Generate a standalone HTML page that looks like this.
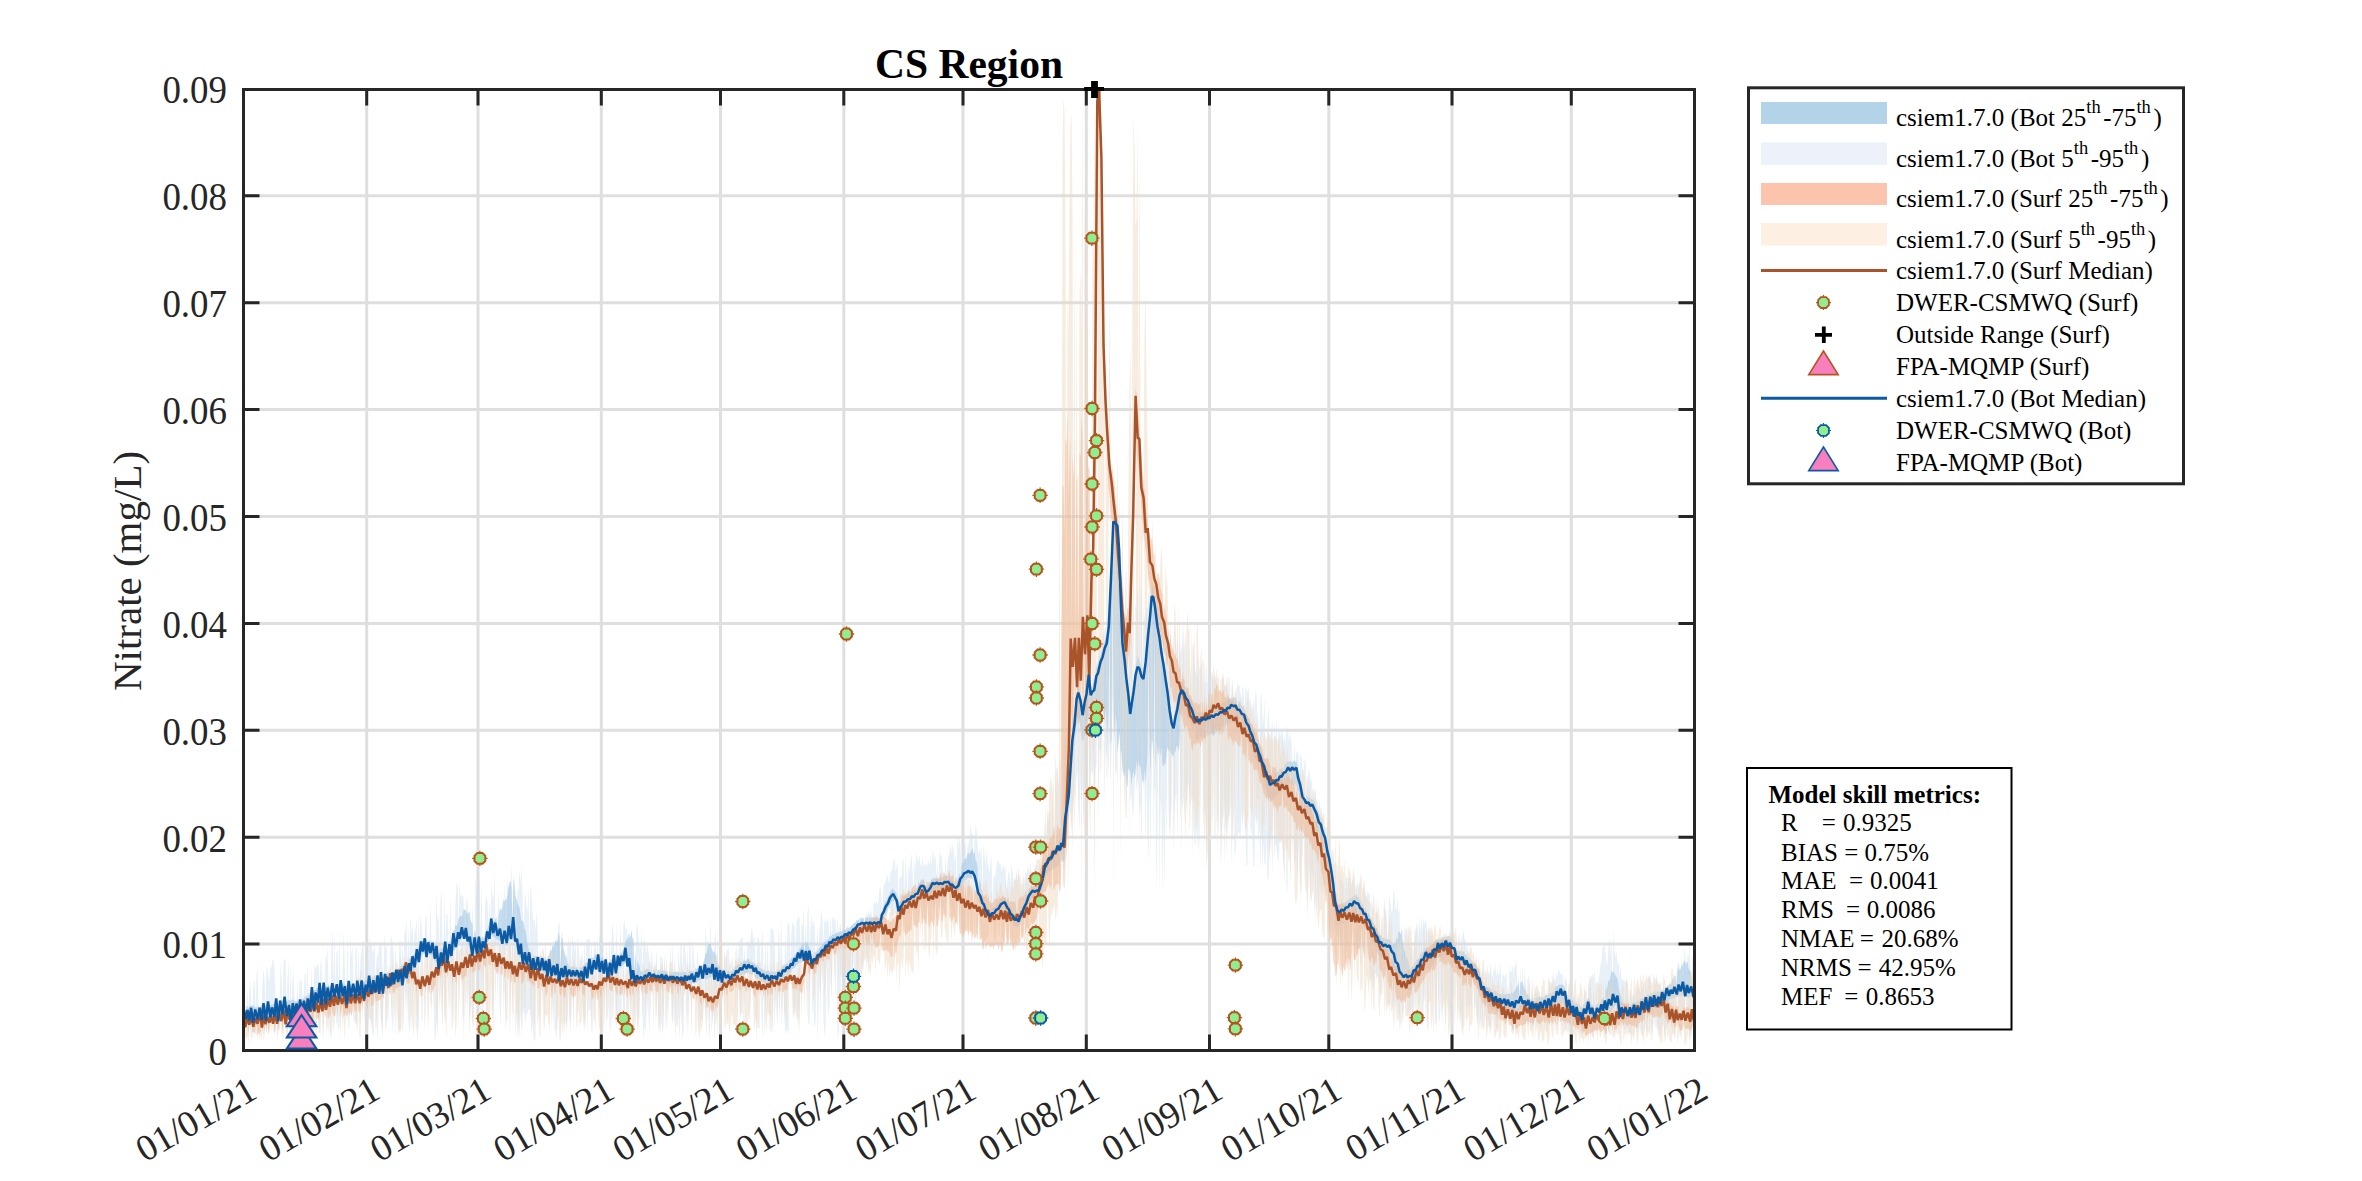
<!DOCTYPE html><html><head><meta charset="utf-8"><style>html,body{margin:0;padding:0;background:#fff;overflow:hidden}svg{display:block}</style></head><body><svg width="2362" height="1181" viewBox="0 0 2362 1181">
<rect width="100%" height="100%" fill="#fff"/>
<path d="M366.7 91V1049 M478.0 91V1049 M601.3 91V1049 M720.5 91V1049 M843.8 91V1049 M963.0 91V1049 M1086.3 91V1049 M1209.5 91V1049 M1328.8 91V1049 M1452.0 91V1049 M1571.3 91V1049 M245 944.1H1693 M245 837.2H1693 M245 730.3H1693 M245 623.4H1693 M245 516.5H1693 M245 409.6H1693 M245 302.7H1693 M245 195.8H1693" stroke="#262626" stroke-opacity="0.15" stroke-width="3" fill="none"/>
<defs><clipPath id="pc"><rect x="245" y="91" width="1448" height="958"/></clipPath></defs><g clip-path="url(#pc)">
<path d="M243.5 992.7 L244.5 985.7 L245.5 1009.7 L246.5 1009.5 L247.5 989.3 L248.5 1009.4 L249.5 988.3 L250.5 980.9 L251.5 1010.6 L252.5 1012.5 L253.5 981.1 L254.5 981.8 L255.5 1010.5 L256.5 977.1 L257.5 966.3 L258.5 1007.0 L259.5 1008.3 L260.5 1006.5 L261.5 1012.1 L262.5 981.6 L263.5 969.0 L264.5 980.2 L265.5 1006.5 L266.5 964.4 L267.5 970.8 L268.5 979.3 L269.5 981.1 L270.5 966.6 L271.5 968.3 L272.5 959.8 L273.5 959.5 L274.5 968.7 L275.5 1004.1 L276.5 1008.5 L277.5 1009.3 L278.5 1003.5 L279.5 1006.6 L280.5 960.0 L281.5 981.2 L282.5 1009.8 L283.5 963.1 L284.5 958.8 L285.5 961.1 L286.5 1007.4 L287.5 978.7 L288.5 960.2 L289.5 1008.1 L290.5 965.6 L291.5 1007.5 L292.5 978.0 L293.5 971.9 L294.5 1004.6 L295.5 1006.3 L296.5 1007.2 L297.5 980.6 L298.5 1007.0 L299.5 980.0 L300.5 980.9 L301.5 980.3 L302.5 999.5 L303.5 1003.5 L304.5 975.1 L305.5 972.4 L306.5 999.5 L307.5 959.8 L308.5 1000.9 L309.5 1000.6 L310.5 1000.0 L311.5 966.5 L312.5 998.0 L313.5 992.3 L314.5 963.9 L315.5 967.9 L316.5 966.9 L317.5 964.0 L318.5 965.3 L319.5 991.4 L320.5 961.1 L321.5 964.1 L322.5 989.1 L323.5 994.2 L324.5 988.5 L325.5 955.1 L326.5 959.2 L327.5 946.9 L328.5 989.5 L329.5 988.5 L330.5 990.9 L331.5 949.0 L332.5 929.8 L333.5 983.0 L334.5 932.6 L335.5 990.9 L336.5 951.6 L337.5 949.6 L338.5 987.3 L339.5 929.8 L340.5 990.6 L341.5 988.6 L342.5 983.6 L343.5 931.2 L344.5 954.6 L345.5 992.1 L346.5 988.2 L347.5 930.5 L348.5 990.8 L349.5 991.9 L350.5 935.4 L351.5 956.1 L352.5 944.3 L353.5 986.2 L354.5 989.3 L355.5 949.8 L356.5 945.4 L357.5 992.2 L358.5 944.2 L359.5 985.5 L360.5 959.4 L361.5 951.7 L362.5 940.5 L363.5 942.9 L364.5 985.7 L365.5 942.1 L366.5 981.7 L367.5 981.6 L368.5 949.0 L369.5 939.1 L370.5 943.5 L371.5 942.6 L372.5 952.1 L373.5 952.2 L374.5 939.4 L375.5 982.0 L376.5 957.9 L377.5 956.1 L378.5 952.1 L379.5 940.6 L380.5 948.0 L381.5 941.7 L382.5 977.6 L383.5 978.9 L384.5 933.4 L385.5 949.4 L386.5 943.5 L387.5 975.9 L388.5 977.7 L389.5 979.3 L390.5 944.9 L391.5 935.3 L392.5 941.7 L393.5 950.2 L394.5 974.8 L395.5 945.1 L396.5 970.3 L397.5 969.4 L398.5 972.4 L399.5 941.2 L400.5 940.2 L401.5 969.9 L402.5 938.6 L403.5 970.1 L404.5 927.1 L405.5 933.9 L406.5 918.9 L407.5 968.2 L408.5 925.5 L409.5 965.1 L410.5 914.6 L411.5 935.2 L412.5 923.0 L413.5 959.7 L414.5 932.0 L415.5 929.8 L416.5 918.8 L417.5 955.1 L418.5 915.3 L419.5 952.0 L420.5 913.3 L421.5 923.8 L422.5 946.7 L423.5 946.2 L424.5 940.8 L425.5 915.9 L426.5 916.0 L427.5 940.7 L428.5 940.9 L429.5 943.6 L430.5 902.2 L431.5 945.4 L432.5 945.7 L433.5 949.0 L434.5 951.9 L435.5 950.2 L436.5 893.4 L437.5 920.3 L438.5 917.6 L439.5 954.6 L440.5 899.5 L441.5 891.7 L442.5 947.9 L443.5 952.3 L444.5 895.3 L445.5 943.8 L446.5 914.6 L447.5 913.2 L448.5 946.7 L449.5 945.5 L450.5 896.8 L451.5 945.5 L452.5 944.9 L453.5 944.3 L454.5 935.5 L455.5 903.2 L456.5 882.1 L457.5 885.1 L458.5 929.1 L459.5 881.4 L460.5 897.4 L461.5 895.3 L462.5 895.3 L463.5 898.9 L464.5 925.0 L465.5 931.3 L466.5 896.3 L467.5 901.1 L468.5 936.2 L469.5 939.0 L470.5 939.2 L471.5 943.4 L472.5 900.9 L473.5 946.1 L474.5 939.6 L475.5 875.5 L476.5 891.8 L477.5 882.1 L478.5 892.7 L479.5 877.4 L480.5 941.8 L481.5 880.0 L482.5 938.3 L483.5 939.6 L484.5 941.3 L485.5 894.6 L486.5 898.9 L487.5 899.8 L488.5 932.6 L489.5 898.6 L490.5 925.1 L491.5 881.6 L492.5 897.5 L493.5 897.5 L494.5 873.7 L495.5 927.5 L496.5 923.7 L497.5 925.0 L498.5 889.4 L499.5 930.7 L500.5 929.9 L501.5 929.2 L502.5 894.2 L503.5 932.0 L504.5 878.2 L505.5 926.9 L506.5 937.2 L507.5 876.4 L508.5 888.2 L509.5 879.9 L510.5 886.9 L511.5 861.7 L512.5 924.3 L513.5 876.1 L514.5 927.4 L515.5 930.8 L516.5 934.6 L517.5 890.2 L518.5 890.0 L519.5 869.9 L520.5 884.3 L521.5 865.5 L522.5 896.4 L523.5 952.9 L524.5 905.4 L525.5 892.3 L526.5 907.5 L527.5 911.6 L528.5 888.4 L529.5 957.5 L530.5 883.4 L531.5 895.0 L532.5 914.1 L533.5 921.6 L534.5 919.5 L535.5 930.3 L536.5 910.8 L537.5 929.7 L538.5 959.6 L539.5 962.3 L540.5 959.4 L541.5 960.6 L542.5 964.4 L543.5 947.9 L544.5 961.2 L545.5 938.7 L546.5 963.6 L547.5 964.0 L548.5 962.5 L549.5 962.8 L550.5 944.7 L551.5 965.8 L552.5 945.3 L553.5 941.0 L554.5 943.5 L555.5 941.0 L556.5 968.1 L557.5 938.3 L558.5 922.9 L559.5 923.9 L560.5 970.7 L561.5 933.7 L562.5 932.6 L563.5 970.7 L564.5 968.0 L565.5 969.3 L566.5 971.8 L567.5 945.7 L568.5 937.4 L569.5 947.0 L570.5 936.8 L571.5 968.0 L572.5 935.3 L573.5 942.8 L574.5 951.5 L575.5 938.9 L576.5 971.7 L577.5 937.5 L578.5 941.6 L579.5 971.1 L580.5 972.8 L581.5 953.9 L582.5 953.1 L583.5 968.4 L584.5 938.9 L585.5 969.2 L586.5 939.8 L587.5 939.1 L588.5 940.1 L589.5 936.2 L590.5 964.2 L591.5 941.1 L592.5 962.2 L593.5 961.7 L594.5 939.4 L595.5 944.0 L596.5 957.4 L597.5 938.4 L598.5 960.9 L599.5 933.3 L600.5 942.8 L601.5 943.0 L602.5 941.5 L603.5 943.5 L604.5 964.4 L605.5 961.6 L606.5 943.0 L607.5 967.8 L608.5 968.0 L609.5 935.9 L610.5 965.8 L611.5 939.8 L612.5 922.0 L613.5 935.5 L614.5 963.2 L615.5 960.8 L616.5 922.6 L617.5 961.0 L618.5 960.5 L619.5 959.1 L620.5 921.3 L621.5 956.7 L622.5 952.9 L623.5 924.0 L624.5 919.9 L625.5 929.7 L626.5 925.8 L627.5 952.0 L628.5 960.2 L629.5 925.3 L630.5 960.7 L631.5 929.8 L632.5 968.2 L633.5 973.8 L634.5 968.6 L635.5 972.9 L636.5 928.0 L637.5 922.9 L638.5 939.7 L639.5 947.8 L640.5 948.2 L641.5 930.6 L642.5 977.4 L643.5 941.2 L644.5 940.5 L645.5 946.2 L646.5 955.8 L647.5 942.7 L648.5 953.5 L649.5 958.5 L650.5 971.5 L651.5 949.2 L652.5 959.4 L653.5 973.5 L654.5 959.0 L655.5 973.2 L656.5 947.5 L657.5 975.9 L658.5 976.0 L659.5 974.4 L660.5 955.6 L661.5 956.7 L662.5 958.5 L663.5 973.2 L664.5 953.4 L665.5 975.1 L666.5 956.2 L667.5 976.8 L668.5 974.4 L669.5 973.0 L670.5 944.1 L671.5 973.7 L672.5 942.5 L673.5 977.5 L674.5 954.9 L675.5 972.7 L676.5 976.8 L677.5 975.7 L678.5 947.9 L679.5 974.2 L680.5 944.7 L681.5 942.5 L682.5 975.5 L683.5 945.7 L684.5 943.1 L685.5 954.1 L686.5 975.2 L687.5 947.5 L688.5 974.1 L689.5 937.5 L690.5 948.6 L691.5 975.8 L692.5 940.4 L693.5 949.2 L694.5 972.2 L695.5 971.3 L696.5 974.7 L697.5 949.3 L698.5 970.9 L699.5 969.9 L700.5 971.9 L701.5 967.1 L702.5 969.5 L703.5 971.5 L704.5 965.3 L705.5 926.5 L706.5 942.7 L707.5 942.0 L708.5 940.5 L709.5 969.5 L710.5 917.3 L711.5 962.4 L712.5 970.4 L713.5 967.9 L714.5 938.0 L715.5 929.8 L716.5 970.4 L717.5 936.6 L718.5 972.9 L719.5 971.7 L720.5 938.7 L721.5 973.0 L722.5 970.2 L723.5 974.6 L724.5 951.6 L725.5 974.7 L726.5 948.5 L727.5 950.4 L728.5 946.5 L729.5 959.4 L730.5 977.5 L731.5 960.1 L732.5 955.8 L733.5 973.6 L734.5 973.8 L735.5 951.4 L736.5 945.9 L737.5 969.2 L738.5 949.8 L739.5 942.1 L740.5 939.2 L741.5 939.0 L742.5 936.1 L743.5 967.0 L744.5 946.7 L745.5 966.7 L746.5 963.9 L747.5 938.3 L748.5 945.6 L749.5 945.5 L750.5 938.3 L751.5 927.6 L752.5 931.4 L753.5 942.7 L754.5 934.3 L755.5 964.4 L756.5 966.1 L757.5 937.9 L758.5 936.1 L759.5 941.9 L760.5 970.4 L761.5 943.0 L762.5 928.9 L763.5 973.8 L764.5 975.7 L765.5 938.5 L766.5 977.1 L767.5 939.1 L768.5 969.1 L769.5 972.5 L770.5 926.7 L771.5 928.2 L772.5 929.1 L773.5 930.2 L774.5 943.0 L775.5 970.1 L776.5 976.4 L777.5 976.1 L778.5 928.8 L779.5 938.0 L780.5 967.8 L781.5 916.3 L782.5 966.4 L783.5 963.2 L784.5 967.8 L785.5 930.5 L786.5 963.4 L787.5 924.4 L788.5 922.9 L789.5 923.9 L790.5 962.7 L791.5 932.9 L792.5 920.9 L793.5 925.4 L794.5 924.5 L795.5 959.3 L796.5 922.1 L797.5 919.0 L798.5 915.7 L799.5 918.1 L800.5 950.6 L801.5 924.9 L802.5 926.3 L803.5 907.3 L804.5 949.8 L805.5 923.0 L806.5 952.0 L807.5 912.9 L808.5 904.9 L809.5 949.6 L810.5 926.6 L811.5 914.2 L812.5 927.4 L813.5 921.3 L814.5 922.2 L815.5 957.0 L816.5 951.4 L817.5 926.3 L818.5 953.7 L819.5 927.4 L820.5 923.7 L821.5 908.2 L822.5 921.0 L823.5 943.7 L824.5 916.7 L825.5 922.3 L826.5 921.5 L827.5 918.6 L828.5 923.7 L829.5 939.4 L830.5 914.6 L831.5 938.2 L832.5 914.7 L833.5 920.2 L834.5 918.4 L835.5 921.3 L836.5 936.7 L837.5 917.6 L838.5 936.2 L839.5 927.3 L840.5 922.3 L841.5 936.4 L842.5 936.1 L843.5 931.7 L844.5 935.2 L845.5 930.2 L846.5 934.4 L847.5 930.7 L848.5 929.3 L849.5 932.5 L850.5 932.1 L851.5 927.0 L852.5 925.6 L853.5 929.8 L854.5 925.0 L855.5 924.4 L856.5 926.5 L857.5 921.2 L858.5 920.1 L859.5 918.8 L860.5 918.0 L861.5 919.8 L862.5 919.5 L863.5 918.6 L864.5 922.4 L865.5 917.5 L866.5 915.0 L867.5 914.4 L868.5 911.9 L869.5 914.7 L870.5 909.4 L871.5 912.4 L872.5 920.9 L873.5 905.0 L874.5 900.6 L875.5 905.5 L876.5 900.6 L877.5 904.2 L878.5 901.4 L879.5 887.6 L880.5 886.9 L881.5 898.2 L882.5 910.7 L883.5 888.0 L884.5 883.5 L885.5 881.9 L886.5 878.1 L887.5 874.6 L888.5 882.7 L889.5 880.6 L890.5 871.9 L891.5 870.9 L892.5 869.0 L893.5 858.4 L894.5 859.3 L895.5 871.6 L896.5 866.7 L897.5 861.9 L898.5 902.9 L899.5 878.0 L900.5 877.5 L901.5 876.4 L902.5 861.6 L903.5 857.4 L904.5 896.9 L905.5 854.5 L906.5 873.5 L907.5 895.2 L908.5 863.6 L909.5 871.5 L910.5 860.7 L911.5 852.8 L912.5 870.6 L913.5 895.3 L914.5 860.1 L915.5 868.9 L916.5 852.1 L917.5 860.0 L918.5 861.0 L919.5 855.1 L920.5 866.4 L921.5 865.9 L922.5 856.8 L923.5 866.9 L924.5 863.9 L925.5 864.7 L926.5 866.4 L927.5 864.1 L928.5 860.3 L929.5 866.4 L930.5 857.4 L931.5 865.6 L932.5 854.9 L933.5 850.0 L934.5 861.1 L935.5 853.5 L936.5 879.5 L937.5 862.3 L938.5 882.4 L939.5 849.4 L940.5 855.9 L941.5 854.3 L942.5 863.9 L943.5 880.1 L944.5 880.1 L945.5 854.0 L946.5 876.9 L947.5 861.1 L948.5 855.8 L949.5 852.8 L950.5 843.9 L951.5 852.5 L952.5 843.4 L953.5 849.9 L954.5 859.1 L955.5 854.4 L956.5 883.9 L957.5 836.3 L958.5 847.2 L959.5 833.7 L960.5 846.9 L961.5 876.8 L962.5 838.0 L963.5 844.2 L964.5 844.0 L965.5 842.8 L966.5 865.4 L967.5 844.9 L968.5 845.1 L969.5 837.6 L970.5 824.5 L971.5 833.9 L972.5 832.4 L973.5 868.7 L974.5 843.3 L975.5 825.9 L976.5 829.0 L977.5 843.8 L978.5 853.5 L979.5 848.7 L980.5 855.9 L981.5 844.6 L982.5 896.2 L983.5 844.2 L984.5 854.6 L985.5 864.2 L986.5 850.2 L987.5 863.4 L988.5 866.4 L989.5 875.0 L990.5 864.7 L991.5 854.8 L992.5 903.8 L993.5 876.5 L994.5 876.8 L995.5 874.5 L996.5 866.1 L997.5 860.3 L998.5 860.2 L999.5 865.2 L1000.5 862.8 L1001.5 871.6 L1002.5 869.1 L1003.5 863.5 L1004.5 870.8 L1005.5 864.3 L1006.5 900.8 L1007.5 881.3 L1008.5 870.3 L1009.5 874.8 L1010.5 882.9 L1011.5 863.7 L1012.5 871.4 L1013.5 881.9 L1014.5 879.5 L1015.5 880.6 L1016.5 869.1 L1017.5 881.9 L1018.5 872.2 L1019.5 885.6 L1020.5 883.7 L1021.5 907.3 L1022.5 880.3 L1023.5 873.4 L1024.5 880.5 L1025.5 873.4 L1026.5 872.5 L1027.5 869.1 L1028.5 866.6 L1029.5 872.3 L1030.5 873.2 L1031.5 870.9 L1032.5 871.7 L1033.5 873.7 L1034.5 867.9 L1035.5 863.4 L1036.5 867.4 L1037.5 873.9 L1038.5 873.1 L1039.5 860.2 L1040.5 867.9 L1041.5 862.6 L1042.5 852.7 L1043.5 845.6 L1044.5 866.2 L1045.5 861.3 L1046.5 827.0 L1047.5 813.0 L1048.5 823.8 L1049.5 811.6 L1050.5 808.7 L1051.5 853.9 L1052.5 782.5 L1053.5 852.5 L1054.5 847.8 L1055.5 763.6 L1056.5 793.7 L1057.5 765.6 L1058.5 786.5 L1059.5 760.4 L1060.5 759.3 L1061.5 844.6 L1062.5 830.1 L1063.5 773.6 L1064.5 731.5 L1065.5 739.5 L1066.5 721.6 L1067.5 722.3 L1068.5 732.7 L1069.5 744.0 L1070.5 761.9 L1071.5 728.2 L1072.5 719.0 L1073.5 717.3 L1074.5 721.6 L1075.5 708.0 L1076.5 696.6 L1077.5 688.3 L1078.5 687.3 L1079.5 692.0 L1080.5 696.2 L1081.5 699.1 L1082.5 704.4 L1083.5 702.0 L1084.5 697.6 L1085.5 694.9 L1086.5 688.7 L1087.5 682.3 L1088.5 673.9 L1089.5 678.6 L1090.5 687.5 L1091.5 686.4 L1092.5 691.7 L1093.5 679.1 L1094.5 684.9 L1095.5 670.3 L1096.5 663.9 L1097.5 661.9 L1098.5 652.6 L1099.5 642.9 L1100.5 660.9 L1101.5 644.2 L1102.5 636.2 L1103.5 634.9 L1104.5 628.5 L1105.5 626.8 L1106.5 639.7 L1107.5 618.5 L1108.5 612.9 L1109.5 595.6 L1110.5 581.3 L1111.5 563.7 L1112.5 536.9 L1113.5 513.3 L1114.5 516.7 L1115.5 519.3 L1116.5 520.1 L1117.5 523.1 L1118.5 525.0 L1119.5 544.1 L1120.5 586.7 L1121.5 567.7 L1122.5 587.3 L1123.5 587.8 L1124.5 644.5 L1125.5 572.0 L1126.5 570.3 L1127.5 668.1 L1128.5 679.7 L1129.5 616.3 L1130.5 593.7 L1131.5 567.9 L1132.5 616.1 L1133.5 688.8 L1134.5 682.4 L1135.5 602.8 L1136.5 609.3 L1137.5 586.0 L1138.5 598.3 L1139.5 668.7 L1140.5 577.4 L1141.5 597.0 L1142.5 669.4 L1143.5 605.2 L1144.5 620.5 L1145.5 616.8 L1146.5 608.3 L1147.5 608.6 L1148.5 591.8 L1149.5 598.3 L1150.5 590.0 L1151.5 591.9 L1152.5 585.2 L1153.5 590.7 L1154.5 595.5 L1155.5 609.2 L1156.5 601.2 L1157.5 599.9 L1158.5 604.4 L1159.5 638.0 L1160.5 618.8 L1161.5 613.8 L1162.5 627.5 L1163.5 630.0 L1164.5 664.5 L1165.5 616.7 L1166.5 615.4 L1167.5 645.8 L1168.5 643.1 L1169.5 649.8 L1170.5 620.1 L1171.5 662.5 L1172.5 663.3 L1173.5 629.9 L1174.5 716.4 L1175.5 629.3 L1176.5 656.3 L1177.5 633.9 L1178.5 701.1 L1179.5 639.3 L1180.5 652.7 L1181.5 648.4 L1182.5 627.3 L1183.5 654.2 L1184.5 645.5 L1185.5 632.3 L1186.5 653.0 L1187.5 698.9 L1188.5 634.2 L1189.5 703.9 L1190.5 658.8 L1191.5 704.9 L1192.5 647.5 L1193.5 641.2 L1194.5 665.0 L1195.5 671.1 L1196.5 674.7 L1197.5 677.4 L1198.5 654.3 L1199.5 669.6 L1200.5 668.3 L1201.5 662.2 L1202.5 659.6 L1203.5 711.1 L1204.5 681.9 L1205.5 682.3 L1206.5 662.4 L1207.5 683.1 L1208.5 683.9 L1209.5 675.7 L1210.5 666.3 L1211.5 674.0 L1212.5 675.8 L1213.5 682.9 L1214.5 670.0 L1215.5 679.9 L1216.5 678.5 L1217.5 707.7 L1218.5 674.7 L1219.5 712.2 L1220.5 706.4 L1221.5 707.7 L1222.5 674.7 L1223.5 672.2 L1224.5 686.6 L1225.5 685.3 L1226.5 684.7 L1227.5 689.4 L1228.5 678.2 L1229.5 677.6 L1230.5 703.1 L1231.5 687.6 L1232.5 679.0 L1233.5 702.3 L1234.5 704.7 L1235.5 690.6 L1236.5 704.9 L1237.5 680.3 L1238.5 685.8 L1239.5 685.6 L1240.5 694.1 L1241.5 710.1 L1242.5 686.4 L1243.5 687.9 L1244.5 712.9 L1245.5 686.9 L1246.5 689.2 L1247.5 693.3 L1248.5 686.0 L1249.5 701.9 L1250.5 697.9 L1251.5 728.2 L1252.5 703.8 L1253.5 700.5 L1254.5 711.2 L1255.5 691.2 L1256.5 694.1 L1257.5 740.3 L1258.5 712.9 L1259.5 751.5 L1260.5 697.7 L1261.5 693.0 L1262.5 723.5 L1263.5 720.1 L1264.5 696.4 L1265.5 767.4 L1266.5 770.7 L1267.5 723.4 L1268.5 705.9 L1269.5 733.6 L1270.5 738.6 L1271.5 726.0 L1272.5 722.3 L1273.5 775.4 L1274.5 721.3 L1275.5 741.1 L1276.5 717.7 L1277.5 773.9 L1278.5 725.9 L1279.5 732.8 L1280.5 736.4 L1281.5 727.3 L1282.5 733.3 L1283.5 743.6 L1284.5 733.9 L1285.5 743.5 L1286.5 729.7 L1287.5 725.9 L1288.5 742.2 L1289.5 730.8 L1290.5 737.6 L1291.5 743.4 L1292.5 769.0 L1293.5 766.9 L1294.5 743.2 L1295.5 767.1 L1296.5 749.9 L1297.5 753.3 L1298.5 753.1 L1299.5 778.9 L1300.5 752.7 L1301.5 756.8 L1302.5 769.1 L1303.5 770.9 L1304.5 760.2 L1305.5 759.7 L1306.5 797.0 L1307.5 780.4 L1308.5 771.9 L1309.5 770.0 L1310.5 780.3 L1311.5 779.6 L1312.5 789.6 L1313.5 792.2 L1314.5 787.9 L1315.5 797.1 L1316.5 800.2 L1317.5 799.6 L1318.5 816.6 L1319.5 798.8 L1320.5 808.0 L1321.5 809.1 L1322.5 817.6 L1323.5 817.7 L1324.5 832.6 L1325.5 825.3 L1326.5 827.7 L1327.5 826.0 L1328.5 838.1 L1329.5 833.1 L1330.5 863.2 L1331.5 851.1 L1332.5 849.2 L1333.5 854.7 L1334.5 864.9 L1335.5 861.0 L1336.5 907.2 L1337.5 871.8 L1338.5 911.1 L1339.5 870.6 L1340.5 880.3 L1341.5 878.6 L1342.5 883.5 L1343.5 883.7 L1344.5 902.5 L1345.5 872.2 L1346.5 877.9 L1347.5 877.6 L1348.5 882.4 L1349.5 873.7 L1350.5 880.9 L1351.5 886.2 L1352.5 881.2 L1353.5 877.9 L1354.5 874.5 L1355.5 899.8 L1356.5 887.3 L1357.5 881.6 L1358.5 888.4 L1359.5 881.6 L1360.5 883.0 L1361.5 905.2 L1362.5 893.8 L1363.5 886.6 L1364.5 889.5 L1365.5 894.4 L1366.5 899.7 L1367.5 890.7 L1368.5 894.7 L1369.5 891.0 L1370.5 904.7 L1371.5 901.1 L1372.5 908.0 L1373.5 909.5 L1374.5 929.4 L1375.5 929.5 L1376.5 900.7 L1377.5 913.4 L1378.5 937.9 L1379.5 914.2 L1380.5 943.1 L1381.5 917.0 L1382.5 941.8 L1383.5 911.9 L1384.5 898.4 L1385.5 912.1 L1386.5 915.7 L1387.5 944.1 L1388.5 914.7 L1389.5 895.0 L1390.5 905.7 L1391.5 912.1 L1392.5 910.7 L1393.5 889.7 L1394.5 894.9 L1395.5 907.7 L1396.5 910.6 L1397.5 897.0 L1398.5 914.1 L1399.5 909.1 L1400.5 972.5 L1401.5 926.9 L1402.5 929.4 L1403.5 973.4 L1404.5 926.5 L1405.5 931.8 L1406.5 940.3 L1407.5 929.3 L1408.5 925.4 L1409.5 942.8 L1410.5 948.8 L1411.5 942.5 L1412.5 945.8 L1413.5 970.3 L1414.5 927.7 L1415.5 938.8 L1416.5 921.7 L1417.5 926.0 L1418.5 937.0 L1419.5 918.1 L1420.5 933.5 L1421.5 916.5 L1422.5 930.4 L1423.5 918.7 L1424.5 925.5 L1425.5 918.1 L1426.5 923.8 L1427.5 933.1 L1428.5 928.4 L1429.5 925.8 L1430.5 935.2 L1431.5 935.7 L1432.5 934.5 L1433.5 939.8 L1434.5 941.3 L1435.5 940.5 L1436.5 943.1 L1437.5 942.8 L1438.5 945.1 L1439.5 939.7 L1440.5 940.7 L1441.5 940.9 L1442.5 939.2 L1443.5 941.0 L1444.5 940.6 L1445.5 940.4 L1446.5 940.0 L1447.5 937.9 L1448.5 939.4 L1449.5 939.1 L1450.5 937.8 L1451.5 945.2 L1452.5 936.1 L1453.5 933.9 L1454.5 939.3 L1455.5 951.7 L1456.5 936.6 L1457.5 953.2 L1458.5 936.9 L1459.5 933.1 L1460.5 956.8 L1461.5 938.3 L1462.5 936.6 L1463.5 929.9 L1464.5 939.5 L1465.5 940.2 L1466.5 948.6 L1467.5 944.3 L1468.5 951.1 L1469.5 955.8 L1470.5 955.7 L1471.5 967.1 L1472.5 967.0 L1473.5 961.3 L1474.5 970.3 L1475.5 967.6 L1476.5 971.6 L1477.5 968.7 L1478.5 969.7 L1479.5 967.7 L1480.5 968.4 L1481.5 973.9 L1482.5 967.9 L1483.5 974.3 L1484.5 990.7 L1485.5 974.2 L1486.5 974.9 L1487.5 965.7 L1488.5 974.6 L1489.5 973.7 L1490.5 962.0 L1491.5 974.4 L1492.5 977.3 L1493.5 971.7 L1494.5 969.5 L1495.5 964.0 L1496.5 977.7 L1497.5 969.3 L1498.5 976.0 L1499.5 973.1 L1500.5 961.3 L1501.5 997.7 L1502.5 973.6 L1503.5 974.6 L1504.5 977.3 L1505.5 974.6 L1506.5 972.9 L1507.5 998.4 L1508.5 997.0 L1509.5 963.7 L1510.5 971.8 L1511.5 971.9 L1512.5 964.6 L1513.5 975.6 L1514.5 964.9 L1515.5 967.1 L1516.5 957.3 L1517.5 999.3 L1518.5 975.0 L1519.5 993.2 L1520.5 967.5 L1521.5 999.2 L1522.5 961.2 L1523.5 999.8 L1524.5 970.1 L1525.5 979.8 L1526.5 998.8 L1527.5 979.2 L1528.5 974.2 L1529.5 985.0 L1530.5 1001.4 L1531.5 1004.2 L1532.5 989.9 L1533.5 1003.1 L1534.5 990.6 L1535.5 991.6 L1536.5 993.6 L1537.5 988.6 L1538.5 995.4 L1539.5 991.3 L1540.5 1003.6 L1541.5 993.4 L1542.5 994.6 L1543.5 1002.8 L1544.5 1001.7 L1545.5 1001.3 L1546.5 987.4 L1547.5 1000.5 L1548.5 987.3 L1549.5 979.6 L1550.5 987.3 L1551.5 984.8 L1552.5 976.6 L1553.5 973.5 L1554.5 980.3 L1555.5 981.1 L1556.5 971.7 L1557.5 977.8 L1558.5 968.9 L1559.5 971.1 L1560.5 973.7 L1561.5 974.0 L1562.5 974.3 L1563.5 990.9 L1564.5 978.7 L1565.5 976.7 L1566.5 980.9 L1567.5 1002.8 L1568.5 983.4 L1569.5 984.9 L1570.5 992.9 L1571.5 1007.2 L1572.5 1006.0 L1573.5 997.7 L1574.5 995.5 L1575.5 1000.3 L1576.5 1001.4 L1577.5 996.2 L1578.5 998.1 L1579.5 1000.0 L1580.5 1005.9 L1581.5 1003.8 L1582.5 1012.8 L1583.5 995.8 L1584.5 990.4 L1585.5 991.8 L1586.5 990.1 L1587.5 1006.2 L1588.5 981.6 L1589.5 988.1 L1590.5 977.3 L1591.5 976.0 L1592.5 973.1 L1593.5 978.2 L1594.5 969.7 L1595.5 985.0 L1596.5 981.0 L1597.5 1007.0 L1598.5 977.8 L1599.5 974.9 L1600.5 964.4 L1601.5 961.6 L1602.5 947.7 L1603.5 946.9 L1604.5 942.9 L1605.5 952.9 L1606.5 962.8 L1607.5 963.8 L1608.5 947.2 L1609.5 937.4 L1610.5 952.5 L1611.5 943.9 L1612.5 991.2 L1613.5 928.8 L1614.5 952.1 L1615.5 956.9 L1616.5 950.4 L1617.5 964.5 L1618.5 962.1 L1619.5 975.0 L1620.5 965.3 L1621.5 978.6 L1622.5 980.3 L1623.5 979.4 L1624.5 981.7 L1625.5 980.9 L1626.5 979.4 L1627.5 980.7 L1628.5 990.1 L1629.5 1009.8 L1630.5 991.2 L1631.5 996.2 L1632.5 996.3 L1633.5 994.1 L1634.5 996.6 L1635.5 996.0 L1636.5 989.9 L1637.5 986.5 L1638.5 987.9 L1639.5 989.1 L1640.5 993.3 L1641.5 986.4 L1642.5 986.9 L1643.5 984.5 L1644.5 982.0 L1645.5 979.0 L1646.5 988.4 L1647.5 987.7 L1648.5 975.5 L1649.5 977.5 L1650.5 973.6 L1651.5 999.2 L1652.5 1000.0 L1653.5 985.8 L1654.5 977.6 L1655.5 978.7 L1656.5 979.3 L1657.5 984.9 L1658.5 986.1 L1659.5 985.3 L1660.5 979.8 L1661.5 997.9 L1662.5 988.3 L1663.5 981.4 L1664.5 995.2 L1665.5 994.6 L1666.5 988.6 L1667.5 987.6 L1668.5 986.5 L1669.5 984.9 L1670.5 987.2 L1671.5 984.3 L1672.5 980.3 L1673.5 979.6 L1674.5 989.5 L1675.5 988.6 L1676.5 973.8 L1677.5 964.5 L1678.5 961.6 L1679.5 965.7 L1680.5 987.7 L1681.5 951.2 L1682.5 985.2 L1683.5 987.7 L1684.5 945.2 L1685.5 959.0 L1686.5 987.6 L1687.5 955.0 L1688.5 958.0 L1689.5 940.7 L1690.5 986.0 L1691.5 983.7 L1692.5 955.8 L1693.5 957.9 L1694.5 987.5 L1694.5 1019.1 L1693.5 1037.0 L1692.5 1018.9 L1691.5 1034.7 L1690.5 1038.4 L1689.5 1039.5 L1688.5 1031.9 L1687.5 992.9 L1686.5 1021.0 L1685.5 992.1 L1684.5 1022.7 L1683.5 1029.8 L1682.5 1019.5 L1681.5 1029.6 L1680.5 1031.4 L1679.5 1030.2 L1678.5 1021.3 L1677.5 995.0 L1676.5 990.8 L1675.5 1039.5 L1674.5 1035.7 L1673.5 1021.5 L1672.5 1035.2 L1671.5 1020.5 L1670.5 995.1 L1669.5 1020.7 L1668.5 1022.7 L1667.5 1027.2 L1666.5 1028.6 L1665.5 1037.1 L1664.5 1035.1 L1663.5 1025.7 L1662.5 1024.4 L1661.5 1023.5 L1660.5 1039.4 L1659.5 1029.9 L1658.5 1038.6 L1657.5 1022.6 L1656.5 1028.6 L1655.5 1028.0 L1654.5 1003.2 L1653.5 1022.6 L1652.5 1033.3 L1651.5 1023.4 L1650.5 1036.6 L1649.5 1031.6 L1648.5 1006.8 L1647.5 1033.1 L1646.5 1031.2 L1645.5 1026.6 L1644.5 1033.0 L1643.5 1009.9 L1642.5 1038.3 L1641.5 1034.5 L1640.5 1030.7 L1639.5 1026.3 L1638.5 1034.4 L1637.5 1027.3 L1636.5 1034.4 L1635.5 1014.3 L1634.5 1031.7 L1633.5 1036.0 L1632.5 1011.7 L1631.5 1035.8 L1630.5 1031.4 L1629.5 1036.2 L1628.5 1027.0 L1627.5 1026.7 L1626.5 1035.6 L1625.5 1026.7 L1624.5 1030.9 L1623.5 1026.2 L1622.5 1026.3 L1621.5 1029.3 L1620.5 1026.3 L1619.5 1010.7 L1618.5 1035.6 L1617.5 1033.7 L1616.5 1029.2 L1615.5 1024.1 L1614.5 1038.1 L1613.5 1004.0 L1612.5 1029.7 L1611.5 1037.3 L1610.5 1022.9 L1609.5 1033.0 L1608.5 1031.4 L1607.5 1025.5 L1606.5 1032.5 L1605.5 1034.7 L1604.5 1031.3 L1603.5 1028.7 L1602.5 1025.6 L1601.5 1025.2 L1600.5 1027.9 L1599.5 1030.4 L1598.5 1028.5 L1597.5 1028.9 L1596.5 1029.1 L1595.5 1030.2 L1594.5 1027.1 L1593.5 1035.9 L1592.5 1037.7 L1591.5 1035.5 L1590.5 1027.4 L1589.5 1027.8 L1588.5 1007.8 L1587.5 1027.8 L1586.5 1033.4 L1585.5 1014.1 L1584.5 1026.6 L1583.5 1030.4 L1582.5 1027.6 L1581.5 1034.0 L1580.5 1032.7 L1579.5 1032.0 L1578.5 1036.0 L1577.5 1031.8 L1576.5 1015.5 L1575.5 1028.1 L1574.5 1027.6 L1573.5 1026.0 L1572.5 1025.3 L1571.5 1025.0 L1570.5 1008.9 L1569.5 1028.1 L1568.5 1032.5 L1567.5 1033.1 L1566.5 1024.5 L1565.5 1031.9 L1564.5 1021.9 L1563.5 996.1 L1562.5 1030.5 L1561.5 998.5 L1560.5 1036.5 L1559.5 993.1 L1558.5 1021.3 L1557.5 1025.1 L1556.5 1024.5 L1555.5 1024.6 L1554.5 997.4 L1553.5 998.8 L1552.5 1021.5 L1551.5 1029.6 L1550.5 1022.3 L1549.5 1004.3 L1548.5 1024.5 L1547.5 1032.1 L1546.5 1032.0 L1545.5 1031.1 L1544.5 1024.7 L1543.5 1007.8 L1542.5 1005.4 L1541.5 1023.7 L1540.5 1032.4 L1539.5 1022.8 L1538.5 1023.8 L1537.5 1026.7 L1536.5 1032.8 L1535.5 1007.9 L1534.5 1024.6 L1533.5 1028.1 L1532.5 1025.2 L1531.5 1027.0 L1530.5 1031.2 L1529.5 1005.5 L1528.5 1025.8 L1527.5 1025.2 L1526.5 1021.0 L1525.5 1024.5 L1524.5 1020.7 L1523.5 1024.9 L1522.5 1023.7 L1521.5 1002.4 L1520.5 1023.7 L1519.5 1023.7 L1518.5 1000.3 L1517.5 1029.3 L1516.5 1028.1 L1515.5 1025.2 L1514.5 1007.6 L1513.5 1026.2 L1512.5 1033.3 L1511.5 1021.2 L1510.5 1021.3 L1509.5 1020.8 L1508.5 1021.7 L1507.5 1004.0 L1506.5 1021.4 L1505.5 1019.7 L1504.5 1027.1 L1503.5 1020.0 L1502.5 1019.8 L1501.5 1004.6 L1500.5 1004.5 L1499.5 1020.9 L1498.5 1019.5 L1497.5 1033.1 L1496.5 1027.8 L1495.5 1025.6 L1494.5 1003.3 L1493.5 1000.4 L1492.5 1021.2 L1491.5 1025.9 L1490.5 1032.5 L1489.5 1028.1 L1488.5 1019.0 L1487.5 1019.2 L1486.5 1029.4 L1485.5 1017.8 L1484.5 1015.7 L1483.5 994.1 L1482.5 1022.7 L1481.5 1028.4 L1480.5 1017.3 L1479.5 1030.1 L1478.5 1010.4 L1477.5 1026.1 L1476.5 1010.9 L1475.5 1005.9 L1474.5 1007.9 L1473.5 972.2 L1472.5 974.6 L1471.5 1010.0 L1470.5 1003.4 L1469.5 1006.3 L1468.5 1007.3 L1467.5 1001.6 L1466.5 1025.3 L1465.5 1017.3 L1464.5 961.3 L1463.5 1018.0 L1462.5 1030.6 L1461.5 1011.2 L1460.5 1024.1 L1459.5 1006.1 L1458.5 964.1 L1457.5 1027.7 L1456.5 965.9 L1455.5 962.5 L1454.5 951.0 L1453.5 996.7 L1452.5 999.8 L1451.5 994.9 L1450.5 1023.6 L1449.5 1010.6 L1448.5 1011.1 L1447.5 992.3 L1446.5 996.6 L1445.5 1023.4 L1444.5 1006.4 L1443.5 951.9 L1442.5 1026.1 L1441.5 992.9 L1440.5 1006.1 L1439.5 1022.4 L1438.5 1018.2 L1437.5 946.5 L1436.5 1025.1 L1435.5 1024.4 L1434.5 1003.7 L1433.5 955.7 L1432.5 1006.3 L1431.5 964.3 L1430.5 1021.7 L1429.5 963.5 L1428.5 1027.7 L1427.5 1030.2 L1426.5 1011.4 L1425.5 963.7 L1424.5 1001.1 L1423.5 998.4 L1422.5 1026.8 L1421.5 1024.7 L1420.5 972.4 L1419.5 1005.8 L1418.5 1006.1 L1417.5 1018.3 L1416.5 971.3 L1415.5 977.1 L1414.5 1006.4 L1413.5 1011.4 L1412.5 1030.5 L1411.5 1005.9 L1410.5 1013.9 L1409.5 1006.8 L1408.5 1017.2 L1407.5 1013.1 L1406.5 983.5 L1405.5 1013.0 L1404.5 982.3 L1403.5 1007.5 L1402.5 1011.9 L1401.5 1019.9 L1400.5 1027.9 L1399.5 1016.2 L1398.5 1012.8 L1397.5 1002.0 L1396.5 1000.4 L1395.5 1014.0 L1394.5 1002.0 L1393.5 1000.9 L1392.5 1010.8 L1391.5 987.8 L1390.5 988.1 L1389.5 1014.1 L1388.5 1000.3 L1387.5 1009.4 L1386.5 987.4 L1385.5 982.7 L1384.5 948.2 L1383.5 995.5 L1382.5 952.5 L1381.5 983.1 L1380.5 1001.9 L1379.5 985.1 L1378.5 978.4 L1377.5 976.4 L1376.5 977.3 L1375.5 974.1 L1374.5 972.9 L1373.5 990.4 L1372.5 980.5 L1371.5 976.2 L1370.5 981.5 L1369.5 968.9 L1368.5 929.0 L1367.5 924.7 L1366.5 962.9 L1365.5 953.5 L1364.5 953.1 L1363.5 916.1 L1362.5 915.1 L1361.5 962.5 L1360.5 964.4 L1359.5 950.5 L1358.5 947.6 L1357.5 949.3 L1356.5 948.5 L1355.5 944.2 L1354.5 912.3 L1353.5 908.2 L1352.5 942.1 L1351.5 941.0 L1350.5 939.8 L1349.5 906.4 L1348.5 940.4 L1347.5 959.8 L1346.5 937.5 L1345.5 956.2 L1344.5 936.4 L1343.5 915.5 L1342.5 955.1 L1341.5 943.8 L1340.5 942.8 L1339.5 941.0 L1338.5 944.2 L1337.5 932.4 L1336.5 937.5 L1335.5 928.8 L1334.5 928.6 L1333.5 935.8 L1332.5 922.7 L1331.5 912.4 L1330.5 934.6 L1329.5 925.7 L1328.5 907.7 L1327.5 907.1 L1326.5 856.9 L1325.5 892.0 L1324.5 839.3 L1323.5 887.5 L1322.5 892.7 L1321.5 893.4 L1320.5 889.0 L1319.5 879.8 L1318.5 917.6 L1317.5 884.1 L1316.5 920.0 L1315.5 895.5 L1314.5 914.5 L1313.5 886.8 L1312.5 874.0 L1311.5 870.8 L1310.5 902.4 L1309.5 864.4 L1308.5 881.8 L1307.5 909.3 L1306.5 861.7 L1305.5 885.3 L1304.5 809.2 L1303.5 812.5 L1302.5 860.2 L1301.5 853.6 L1300.5 897.7 L1299.5 873.4 L1298.5 845.6 L1297.5 882.7 L1296.5 850.0 L1295.5 861.2 L1294.5 864.3 L1293.5 844.7 L1292.5 775.0 L1291.5 841.0 L1290.5 875.6 L1289.5 847.5 L1288.5 781.7 L1287.5 892.3 L1286.5 885.6 L1285.5 774.2 L1284.5 848.6 L1283.5 867.1 L1282.5 846.0 L1281.5 840.8 L1280.5 839.7 L1279.5 843.3 L1278.5 862.6 L1277.5 858.8 L1276.5 844.0 L1275.5 844.3 L1274.5 857.8 L1273.5 786.8 L1272.5 877.1 L1271.5 839.5 L1270.5 838.9 L1269.5 854.2 L1268.5 878.7 L1267.5 880.5 L1266.5 834.6 L1265.5 865.8 L1264.5 863.7 L1263.5 841.9 L1262.5 869.8 L1261.5 829.8 L1260.5 871.6 L1259.5 823.9 L1258.5 845.2 L1257.5 818.9 L1256.5 822.2 L1255.5 763.1 L1254.5 867.1 L1253.5 866.6 L1252.5 843.0 L1251.5 830.8 L1250.5 828.9 L1249.5 745.8 L1248.5 732.7 L1247.5 864.4 L1246.5 866.7 L1245.5 836.9 L1244.5 816.9 L1243.5 721.5 L1242.5 825.5 L1241.5 812.6 L1240.5 837.4 L1239.5 833.8 L1238.5 831.6 L1237.5 835.1 L1236.5 834.8 L1235.5 855.6 L1234.5 851.7 L1233.5 714.2 L1232.5 814.6 L1231.5 867.7 L1230.5 802.6 L1229.5 815.2 L1228.5 817.8 L1227.5 836.8 L1226.5 822.2 L1225.5 830.6 L1224.5 799.1 L1223.5 816.7 L1222.5 819.8 L1221.5 851.1 L1220.5 865.0 L1219.5 727.7 L1218.5 832.4 L1217.5 814.8 L1216.5 826.9 L1215.5 731.9 L1214.5 730.2 L1213.5 812.1 L1212.5 822.1 L1211.5 735.8 L1210.5 722.8 L1209.5 730.1 L1208.5 809.7 L1207.5 807.6 L1206.5 859.8 L1205.5 819.8 L1204.5 805.0 L1203.5 827.9 L1202.5 739.4 L1201.5 721.1 L1200.5 826.8 L1199.5 730.4 L1198.5 850.1 L1197.5 842.0 L1196.5 825.9 L1195.5 846.1 L1194.5 842.4 L1193.5 827.1 L1192.5 796.7 L1191.5 798.5 L1190.5 806.8 L1189.5 798.4 L1188.5 785.2 L1187.5 784.3 L1186.5 812.2 L1185.5 785.2 L1184.5 825.2 L1183.5 795.4 L1182.5 812.0 L1181.5 791.0 L1180.5 815.7 L1179.5 702.1 L1178.5 782.5 L1177.5 841.2 L1176.5 792.0 L1175.5 797.7 L1174.5 814.6 L1173.5 855.0 L1172.5 732.3 L1171.5 810.2 L1170.5 813.6 L1169.5 837.9 L1168.5 807.0 L1167.5 702.0 L1166.5 839.7 L1165.5 797.8 L1164.5 891.9 L1163.5 821.7 L1162.5 896.9 L1161.5 810.4 L1160.5 798.9 L1159.5 897.1 L1158.5 668.4 L1157.5 822.4 L1156.5 894.8 L1155.5 791.4 L1154.5 787.3 L1153.5 841.5 L1152.5 603.1 L1151.5 625.3 L1150.5 867.5 L1149.5 788.2 L1148.5 859.7 L1147.5 836.4 L1146.5 774.1 L1145.5 843.4 L1144.5 780.5 L1143.5 790.5 L1142.5 691.2 L1141.5 846.6 L1140.5 802.7 L1139.5 817.5 L1138.5 785.8 L1137.5 778.3 L1136.5 791.1 L1135.5 766.8 L1134.5 791.3 L1133.5 810.2 L1132.5 817.4 L1131.5 795.5 L1130.5 801.2 L1129.5 768.0 L1128.5 769.0 L1127.5 771.9 L1126.5 815.8 L1125.5 774.4 L1124.5 813.3 L1123.5 744.1 L1122.5 642.7 L1121.5 780.7 L1120.5 767.0 L1119.5 718.0 L1118.5 692.9 L1117.5 787.1 L1116.5 769.2 L1115.5 774.6 L1114.5 737.2 L1113.5 683.8 L1112.5 706.8 L1111.5 751.7 L1110.5 789.1 L1109.5 734.0 L1108.5 775.6 L1107.5 742.0 L1106.5 757.0 L1105.5 749.5 L1104.5 808.5 L1103.5 663.5 L1102.5 670.3 L1101.5 750.7 L1100.5 749.5 L1099.5 750.1 L1098.5 813.0 L1097.5 689.3 L1096.5 764.0 L1095.5 768.8 L1094.5 810.4 L1093.5 768.6 L1092.5 775.1 L1091.5 770.1 L1090.5 771.3 L1089.5 823.1 L1088.5 688.7 L1087.5 823.1 L1086.5 694.7 L1085.5 820.3 L1084.5 780.7 L1083.5 829.1 L1082.5 787.6 L1081.5 800.8 L1080.5 779.6 L1079.5 831.9 L1078.5 801.7 L1077.5 771.6 L1076.5 777.2 L1075.5 801.8 L1074.5 787.0 L1073.5 799.9 L1072.5 810.5 L1071.5 831.1 L1070.5 817.3 L1069.5 792.5 L1068.5 831.7 L1067.5 840.3 L1066.5 832.5 L1065.5 831.5 L1064.5 838.9 L1063.5 847.5 L1062.5 848.4 L1061.5 849.7 L1060.5 852.3 L1059.5 854.3 L1058.5 855.2 L1057.5 850.2 L1056.5 857.7 L1055.5 853.1 L1054.5 862.0 L1053.5 863.8 L1052.5 856.4 L1051.5 868.8 L1050.5 860.4 L1049.5 876.4 L1048.5 871.3 L1047.5 874.6 L1046.5 875.6 L1045.5 878.8 L1044.5 882.6 L1043.5 888.6 L1042.5 889.7 L1041.5 892.1 L1040.5 894.8 L1039.5 895.5 L1038.5 897.5 L1037.5 891.7 L1036.5 891.1 L1035.5 891.1 L1034.5 899.0 L1033.5 899.1 L1032.5 899.1 L1031.5 897.2 L1030.5 893.2 L1029.5 899.6 L1028.5 901.7 L1027.5 899.9 L1026.5 907.5 L1025.5 905.6 L1024.5 912.8 L1023.5 909.8 L1022.5 916.5 L1021.5 918.5 L1020.5 922.0 L1019.5 923.2 L1018.5 925.7 L1017.5 925.3 L1016.5 924.6 L1015.5 923.7 L1014.5 925.7 L1013.5 923.4 L1012.5 921.3 L1011.5 918.9 L1010.5 918.7 L1009.5 915.6 L1008.5 913.8 L1007.5 913.4 L1006.5 913.7 L1005.5 908.7 L1004.5 906.9 L1003.5 907.8 L1002.5 907.1 L1001.5 908.9 L1000.5 910.6 L999.5 911.6 L998.5 914.4 L997.5 914.3 L996.5 915.1 L995.5 912.5 L994.5 918.1 L993.5 913.8 L992.5 919.5 L991.5 918.6 L990.5 919.4 L989.5 916.1 L988.5 915.2 L987.5 913.9 L986.5 911.0 L985.5 914.9 L984.5 912.0 L983.5 910.6 L982.5 907.2 L981.5 906.2 L980.5 898.9 L979.5 904.7 L978.5 901.7 L977.5 904.0 L976.5 885.3 L975.5 899.5 L974.5 901.6 L973.5 892.2 L972.5 898.9 L971.5 903.8 L970.5 875.8 L969.5 907.1 L968.5 906.7 L967.5 893.6 L966.5 904.9 L965.5 907.7 L964.5 896.1 L963.5 903.9 L962.5 898.6 L961.5 895.9 L960.5 898.9 L959.5 898.9 L958.5 900.0 L957.5 899.9 L956.5 909.3 L955.5 900.3 L954.5 901.6 L953.5 910.2 L952.5 906.7 L951.5 908.5 L950.5 900.6 L949.5 887.1 L948.5 886.6 L947.5 885.6 L946.5 884.1 L945.5 903.1 L944.5 899.2 L943.5 910.5 L942.5 907.5 L941.5 909.0 L940.5 887.3 L939.5 910.2 L938.5 906.8 L937.5 900.4 L936.5 902.4 L935.5 885.8 L934.5 911.1 L933.5 905.6 L932.5 903.9 L931.5 900.9 L930.5 907.1 L929.5 903.0 L928.5 893.8 L927.5 908.0 L926.5 895.3 L925.5 906.3 L924.5 902.8 L923.5 913.2 L922.5 901.4 L921.5 904.2 L920.5 912.9 L919.5 903.4 L918.5 904.5 L917.5 913.0 L916.5 910.7 L915.5 909.1 L914.5 908.4 L913.5 908.7 L912.5 909.0 L911.5 909.0 L910.5 908.0 L909.5 914.9 L908.5 913.0 L907.5 915.2 L906.5 901.0 L905.5 910.0 L904.5 904.1 L903.5 910.9 L902.5 915.7 L901.5 915.7 L900.5 914.2 L899.5 913.8 L898.5 916.5 L897.5 912.6 L896.5 912.0 L895.5 913.6 L894.5 915.3 L893.5 915.3 L892.5 913.1 L891.5 915.7 L890.5 909.8 L889.5 910.5 L888.5 902.3 L887.5 914.1 L886.5 915.7 L885.5 915.8 L884.5 915.1 L883.5 916.7 L882.5 920.9 L881.5 925.3 L880.5 927.3 L879.5 928.6 L878.5 930.0 L877.5 930.0 L876.5 929.3 L875.5 931.8 L874.5 940.8 L873.5 936.1 L872.5 947.2 L871.5 952.4 L870.5 945.1 L869.5 946.5 L868.5 962.0 L867.5 962.3 L866.5 967.4 L865.5 929.2 L864.5 956.3 L863.5 970.3 L862.5 962.4 L861.5 979.2 L860.5 927.6 L859.5 927.7 L858.5 1005.4 L857.5 979.2 L856.5 986.1 L855.5 1016.6 L854.5 1004.9 L853.5 930.7 L852.5 1014.5 L851.5 1025.8 L850.5 998.0 L849.5 1004.7 L848.5 1029.6 L847.5 1010.3 L846.5 950.5 L845.5 1006.1 L844.5 1041.7 L843.5 949.0 L842.5 1006.0 L841.5 947.4 L840.5 1002.6 L839.5 1011.8 L838.5 1039.6 L837.5 1030.3 L836.5 942.7 L835.5 1011.1 L834.5 952.7 L833.5 940.9 L832.5 952.4 L831.5 998.9 L830.5 946.7 L829.5 1005.8 L828.5 1017.1 L827.5 1002.5 L826.5 955.5 L825.5 1029.2 L824.5 1036.5 L823.5 1020.2 L822.5 953.1 L821.5 962.3 L820.5 1026.2 L819.5 959.6 L818.5 1008.4 L817.5 1041.9 L816.5 965.3 L815.5 1022.4 L814.5 1027.9 L813.5 1008.9 L812.5 972.7 L811.5 963.2 L810.5 970.4 L809.5 1024.8 L808.5 1024.0 L807.5 1013.4 L806.5 960.9 L805.5 962.0 L804.5 955.1 L803.5 963.1 L802.5 962.4 L801.5 956.6 L800.5 957.3 L799.5 1036.1 L798.5 1005.5 L797.5 1019.1 L796.5 1018.5 L795.5 1007.4 L794.5 1007.1 L793.5 1016.2 L792.5 968.1 L791.5 972.0 L790.5 973.8 L789.5 971.8 L788.5 1033.8 L787.5 1030.7 L786.5 1030.4 L785.5 1034.6 L784.5 1021.2 L783.5 980.9 L782.5 981.8 L781.5 1031.0 L780.5 979.6 L779.5 1020.1 L778.5 983.0 L777.5 1025.7 L776.5 1013.9 L775.5 980.1 L774.5 1030.1 L773.5 986.1 L772.5 1028.5 L771.5 986.6 L770.5 1031.6 L769.5 1030.1 L768.5 979.8 L767.5 1016.5 L766.5 987.2 L765.5 1015.3 L764.5 1038.9 L763.5 977.3 L762.5 1041.4 L761.5 1016.2 L760.5 976.0 L759.5 978.6 L758.5 973.2 L757.5 1011.7 L756.5 1041.7 L755.5 1018.1 L754.5 971.7 L753.5 971.6 L752.5 974.6 L751.5 971.8 L750.5 1009.6 L749.5 1012.4 L748.5 968.8 L747.5 976.5 L746.5 972.1 L745.5 973.5 L744.5 1026.5 L743.5 1025.6 L742.5 973.4 L741.5 1010.9 L740.5 1018.6 L739.5 973.2 L738.5 980.8 L737.5 1034.8 L736.5 977.9 L735.5 1017.3 L734.5 976.7 L733.5 976.3 L732.5 982.3 L731.5 981.4 L730.5 980.4 L729.5 980.1 L728.5 980.8 L727.5 1029.5 L726.5 985.6 L725.5 984.8 L724.5 1016.3 L723.5 976.8 L722.5 983.7 L721.5 1033.2 L720.5 1035.3 L719.5 980.1 L718.5 1013.9 L717.5 976.6 L716.5 1014.3 L715.5 1023.5 L714.5 1040.6 L713.5 1010.3 L712.5 1021.4 L711.5 1033.7 L710.5 976.6 L709.5 1039.2 L708.5 975.6 L707.5 1015.1 L706.5 1037.2 L705.5 1013.8 L704.5 978.1 L703.5 1011.6 L702.5 1022.5 L701.5 1016.6 L700.5 1024.6 L699.5 1011.7 L698.5 1037.5 L697.5 1016.3 L696.5 982.8 L695.5 982.0 L694.5 982.5 L693.5 983.5 L692.5 981.1 L691.5 1017.7 L690.5 978.0 L689.5 985.6 L688.5 1031.4 L687.5 984.3 L686.5 1032.5 L685.5 983.2 L684.5 987.2 L683.5 1032.9 L682.5 1039.2 L681.5 1021.0 L680.5 1013.7 L679.5 984.3 L678.5 1014.9 L677.5 1027.6 L676.5 1026.0 L675.5 1019.2 L674.5 987.6 L673.5 1019.0 L672.5 1024.2 L671.5 1015.0 L670.5 987.2 L669.5 985.4 L668.5 980.1 L667.5 1028.9 L666.5 982.7 L665.5 983.0 L664.5 982.3 L663.5 1027.8 L662.5 1034.0 L661.5 1021.4 L660.5 1033.0 L659.5 1014.6 L658.5 1033.2 L657.5 986.2 L656.5 1013.0 L655.5 984.1 L654.5 986.0 L653.5 1029.9 L652.5 980.8 L651.5 983.9 L650.5 977.4 L649.5 1036.2 L648.5 1016.8 L647.5 978.5 L646.5 1014.1 L645.5 1034.5 L644.5 1024.6 L643.5 1040.1 L642.5 1013.7 L641.5 985.3 L640.5 981.4 L639.5 1018.2 L638.5 1017.5 L637.5 1030.8 L636.5 986.9 L635.5 1025.1 L634.5 1018.5 L633.5 1012.6 L632.5 975.5 L631.5 1010.7 L630.5 1023.9 L629.5 967.9 L628.5 962.9 L627.5 1031.2 L626.5 1039.4 L625.5 960.8 L624.5 962.3 L623.5 1040.3 L622.5 959.3 L621.5 1010.0 L620.5 1015.8 L619.5 1027.6 L618.5 1012.7 L617.5 1018.3 L616.5 1027.8 L615.5 1022.3 L614.5 975.7 L613.5 969.7 L612.5 970.9 L611.5 1022.6 L610.5 1034.7 L609.5 973.6 L608.5 1011.4 L607.5 1018.3 L606.5 1022.0 L605.5 976.2 L604.5 1010.9 L603.5 969.3 L602.5 975.5 L601.5 965.2 L600.5 1008.0 L599.5 1008.4 L598.5 1007.9 L597.5 973.8 L596.5 966.6 L595.5 969.8 L594.5 1017.0 L593.5 973.6 L592.5 1030.0 L591.5 1034.1 L590.5 1008.7 L589.5 1010.1 L588.5 1011.6 L587.5 978.4 L586.5 977.3 L585.5 1011.5 L584.5 1033.5 L583.5 1016.0 L582.5 1017.8 L581.5 981.0 L580.5 979.2 L579.5 982.2 L578.5 1011.9 L577.5 1012.6 L576.5 984.0 L575.5 975.6 L574.5 979.9 L573.5 1012.5 L572.5 980.2 L571.5 1012.6 L570.5 1032.3 L569.5 1019.1 L568.5 976.7 L567.5 1011.9 L566.5 1027.7 L565.5 1020.0 L564.5 1034.2 L563.5 1016.0 L562.5 975.2 L561.5 1019.4 L560.5 1029.4 L559.5 975.4 L558.5 974.2 L557.5 1024.8 L556.5 1040.0 L555.5 1029.2 L554.5 1031.6 L553.5 973.8 L552.5 1025.8 L551.5 971.7 L550.5 968.3 L549.5 1040.8 L548.5 969.1 L547.5 968.6 L546.5 971.3 L545.5 976.7 L544.5 1027.5 L543.5 974.9 L542.5 1007.4 L541.5 970.9 L540.5 1021.5 L539.5 1013.7 L538.5 972.3 L537.5 971.9 L536.5 967.6 L535.5 1038.0 L534.5 1041.2 L533.5 1039.1 L532.5 1024.1 L531.5 1036.8 L530.5 1008.5 L529.5 1009.9 L528.5 1008.7 L527.5 1013.5 L526.5 1013.9 L525.5 1025.9 L524.5 1014.1 L523.5 1011.5 L522.5 1003.1 L521.5 1038.4 L520.5 1007.8 L519.5 1040.4 L518.5 1016.0 L517.5 1039.0 L516.5 1019.5 L515.5 950.5 L514.5 1001.6 L513.5 927.7 L512.5 1031.3 L511.5 929.8 L510.5 1014.8 L509.5 1036.3 L508.5 944.8 L507.5 951.6 L506.5 950.8 L505.5 1016.0 L504.5 995.2 L503.5 948.3 L502.5 949.9 L501.5 994.2 L500.5 1026.7 L499.5 1003.9 L498.5 936.8 L497.5 1010.4 L496.5 943.9 L495.5 945.0 L494.5 943.3 L493.5 1004.3 L492.5 1019.7 L491.5 1004.1 L490.5 932.6 L489.5 933.2 L488.5 942.2 L487.5 1014.9 L486.5 1011.1 L485.5 955.5 L484.5 949.1 L483.5 1000.0 L482.5 1031.5 L481.5 959.1 L480.5 1033.6 L479.5 958.7 L478.5 949.7 L477.5 1026.3 L476.5 1013.7 L475.5 958.2 L474.5 950.8 L473.5 1008.2 L472.5 1031.7 L471.5 1005.1 L470.5 1009.5 L469.5 1020.4 L468.5 999.5 L467.5 950.7 L466.5 1010.8 L465.5 946.2 L464.5 1016.1 L463.5 1040.8 L462.5 935.4 L461.5 992.7 L460.5 937.5 L459.5 949.5 L458.5 1034.4 L457.5 952.7 L456.5 1026.9 L455.5 947.1 L454.5 954.0 L453.5 1027.2 L452.5 1007.1 L451.5 948.7 L450.5 1002.7 L449.5 1011.8 L448.5 956.0 L447.5 954.7 L446.5 954.9 L445.5 1014.0 L444.5 1022.0 L443.5 960.4 L442.5 1035.9 L441.5 964.5 L440.5 1007.1 L439.5 967.0 L438.5 968.9 L437.5 1039.1 L436.5 1020.9 L435.5 1039.6 L434.5 1039.0 L433.5 958.7 L432.5 962.8 L431.5 1003.1 L430.5 1007.8 L429.5 949.1 L428.5 959.6 L427.5 1031.9 L426.5 960.6 L425.5 956.4 L424.5 954.5 L423.5 948.2 L422.5 1021.4 L421.5 1020.8 L420.5 962.8 L419.5 958.4 L418.5 1024.6 L417.5 1041.6 L416.5 1028.5 L415.5 1026.1 L414.5 962.9 L413.5 966.5 L412.5 1014.0 L411.5 966.5 L410.5 1008.3 L409.5 1033.4 L408.5 1022.9 L407.5 1009.5 L406.5 978.5 L405.5 1012.2 L404.5 977.9 L403.5 1018.7 L402.5 1037.0 L401.5 978.2 L400.5 1028.0 L399.5 1033.7 L398.5 1028.5 L397.5 985.1 L396.5 985.5 L395.5 1040.2 L394.5 988.3 L393.5 984.1 L392.5 1034.6 L391.5 1016.6 L390.5 984.7 L389.5 989.0 L388.5 984.0 L387.5 1018.8 L386.5 1022.9 L385.5 1032.7 L384.5 983.4 L383.5 987.0 L382.5 1034.4 L381.5 1022.0 L380.5 1017.8 L379.5 984.7 L378.5 1017.8 L377.5 1041.3 L376.5 1021.4 L375.5 990.6 L374.5 985.9 L373.5 1037.2 L372.5 1034.9 L371.5 1024.9 L370.5 1020.4 L369.5 1017.9 L368.5 1018.5 L367.5 1026.8 L366.5 1018.1 L365.5 1020.4 L364.5 1019.7 L363.5 991.7 L362.5 1023.6 L361.5 992.1 L360.5 1024.2 L359.5 998.4 L358.5 997.1 L357.5 997.7 L356.5 1025.5 L355.5 1021.3 L354.5 1020.1 L353.5 1000.3 L352.5 994.9 L351.5 1020.1 L350.5 999.0 L349.5 1026.8 L348.5 1030.0 L347.5 994.3 L346.5 995.9 L345.5 993.2 L344.5 995.3 L343.5 1026.0 L342.5 992.5 L341.5 999.2 L340.5 999.3 L339.5 1028.6 L338.5 1029.2 L337.5 1020.6 L336.5 1026.8 L335.5 996.8 L334.5 994.4 L333.5 999.5 L332.5 1023.1 L331.5 1039.9 L330.5 1030.2 L329.5 996.6 L328.5 1041.2 L327.5 996.0 L326.5 1026.6 L325.5 999.9 L324.5 1000.0 L323.5 1038.3 L322.5 1033.4 L321.5 998.0 L320.5 1001.6 L319.5 1033.3 L318.5 1032.5 L317.5 996.7 L316.5 1032.2 L315.5 1001.8 L314.5 1003.8 L313.5 1024.4 L312.5 1033.3 L311.5 1039.0 L310.5 1004.2 L309.5 1030.9 L308.5 1030.1 L307.5 1027.5 L306.5 1035.8 L305.5 1028.2 L304.5 1033.9 L303.5 1008.9 L302.5 1008.7 L301.5 1040.8 L300.5 1030.7 L299.5 1035.2 L298.5 1032.0 L297.5 1010.7 L296.5 1013.3 L295.5 1028.7 L294.5 1011.7 L293.5 1012.0 L292.5 1031.3 L291.5 1013.7 L290.5 1029.8 L289.5 1041.2 L288.5 1014.1 L287.5 1038.5 L286.5 1014.4 L285.5 1027.8 L284.5 1012.2 L283.5 1011.3 L282.5 1036.2 L281.5 1013.9 L280.5 1015.0 L279.5 1028.6 L278.5 1029.6 L277.5 1041.2 L276.5 1012.9 L275.5 1012.3 L274.5 1034.0 L273.5 1014.4 L272.5 1030.7 L271.5 1016.4 L270.5 1015.7 L269.5 1029.4 L268.5 1014.8 L267.5 1016.2 L266.5 1033.0 L265.5 1017.1 L264.5 1017.9 L263.5 1016.4 L262.5 1037.9 L261.5 1016.6 L260.5 1037.6 L259.5 1018.4 L258.5 1032.5 L257.5 1037.0 L256.5 1015.4 L255.5 1016.6 L254.5 1018.8 L253.5 1032.1 L252.5 1038.5 L251.5 1019.0 L250.5 1039.4 L249.5 1017.6 L248.5 1032.1 L247.5 1030.7 L246.5 1036.0 L245.5 1015.6 L244.5 1034.0 L243.5 1037.4Z" fill="#d1e1f1" fill-opacity="0.5"/>
<path d="M243.5 1006.1 L244.5 1005.5 L245.5 1014.9 L246.5 1005.7 L247.5 1006.8 L248.5 1007.7 L249.5 1006.3 L250.5 1006.1 L251.5 1005.3 L252.5 1005.8 L253.5 1005.2 L254.5 1007.0 L255.5 1007.7 L256.5 1007.7 L257.5 1006.8 L258.5 1005.9 L259.5 1006.9 L260.5 1006.5 L261.5 1005.6 L262.5 1006.4 L263.5 1005.3 L264.5 1004.9 L265.5 1006.4 L266.5 1004.6 L267.5 1004.1 L268.5 1004.9 L269.5 1005.8 L270.5 1005.3 L271.5 1005.1 L272.5 1004.6 L273.5 1004.2 L274.5 1002.4 L275.5 1003.1 L276.5 1003.6 L277.5 1002.7 L278.5 1009.7 L279.5 1003.1 L280.5 1001.5 L281.5 1001.4 L282.5 1000.5 L283.5 1001.6 L284.5 1000.5 L285.5 1002.0 L286.5 1002.1 L287.5 1001.5 L288.5 1000.3 L289.5 1000.1 L290.5 1000.9 L291.5 1000.2 L292.5 999.7 L293.5 999.5 L294.5 1000.6 L295.5 1001.3 L296.5 1001.4 L297.5 1001.1 L298.5 1000.4 L299.5 999.5 L300.5 1000.4 L301.5 999.7 L302.5 998.4 L303.5 998.0 L304.5 997.6 L305.5 996.8 L306.5 996.2 L307.5 995.4 L308.5 994.8 L309.5 994.1 L310.5 992.0 L311.5 992.6 L312.5 991.0 L313.5 991.3 L314.5 990.1 L315.5 990.1 L316.5 988.5 L317.5 986.9 L318.5 987.8 L319.5 986.1 L320.5 986.9 L321.5 986.9 L322.5 986.6 L323.5 986.0 L324.5 985.1 L325.5 986.3 L326.5 986.4 L327.5 985.7 L328.5 984.4 L329.5 986.0 L330.5 985.7 L331.5 983.5 L332.5 985.0 L333.5 984.6 L334.5 991.3 L335.5 984.1 L336.5 991.7 L337.5 984.2 L338.5 984.4 L339.5 983.0 L340.5 984.8 L341.5 982.9 L342.5 984.0 L343.5 983.4 L344.5 983.4 L345.5 985.3 L346.5 984.7 L347.5 983.9 L348.5 985.4 L349.5 985.0 L350.5 984.8 L351.5 983.9 L352.5 985.7 L353.5 984.1 L354.5 984.6 L355.5 992.9 L356.5 985.2 L357.5 985.6 L358.5 984.6 L359.5 983.5 L360.5 984.0 L361.5 982.9 L362.5 981.6 L363.5 980.9 L364.5 981.8 L365.5 980.1 L366.5 980.7 L367.5 980.6 L368.5 978.9 L369.5 979.2 L370.5 978.3 L371.5 978.1 L372.5 976.2 L373.5 977.6 L374.5 975.3 L375.5 975.9 L376.5 975.5 L377.5 975.2 L378.5 982.1 L379.5 975.5 L380.5 974.7 L381.5 973.6 L382.5 975.5 L383.5 974.8 L384.5 973.2 L385.5 974.2 L386.5 974.0 L387.5 972.4 L388.5 972.2 L389.5 973.8 L390.5 973.5 L391.5 973.5 L392.5 972.2 L393.5 973.3 L394.5 971.0 L395.5 971.6 L396.5 977.3 L397.5 968.7 L398.5 968.2 L399.5 968.5 L400.5 967.0 L401.5 965.9 L402.5 965.4 L403.5 963.8 L404.5 963.6 L405.5 962.8 L406.5 962.9 L407.5 968.2 L408.5 961.3 L409.5 958.4 L410.5 958.9 L411.5 957.3 L412.5 956.3 L413.5 954.5 L414.5 954.0 L415.5 951.5 L416.5 951.2 L417.5 948.3 L418.5 947.2 L419.5 945.2 L420.5 943.4 L421.5 942.5 L422.5 939.2 L423.5 938.3 L424.5 939.7 L425.5 938.6 L426.5 939.1 L427.5 946.5 L428.5 940.7 L429.5 939.9 L430.5 941.3 L431.5 948.6 L432.5 942.8 L433.5 944.8 L434.5 945.6 L435.5 946.8 L436.5 947.8 L437.5 947.9 L438.5 957.0 L439.5 949.0 L440.5 949.3 L441.5 948.5 L442.5 948.0 L443.5 946.0 L444.5 946.1 L445.5 945.1 L446.5 945.0 L447.5 950.7 L448.5 942.2 L449.5 942.4 L450.5 941.0 L451.5 938.5 L452.5 933.2 L453.5 930.6 L454.5 930.2 L455.5 925.1 L456.5 926.6 L457.5 923.7 L458.5 918.6 L459.5 917.0 L460.5 915.5 L461.5 916.9 L462.5 915.6 L463.5 909.8 L464.5 909.9 L465.5 908.9 L466.5 912.3 L467.5 913.4 L468.5 912.5 L469.5 910.9 L470.5 919.4 L471.5 922.2 L472.5 924.5 L473.5 944.6 L474.5 930.1 L475.5 933.7 L476.5 937.4 L477.5 938.9 L478.5 939.7 L479.5 939.1 L480.5 938.8 L481.5 938.6 L482.5 936.4 L483.5 937.9 L484.5 935.9 L485.5 932.3 L486.5 929.8 L487.5 927.7 L488.5 925.7 L489.5 923.1 L490.5 922.4 L491.5 920.7 L492.5 920.4 L493.5 921.7 L494.5 921.3 L495.5 918.8 L496.5 916.4 L497.5 929.8 L498.5 915.8 L499.5 910.0 L500.5 908.4 L501.5 910.0 L502.5 906.6 L503.5 899.3 L504.5 902.1 L505.5 898.4 L506.5 900.0 L507.5 894.3 L508.5 887.6 L509.5 884.5 L510.5 880.1 L511.5 887.8 L512.5 924.1 L513.5 877.0 L514.5 883.5 L515.5 895.9 L516.5 898.4 L517.5 901.9 L518.5 905.9 L519.5 907.7 L520.5 915.8 L521.5 920.8 L522.5 921.0 L523.5 921.5 L524.5 928.5 L525.5 930.4 L526.5 937.5 L527.5 944.4 L528.5 947.3 L529.5 952.1 L530.5 953.9 L531.5 954.2 L532.5 962.1 L533.5 956.1 L534.5 955.7 L535.5 956.2 L536.5 956.3 L537.5 955.8 L538.5 956.6 L539.5 956.2 L540.5 956.4 L541.5 956.5 L542.5 957.6 L543.5 958.4 L544.5 958.5 L545.5 959.5 L546.5 959.7 L547.5 957.3 L548.5 956.1 L549.5 954.4 L550.5 949.9 L551.5 950.7 L552.5 945.5 L553.5 947.1 L554.5 945.2 L555.5 939.4 L556.5 942.1 L557.5 940.3 L558.5 932.1 L559.5 936.8 L560.5 969.0 L561.5 936.8 L562.5 938.7 L563.5 947.9 L564.5 952.8 L565.5 955.6 L566.5 956.9 L567.5 963.1 L568.5 966.9 L569.5 967.3 L570.5 966.6 L571.5 967.5 L572.5 966.1 L573.5 966.5 L574.5 966.1 L575.5 967.9 L576.5 967.2 L577.5 967.0 L578.5 974.0 L579.5 966.3 L580.5 967.0 L581.5 967.7 L582.5 966.7 L583.5 966.0 L584.5 964.7 L585.5 963.1 L586.5 963.1 L587.5 962.6 L588.5 961.1 L589.5 960.9 L590.5 960.5 L591.5 957.7 L592.5 958.0 L593.5 957.4 L594.5 955.3 L595.5 954.2 L596.5 954.6 L597.5 956.0 L598.5 956.0 L599.5 962.4 L600.5 957.8 L601.5 957.1 L602.5 957.6 L603.5 960.1 L604.5 959.4 L605.5 966.7 L606.5 961.6 L607.5 962.7 L608.5 962.4 L609.5 961.4 L610.5 960.3 L611.5 959.5 L612.5 959.4 L613.5 958.9 L614.5 956.3 L615.5 955.6 L616.5 955.4 L617.5 954.6 L618.5 955.4 L619.5 960.3 L620.5 952.7 L621.5 953.3 L622.5 951.5 L623.5 949.0 L624.5 946.4 L625.5 942.6 L626.5 939.4 L627.5 938.0 L628.5 933.3 L629.5 938.0 L630.5 935.4 L631.5 930.1 L632.5 938.2 L633.5 938.6 L634.5 972.0 L635.5 950.8 L636.5 973.6 L637.5 961.0 L638.5 963.9 L639.5 965.8 L640.5 971.4 L641.5 971.3 L642.5 972.3 L643.5 971.5 L644.5 969.9 L645.5 970.3 L646.5 968.8 L647.5 968.8 L648.5 969.4 L649.5 969.5 L650.5 974.8 L651.5 968.8 L652.5 975.7 L653.5 970.0 L654.5 970.1 L655.5 970.0 L656.5 975.2 L657.5 970.5 L658.5 969.6 L659.5 970.7 L660.5 969.5 L661.5 970.8 L662.5 970.9 L663.5 970.4 L664.5 971.2 L665.5 970.7 L666.5 971.7 L667.5 971.6 L668.5 977.1 L669.5 971.2 L670.5 971.8 L671.5 971.7 L672.5 971.7 L673.5 972.0 L674.5 972.4 L675.5 970.7 L676.5 971.9 L677.5 971.5 L678.5 972.5 L679.5 972.5 L680.5 972.8 L681.5 971.4 L682.5 972.8 L683.5 971.6 L684.5 972.6 L685.5 972.1 L686.5 972.4 L687.5 977.9 L688.5 972.1 L689.5 970.3 L690.5 971.1 L691.5 971.3 L692.5 971.3 L693.5 970.4 L694.5 975.0 L695.5 967.9 L696.5 969.1 L697.5 968.8 L698.5 967.5 L699.5 966.6 L700.5 966.0 L701.5 966.8 L702.5 965.8 L703.5 962.7 L704.5 958.5 L705.5 953.8 L706.5 953.5 L707.5 948.7 L708.5 943.5 L709.5 944.3 L710.5 943.8 L711.5 948.0 L712.5 950.6 L713.5 953.1 L714.5 950.9 L715.5 954.5 L716.5 960.5 L717.5 963.1 L718.5 965.4 L719.5 966.8 L720.5 968.3 L721.5 968.5 L722.5 969.8 L723.5 969.9 L724.5 969.5 L725.5 970.2 L726.5 976.5 L727.5 969.7 L728.5 970.7 L729.5 971.5 L730.5 971.9 L731.5 971.4 L732.5 969.8 L733.5 969.2 L734.5 966.6 L735.5 967.0 L736.5 965.3 L737.5 963.8 L738.5 964.2 L739.5 963.8 L740.5 962.4 L741.5 963.1 L742.5 962.3 L743.5 960.6 L744.5 960.4 L745.5 961.0 L746.5 960.4 L747.5 958.7 L748.5 959.1 L749.5 960.4 L750.5 961.2 L751.5 961.7 L752.5 962.3 L753.5 963.0 L754.5 963.2 L755.5 964.4 L756.5 965.2 L757.5 964.6 L758.5 966.7 L759.5 967.3 L760.5 968.0 L761.5 968.7 L762.5 968.9 L763.5 970.1 L764.5 970.2 L765.5 971.9 L766.5 970.8 L767.5 970.4 L768.5 970.6 L769.5 972.0 L770.5 971.6 L771.5 971.5 L772.5 971.9 L773.5 971.7 L774.5 972.0 L775.5 971.4 L776.5 971.3 L777.5 970.6 L778.5 969.8 L779.5 969.2 L780.5 973.0 L781.5 967.7 L782.5 966.1 L783.5 965.8 L784.5 964.9 L785.5 964.6 L786.5 963.6 L787.5 962.5 L788.5 966.8 L789.5 960.2 L790.5 959.6 L791.5 958.6 L792.5 957.2 L793.5 956.4 L794.5 955.7 L795.5 953.5 L796.5 953.3 L797.5 952.5 L798.5 950.7 L799.5 948.5 L800.5 948.0 L801.5 945.5 L802.5 943.5 L803.5 942.2 L804.5 953.0 L805.5 941.0 L806.5 942.8 L807.5 942.4 L808.5 945.2 L809.5 948.0 L810.5 949.8 L811.5 954.5 L812.5 956.7 L813.5 955.5 L814.5 955.1 L815.5 952.1 L816.5 952.3 L817.5 950.5 L818.5 949.3 L819.5 947.5 L820.5 946.8 L821.5 946.0 L822.5 943.7 L823.5 943.7 L824.5 942.3 L825.5 941.2 L826.5 940.5 L827.5 939.8 L828.5 938.7 L829.5 936.6 L830.5 936.8 L831.5 935.6 L832.5 934.3 L833.5 934.4 L834.5 934.5 L835.5 933.3 L836.5 932.4 L837.5 933.5 L838.5 931.8 L839.5 932.5 L840.5 930.8 L841.5 932.0 L842.5 930.9 L843.5 930.3 L844.5 929.5 L845.5 930.0 L846.5 928.6 L847.5 927.1 L848.5 927.9 L849.5 927.3 L850.5 926.9 L851.5 925.2 L852.5 925.1 L853.5 923.6 L854.5 922.9 L855.5 922.5 L856.5 920.1 L857.5 920.5 L858.5 918.9 L859.5 923.5 L860.5 918.0 L861.5 917.6 L862.5 918.0 L863.5 917.9 L864.5 922.5 L865.5 916.8 L866.5 917.8 L867.5 917.2 L868.5 918.0 L869.5 916.8 L870.5 917.9 L871.5 917.1 L872.5 916.9 L873.5 917.8 L874.5 918.0 L875.5 916.5 L876.5 916.5 L877.5 917.8 L878.5 918.1 L879.5 917.9 L880.5 916.5 L881.5 916.7 L882.5 908.5 L883.5 906.4 L884.5 903.0 L885.5 901.3 L886.5 900.3 L887.5 898.4 L888.5 896.3 L889.5 894.3 L890.5 891.6 L891.5 890.0 L892.5 887.9 L893.5 889.7 L894.5 890.9 L895.5 892.1 L896.5 894.0 L897.5 897.0 L898.5 901.4 L899.5 902.1 L900.5 902.0 L901.5 900.1 L902.5 897.5 L903.5 896.7 L904.5 895.8 L905.5 896.1 L906.5 895.6 L907.5 894.4 L908.5 893.0 L909.5 892.6 L910.5 892.9 L911.5 891.3 L912.5 890.6 L913.5 891.0 L914.5 894.8 L915.5 889.5 L916.5 888.5 L917.5 887.8 L918.5 885.6 L919.5 884.0 L920.5 881.8 L921.5 879.9 L922.5 879.1 L923.5 880.8 L924.5 883.1 L925.5 885.4 L926.5 886.0 L927.5 887.2 L928.5 885.0 L929.5 882.6 L930.5 881.8 L931.5 879.2 L932.5 878.7 L933.5 878.5 L934.5 877.6 L935.5 878.4 L936.5 878.6 L937.5 878.4 L938.5 878.7 L939.5 878.7 L940.5 877.8 L941.5 878.2 L942.5 877.0 L943.5 877.0 L944.5 877.5 L945.5 876.5 L946.5 875.3 L947.5 876.4 L948.5 876.2 L949.5 877.0 L950.5 878.5 L951.5 879.1 L952.5 880.4 L953.5 881.3 L954.5 881.6 L955.5 887.4 L956.5 882.7 L957.5 880.9 L958.5 876.9 L959.5 872.8 L960.5 878.3 L961.5 867.1 L962.5 862.7 L963.5 863.0 L964.5 858.3 L965.5 859.2 L966.5 857.9 L967.5 854.0 L968.5 852.8 L969.5 854.4 L970.5 852.2 L971.5 849.8 L972.5 847.9 L973.5 854.0 L974.5 850.9 L975.5 860.3 L976.5 861.6 L977.5 867.1 L978.5 892.7 L979.5 878.1 L980.5 883.2 L981.5 888.7 L982.5 893.1 L983.5 899.1 L984.5 901.3 L985.5 903.8 L986.5 905.9 L987.5 907.2 L988.5 910.3 L989.5 910.6 L990.5 909.5 L991.5 909.4 L992.5 907.9 L993.5 907.4 L994.5 907.4 L995.5 906.3 L996.5 905.9 L997.5 903.5 L998.5 902.1 L999.5 900.8 L1000.5 899.2 L1001.5 897.9 L1002.5 897.8 L1003.5 896.6 L1004.5 897.5 L1005.5 899.1 L1006.5 900.1 L1007.5 902.4 L1008.5 903.7 L1009.5 905.8 L1010.5 907.3 L1011.5 909.1 L1012.5 910.5 L1013.5 913.0 L1014.5 914.0 L1015.5 913.4 L1016.5 914.1 L1017.5 915.3 L1018.5 920.5 L1019.5 913.5 L1020.5 911.1 L1021.5 909.2 L1022.5 906.7 L1023.5 904.7 L1024.5 902.5 L1025.5 899.9 L1026.5 896.3 L1027.5 895.2 L1028.5 892.7 L1029.5 889.8 L1030.5 887.7 L1031.5 885.2 L1032.5 886.5 L1033.5 886.2 L1034.5 886.1 L1035.5 885.4 L1036.5 886.0 L1037.5 885.5 L1038.5 885.4 L1039.5 883.6 L1040.5 882.1 L1041.5 878.4 L1042.5 873.2 L1043.5 869.5 L1044.5 863.6 L1045.5 860.2 L1046.5 857.1 L1047.5 856.5 L1048.5 855.2 L1049.5 854.0 L1050.5 851.5 L1051.5 851.2 L1052.5 850.2 L1053.5 848.6 L1054.5 846.9 L1055.5 846.1 L1056.5 845.0 L1057.5 843.4 L1058.5 841.1 L1059.5 840.4 L1060.5 840.1 L1061.5 838.8 L1062.5 837.9 L1063.5 836.6 L1064.5 831.6 L1065.5 805.7 L1066.5 795.6 L1067.5 800.5 L1068.5 794.3 L1069.5 777.6 L1070.5 759.2 L1071.5 743.6 L1072.5 735.2 L1073.5 723.6 L1074.5 721.4 L1075.5 703.8 L1076.5 694.7 L1077.5 684.0 L1078.5 684.3 L1079.5 695.7 L1080.5 693.5 L1081.5 699.7 L1082.5 704.9 L1083.5 704.3 L1084.5 697.1 L1085.5 689.8 L1086.5 683.9 L1087.5 677.2 L1088.5 670.6 L1089.5 675.1 L1090.5 681.2 L1091.5 688.7 L1092.5 686.2 L1093.5 681.0 L1094.5 677.2 L1095.5 674.2 L1096.5 667.8 L1097.5 665.6 L1098.5 661.2 L1099.5 656.7 L1100.5 655.8 L1101.5 651.9 L1102.5 647.4 L1103.5 644.3 L1104.5 641.9 L1105.5 638.6 L1106.5 635.0 L1107.5 631.9 L1108.5 626.0 L1109.5 609.7 L1110.5 578.7 L1111.5 555.9 L1112.5 532.3 L1113.5 509.3 L1114.5 512.5 L1115.5 514.9 L1116.5 514.8 L1117.5 518.3 L1118.5 519.9 L1119.5 552.0 L1120.5 584.4 L1121.5 615.6 L1122.5 634.0 L1123.5 642.6 L1124.5 651.1 L1125.5 668.6 L1126.5 670.7 L1127.5 679.3 L1128.5 688.9 L1129.5 698.6 L1130.5 705.0 L1131.5 698.0 L1132.5 689.3 L1133.5 681.7 L1134.5 676.5 L1135.5 668.9 L1136.5 660.7 L1137.5 655.1 L1138.5 657.9 L1139.5 661.3 L1140.5 664.1 L1141.5 667.0 L1142.5 668.8 L1143.5 679.2 L1144.5 666.3 L1145.5 655.9 L1146.5 645.2 L1147.5 632.8 L1148.5 623.2 L1149.5 612.4 L1150.5 601.7 L1151.5 590.1 L1152.5 582.5 L1153.5 589.9 L1154.5 596.9 L1155.5 603.7 L1156.5 610.7 L1157.5 617.6 L1158.5 624.8 L1159.5 631.7 L1160.5 636.1 L1161.5 642.6 L1162.5 651.3 L1163.5 657.6 L1164.5 662.9 L1165.5 669.4 L1166.5 677.2 L1167.5 684.1 L1168.5 692.1 L1169.5 700.2 L1170.5 706.8 L1171.5 713.7 L1172.5 730.0 L1173.5 719.7 L1174.5 713.8 L1175.5 709.7 L1176.5 704.2 L1177.5 699.0 L1178.5 693.2 L1179.5 688.8 L1180.5 683.7 L1181.5 680.9 L1182.5 681.6 L1183.5 683.0 L1184.5 686.8 L1185.5 687.3 L1186.5 690.5 L1187.5 691.4 L1188.5 695.0 L1189.5 695.2 L1190.5 698.5 L1191.5 700.2 L1192.5 702.6 L1193.5 706.3 L1194.5 707.4 L1195.5 709.7 L1196.5 711.7 L1197.5 713.6 L1198.5 712.3 L1199.5 712.2 L1200.5 712.8 L1201.5 712.2 L1202.5 710.7 L1203.5 710.6 L1204.5 718.4 L1205.5 711.0 L1206.5 708.9 L1207.5 716.7 L1208.5 709.4 L1209.5 707.5 L1210.5 709.3 L1211.5 708.7 L1212.5 708.8 L1213.5 708.6 L1214.5 707.9 L1215.5 708.0 L1216.5 707.4 L1217.5 705.0 L1218.5 705.6 L1219.5 705.9 L1220.5 704.7 L1221.5 703.2 L1222.5 702.8 L1223.5 701.8 L1224.5 701.3 L1225.5 701.3 L1226.5 701.3 L1227.5 699.7 L1228.5 698.5 L1229.5 699.0 L1230.5 698.2 L1231.5 698.5 L1232.5 696.8 L1233.5 697.7 L1234.5 697.4 L1235.5 697.6 L1236.5 698.3 L1237.5 708.3 L1238.5 702.3 L1239.5 701.3 L1240.5 702.9 L1241.5 705.4 L1242.5 706.3 L1243.5 706.1 L1244.5 709.6 L1245.5 712.1 L1246.5 714.1 L1247.5 717.0 L1248.5 718.4 L1249.5 721.3 L1250.5 722.8 L1251.5 726.4 L1252.5 729.3 L1253.5 730.0 L1254.5 734.7 L1255.5 736.9 L1256.5 746.2 L1257.5 741.6 L1258.5 743.2 L1259.5 747.2 L1260.5 749.8 L1261.5 753.3 L1262.5 753.9 L1263.5 757.4 L1264.5 759.9 L1265.5 764.2 L1266.5 766.6 L1267.5 776.1 L1268.5 772.3 L1269.5 775.4 L1270.5 777.6 L1271.5 777.0 L1272.5 783.6 L1273.5 776.7 L1274.5 774.5 L1275.5 773.8 L1276.5 772.8 L1277.5 771.4 L1278.5 771.5 L1279.5 769.1 L1280.5 769.5 L1281.5 767.7 L1282.5 767.6 L1283.5 772.6 L1284.5 765.1 L1285.5 763.9 L1286.5 762.1 L1287.5 762.0 L1288.5 761.6 L1289.5 762.5 L1290.5 760.5 L1291.5 761.7 L1292.5 762.3 L1293.5 760.8 L1294.5 760.9 L1295.5 762.1 L1296.5 761.2 L1297.5 766.8 L1298.5 771.5 L1299.5 774.2 L1300.5 779.9 L1301.5 785.2 L1302.5 789.4 L1303.5 793.4 L1304.5 793.9 L1305.5 800.8 L1306.5 794.8 L1307.5 796.2 L1308.5 797.5 L1309.5 797.7 L1310.5 797.6 L1311.5 799.4 L1312.5 799.5 L1313.5 799.4 L1314.5 802.2 L1315.5 803.6 L1316.5 807.8 L1317.5 810.8 L1318.5 812.1 L1319.5 815.0 L1320.5 818.4 L1321.5 820.4 L1322.5 823.2 L1323.5 832.3 L1324.5 829.4 L1325.5 834.0 L1326.5 845.2 L1327.5 843.1 L1328.5 849.7 L1329.5 860.5 L1330.5 858.0 L1331.5 863.8 L1332.5 878.3 L1333.5 881.3 L1334.5 887.5 L1335.5 896.1 L1336.5 905.0 L1337.5 904.2 L1338.5 904.9 L1339.5 904.2 L1340.5 909.6 L1341.5 903.8 L1342.5 902.2 L1343.5 903.0 L1344.5 902.8 L1345.5 902.3 L1346.5 901.5 L1347.5 900.2 L1348.5 900.4 L1349.5 897.9 L1350.5 898.6 L1351.5 898.2 L1352.5 896.4 L1353.5 896.8 L1354.5 895.0 L1355.5 894.8 L1356.5 894.6 L1357.5 897.2 L1358.5 897.8 L1359.5 900.0 L1360.5 900.6 L1361.5 903.1 L1362.5 904.5 L1363.5 904.7 L1364.5 912.7 L1365.5 907.1 L1366.5 909.8 L1367.5 918.0 L1368.5 912.0 L1369.5 915.9 L1370.5 917.6 L1371.5 919.8 L1372.5 921.8 L1373.5 922.3 L1374.5 924.6 L1375.5 926.6 L1376.5 928.9 L1377.5 931.9 L1378.5 932.0 L1379.5 935.4 L1380.5 936.0 L1381.5 936.3 L1382.5 937.6 L1383.5 938.2 L1384.5 938.4 L1385.5 939.0 L1386.5 938.9 L1387.5 939.2 L1388.5 939.3 L1389.5 939.0 L1390.5 940.2 L1391.5 941.5 L1392.5 945.5 L1393.5 943.7 L1394.5 943.1 L1395.5 944.1 L1396.5 937.0 L1397.5 940.9 L1398.5 931.6 L1399.5 931.6 L1400.5 934.3 L1401.5 930.1 L1402.5 941.4 L1403.5 946.0 L1404.5 949.9 L1405.5 954.0 L1406.5 957.6 L1407.5 958.8 L1408.5 961.4 L1409.5 966.6 L1410.5 969.5 L1411.5 967.0 L1412.5 966.8 L1413.5 965.7 L1414.5 962.9 L1415.5 963.1 L1416.5 960.6 L1417.5 959.2 L1418.5 958.5 L1419.5 957.1 L1420.5 954.0 L1421.5 953.2 L1422.5 952.3 L1423.5 951.2 L1424.5 948.6 L1425.5 947.3 L1426.5 948.4 L1427.5 948.8 L1428.5 950.4 L1429.5 949.7 L1430.5 948.7 L1431.5 953.8 L1432.5 945.3 L1433.5 943.7 L1434.5 942.1 L1435.5 942.2 L1436.5 940.2 L1437.5 939.5 L1438.5 937.4 L1439.5 939.1 L1440.5 938.8 L1441.5 937.9 L1442.5 936.5 L1443.5 936.9 L1444.5 936.7 L1445.5 936.2 L1446.5 936.7 L1447.5 936.2 L1448.5 936.1 L1449.5 935.2 L1450.5 937.3 L1451.5 938.0 L1452.5 938.3 L1453.5 941.1 L1454.5 943.5 L1455.5 945.4 L1456.5 950.1 L1457.5 950.4 L1458.5 951.0 L1459.5 951.4 L1460.5 951.2 L1461.5 950.8 L1462.5 952.5 L1463.5 951.1 L1464.5 953.1 L1465.5 954.8 L1466.5 955.1 L1467.5 956.4 L1468.5 957.5 L1469.5 958.3 L1470.5 958.2 L1471.5 960.0 L1472.5 961.0 L1473.5 962.4 L1474.5 962.3 L1475.5 963.7 L1476.5 964.9 L1477.5 967.8 L1478.5 971.6 L1479.5 974.1 L1480.5 977.1 L1481.5 979.1 L1482.5 981.2 L1483.5 983.6 L1484.5 990.7 L1485.5 991.2 L1486.5 986.0 L1487.5 986.7 L1488.5 988.1 L1489.5 987.6 L1490.5 989.5 L1491.5 989.4 L1492.5 997.4 L1493.5 990.8 L1494.5 990.3 L1495.5 991.6 L1496.5 991.1 L1497.5 992.7 L1498.5 993.2 L1499.5 993.5 L1500.5 994.2 L1501.5 994.7 L1502.5 993.0 L1503.5 994.6 L1504.5 994.6 L1505.5 994.6 L1506.5 994.1 L1507.5 994.4 L1508.5 992.8 L1509.5 994.2 L1510.5 994.4 L1511.5 992.2 L1512.5 993.7 L1513.5 992.5 L1514.5 991.1 L1515.5 989.2 L1516.5 987.2 L1517.5 985.5 L1518.5 981.4 L1519.5 997.9 L1520.5 982.9 L1521.5 981.4 L1522.5 982.2 L1523.5 986.0 L1524.5 989.6 L1525.5 990.6 L1526.5 993.9 L1527.5 994.4 L1528.5 996.0 L1529.5 997.7 L1530.5 998.4 L1531.5 1005.6 L1532.5 997.1 L1533.5 999.1 L1534.5 1004.8 L1535.5 998.0 L1536.5 998.3 L1537.5 996.3 L1538.5 997.7 L1539.5 996.1 L1540.5 996.8 L1541.5 997.5 L1542.5 997.4 L1543.5 996.6 L1544.5 996.0 L1545.5 994.4 L1546.5 995.2 L1547.5 994.9 L1548.5 994.0 L1549.5 993.4 L1550.5 992.8 L1551.5 993.9 L1552.5 992.2 L1553.5 991.3 L1554.5 989.2 L1555.5 987.0 L1556.5 986.1 L1557.5 986.6 L1558.5 984.7 L1559.5 984.6 L1560.5 985.1 L1561.5 984.5 L1562.5 984.7 L1563.5 985.4 L1564.5 987.2 L1565.5 990.6 L1566.5 993.6 L1567.5 995.1 L1568.5 996.4 L1569.5 998.3 L1570.5 999.2 L1571.5 1000.0 L1572.5 1000.0 L1573.5 1001.5 L1574.5 1003.1 L1575.5 1003.7 L1576.5 1002.8 L1577.5 1004.2 L1578.5 1004.4 L1579.5 1005.7 L1580.5 1007.0 L1581.5 1007.9 L1582.5 1007.6 L1583.5 1004.4 L1584.5 1004.5 L1585.5 1002.4 L1586.5 1001.1 L1587.5 999.1 L1588.5 997.9 L1589.5 999.7 L1590.5 1002.6 L1591.5 1003.8 L1592.5 1005.1 L1593.5 1007.2 L1594.5 1012.4 L1595.5 1005.5 L1596.5 1004.3 L1597.5 1004.2 L1598.5 1003.6 L1599.5 1002.8 L1600.5 1002.0 L1601.5 999.3 L1602.5 998.8 L1603.5 996.5 L1604.5 1005.5 L1605.5 991.0 L1606.5 988.9 L1607.5 986.3 L1608.5 980.1 L1609.5 980.9 L1610.5 977.2 L1611.5 970.8 L1612.5 972.7 L1613.5 970.7 L1614.5 974.2 L1615.5 975.2 L1616.5 977.6 L1617.5 978.7 L1618.5 986.3 L1619.5 991.8 L1620.5 995.3 L1621.5 998.0 L1622.5 1001.6 L1623.5 1002.7 L1624.5 1003.1 L1625.5 1003.1 L1626.5 1010.3 L1627.5 1002.3 L1628.5 1002.7 L1629.5 1010.7 L1630.5 1009.8 L1631.5 1003.3 L1632.5 1003.1 L1633.5 1002.6 L1634.5 1001.5 L1635.5 1002.7 L1636.5 1002.7 L1637.5 1000.5 L1638.5 1001.5 L1639.5 1001.6 L1640.5 998.8 L1641.5 998.8 L1642.5 998.1 L1643.5 998.6 L1644.5 996.1 L1645.5 996.2 L1646.5 996.8 L1647.5 993.9 L1648.5 995.3 L1649.5 994.2 L1650.5 993.8 L1651.5 992.5 L1652.5 993.3 L1653.5 993.2 L1654.5 990.8 L1655.5 991.6 L1656.5 991.8 L1657.5 990.9 L1658.5 992.0 L1659.5 991.5 L1660.5 991.3 L1661.5 989.6 L1662.5 990.8 L1663.5 990.3 L1664.5 989.5 L1665.5 989.0 L1666.5 987.3 L1667.5 985.1 L1668.5 985.6 L1669.5 983.9 L1670.5 984.5 L1671.5 982.3 L1672.5 978.1 L1673.5 979.3 L1674.5 975.3 L1675.5 976.6 L1676.5 987.3 L1677.5 971.2 L1678.5 966.8 L1679.5 970.6 L1680.5 968.9 L1681.5 966.1 L1682.5 965.1 L1683.5 962.0 L1684.5 960.3 L1685.5 963.4 L1686.5 963.2 L1687.5 961.0 L1688.5 968.2 L1689.5 970.0 L1690.5 971.2 L1691.5 975.6 L1692.5 980.5 L1693.5 982.5 L1694.5 981.1 L1694.5 996.1 L1693.5 996.4 L1692.5 990.1 L1691.5 996.9 L1690.5 996.4 L1689.5 996.9 L1688.5 996.8 L1687.5 997.5 L1686.5 996.7 L1685.5 995.4 L1684.5 996.1 L1683.5 989.0 L1682.5 994.9 L1681.5 995.8 L1680.5 996.9 L1679.5 995.8 L1678.5 996.2 L1677.5 996.7 L1676.5 996.4 L1675.5 997.7 L1674.5 998.2 L1673.5 997.8 L1672.5 999.8 L1671.5 999.1 L1670.5 999.0 L1669.5 999.7 L1668.5 1001.6 L1667.5 1003.1 L1666.5 1002.2 L1665.5 1003.2 L1664.5 1004.6 L1663.5 1006.2 L1662.5 1005.1 L1661.5 1006.8 L1660.5 1006.2 L1659.5 1006.8 L1658.5 1007.8 L1657.5 1007.7 L1656.5 1007.2 L1655.5 1008.4 L1654.5 1008.5 L1653.5 1007.8 L1652.5 1008.6 L1651.5 1008.0 L1650.5 1008.4 L1649.5 1009.4 L1648.5 1009.5 L1647.5 1011.7 L1646.5 1012.3 L1645.5 1012.2 L1644.5 1013.5 L1643.5 1014.2 L1642.5 1014.8 L1641.5 1014.7 L1640.5 1016.9 L1639.5 1016.4 L1638.5 1016.8 L1637.5 1017.8 L1636.5 1018.5 L1635.5 1018.7 L1634.5 1017.6 L1633.5 1019.4 L1632.5 1011.2 L1631.5 1012.5 L1630.5 1019.2 L1629.5 1018.3 L1628.5 1019.4 L1627.5 1018.8 L1626.5 1019.2 L1625.5 1019.6 L1624.5 1019.3 L1623.5 1017.7 L1622.5 1018.6 L1621.5 1019.1 L1620.5 1017.1 L1619.5 1017.6 L1618.5 1014.9 L1617.5 1009.7 L1616.5 1005.6 L1615.5 1005.3 L1614.5 1007.0 L1613.5 1008.4 L1612.5 1009.8 L1611.5 1011.9 L1610.5 1011.9 L1609.5 1011.7 L1608.5 1012.4 L1607.5 1014.4 L1606.5 1014.4 L1605.5 1014.7 L1604.5 1014.3 L1603.5 1016.9 L1602.5 1016.4 L1601.5 1018.7 L1600.5 1018.9 L1599.5 1018.1 L1598.5 1021.0 L1597.5 1019.7 L1596.5 1020.0 L1595.5 1021.6 L1594.5 1021.5 L1593.5 1022.2 L1592.5 1022.8 L1591.5 1019.5 L1590.5 1019.3 L1589.5 1017.9 L1588.5 1015.1 L1587.5 1018.1 L1586.5 1019.7 L1585.5 1011.2 L1584.5 1020.3 L1583.5 1013.8 L1582.5 1023.4 L1581.5 1023.8 L1580.5 1025.5 L1579.5 1024.6 L1578.5 1021.4 L1577.5 1022.2 L1576.5 1021.8 L1575.5 1019.5 L1574.5 1019.6 L1573.5 1019.5 L1572.5 1009.1 L1571.5 1016.7 L1570.5 1016.8 L1569.5 1013.8 L1568.5 1012.5 L1567.5 1014.3 L1566.5 1009.0 L1565.5 1006.4 L1564.5 1004.9 L1563.5 1001.6 L1562.5 1003.5 L1561.5 1002.2 L1560.5 1000.7 L1559.5 1002.6 L1558.5 1003.8 L1557.5 1002.5 L1556.5 1003.5 L1555.5 1004.7 L1554.5 1008.5 L1553.5 1007.1 L1552.5 1010.8 L1551.5 1012.2 L1550.5 1012.0 L1549.5 1010.7 L1548.5 1012.1 L1547.5 1012.8 L1546.5 1013.1 L1545.5 1013.8 L1544.5 1012.4 L1543.5 1014.2 L1542.5 1013.1 L1541.5 1014.7 L1540.5 1013.8 L1539.5 1015.8 L1538.5 1016.0 L1537.5 1015.6 L1536.5 1015.6 L1535.5 1015.7 L1534.5 1017.7 L1533.5 1006.6 L1532.5 1015.7 L1531.5 1015.7 L1530.5 1015.0 L1529.5 1014.1 L1528.5 1015.0 L1527.5 1014.2 L1526.5 1013.8 L1525.5 1012.7 L1524.5 1013.0 L1523.5 1013.1 L1522.5 1009.6 L1521.5 1010.1 L1520.5 1009.6 L1519.5 1008.4 L1518.5 1010.5 L1517.5 1012.5 L1516.5 1011.5 L1515.5 1012.7 L1514.5 1015.4 L1513.5 1004.9 L1512.5 1016.0 L1511.5 1012.9 L1510.5 1014.6 L1509.5 1012.6 L1508.5 1013.6 L1507.5 1013.7 L1506.5 1012.5 L1505.5 1011.4 L1504.5 1011.5 L1503.5 1012.2 L1502.5 1012.4 L1501.5 1012.1 L1500.5 1002.2 L1499.5 1010.7 L1498.5 1011.3 L1497.5 1011.9 L1496.5 1012.2 L1495.5 1009.9 L1494.5 1008.7 L1493.5 1008.5 L1492.5 1009.4 L1491.5 1008.9 L1490.5 1006.3 L1489.5 1005.6 L1488.5 1007.7 L1487.5 1004.2 L1486.5 1003.6 L1485.5 1005.0 L1484.5 1002.0 L1483.5 1002.2 L1482.5 991.0 L1481.5 997.3 L1480.5 984.3 L1479.5 992.0 L1478.5 990.7 L1477.5 986.7 L1476.5 983.1 L1475.5 984.3 L1474.5 980.5 L1473.5 982.6 L1472.5 978.6 L1471.5 967.7 L1470.5 976.5 L1469.5 977.3 L1468.5 975.3 L1467.5 974.6 L1466.5 972.6 L1465.5 971.6 L1464.5 972.1 L1463.5 959.6 L1462.5 970.2 L1461.5 972.4 L1460.5 968.8 L1459.5 970.7 L1458.5 970.7 L1457.5 970.0 L1456.5 967.2 L1455.5 967.3 L1454.5 961.3 L1453.5 958.2 L1452.5 959.6 L1451.5 957.2 L1450.5 956.2 L1449.5 954.4 L1448.5 944.5 L1447.5 954.1 L1446.5 956.9 L1445.5 957.5 L1444.5 954.8 L1443.5 955.0 L1442.5 956.4 L1441.5 957.9 L1440.5 956.6 L1439.5 956.8 L1438.5 957.1 L1437.5 958.6 L1436.5 960.1 L1435.5 959.9 L1434.5 962.1 L1433.5 964.2 L1432.5 965.3 L1431.5 965.6 L1430.5 969.1 L1429.5 969.3 L1428.5 967.8 L1427.5 968.9 L1426.5 967.6 L1425.5 966.0 L1424.5 970.8 L1423.5 971.7 L1422.5 971.7 L1421.5 973.6 L1420.5 974.3 L1419.5 975.3 L1418.5 976.9 L1417.5 980.4 L1416.5 968.1 L1415.5 982.2 L1414.5 983.7 L1413.5 983.4 L1412.5 986.0 L1411.5 989.1 L1410.5 990.4 L1409.5 990.1 L1408.5 990.8 L1407.5 988.5 L1406.5 987.5 L1405.5 987.9 L1404.5 989.5 L1403.5 987.6 L1402.5 987.5 L1401.5 989.2 L1400.5 986.2 L1399.5 983.4 L1398.5 979.8 L1397.5 977.7 L1396.5 974.1 L1395.5 971.4 L1394.5 971.7 L1393.5 969.0 L1392.5 966.2 L1391.5 962.4 L1390.5 947.9 L1389.5 959.4 L1388.5 957.9 L1387.5 960.3 L1386.5 960.2 L1385.5 957.0 L1384.5 956.5 L1383.5 956.3 L1382.5 956.9 L1381.5 956.6 L1380.5 955.5 L1379.5 957.0 L1378.5 954.4 L1377.5 952.4 L1376.5 948.3 L1375.5 948.2 L1374.5 943.9 L1373.5 942.2 L1372.5 943.2 L1371.5 938.1 L1370.5 938.7 L1369.5 923.5 L1368.5 920.2 L1367.5 933.0 L1366.5 928.7 L1365.5 929.1 L1364.5 928.5 L1363.5 926.1 L1362.5 922.7 L1361.5 923.0 L1360.5 921.9 L1359.5 908.0 L1358.5 919.7 L1357.5 916.2 L1356.5 918.2 L1355.5 916.6 L1354.5 915.0 L1353.5 915.4 L1352.5 919.5 L1351.5 919.2 L1350.5 920.1 L1349.5 918.8 L1348.5 920.0 L1347.5 922.6 L1346.5 922.3 L1345.5 920.8 L1344.5 910.4 L1343.5 924.6 L1342.5 923.7 L1341.5 923.1 L1340.5 923.2 L1339.5 927.1 L1338.5 912.9 L1337.5 924.3 L1336.5 926.9 L1335.5 919.2 L1334.5 908.9 L1333.5 903.1 L1332.5 892.8 L1331.5 884.1 L1330.5 880.8 L1329.5 876.4 L1328.5 872.2 L1327.5 867.0 L1326.5 859.5 L1325.5 854.5 L1324.5 850.2 L1323.5 845.9 L1322.5 846.6 L1321.5 840.6 L1320.5 840.2 L1319.5 836.8 L1318.5 832.6 L1317.5 831.9 L1316.5 831.1 L1315.5 825.9 L1314.5 809.5 L1313.5 823.0 L1312.5 820.0 L1311.5 820.5 L1310.5 821.4 L1309.5 818.6 L1308.5 816.9 L1307.5 817.5 L1306.5 816.7 L1305.5 816.1 L1304.5 816.0 L1303.5 816.8 L1302.5 812.2 L1301.5 809.1 L1300.5 803.1 L1299.5 795.9 L1298.5 791.6 L1297.5 790.8 L1296.5 785.3 L1295.5 784.8 L1294.5 784.5 L1293.5 786.0 L1292.5 782.8 L1291.5 786.9 L1290.5 770.5 L1289.5 782.5 L1288.5 784.9 L1287.5 786.6 L1286.5 784.5 L1285.5 785.5 L1284.5 789.3 L1283.5 788.6 L1282.5 789.9 L1281.5 789.5 L1280.5 790.3 L1279.5 793.0 L1278.5 794.4 L1277.5 793.2 L1276.5 795.9 L1275.5 795.7 L1274.5 798.6 L1273.5 798.7 L1272.5 801.9 L1271.5 800.4 L1270.5 802.9 L1269.5 797.2 L1268.5 797.0 L1267.5 794.8 L1266.5 788.8 L1265.5 787.7 L1264.5 784.1 L1263.5 767.1 L1262.5 778.4 L1261.5 775.3 L1260.5 775.1 L1259.5 756.7 L1258.5 768.9 L1257.5 766.2 L1256.5 761.4 L1255.5 758.5 L1254.5 760.0 L1253.5 756.0 L1252.5 751.8 L1251.5 748.2 L1250.5 746.9 L1249.5 743.5 L1248.5 741.3 L1247.5 739.0 L1246.5 736.0 L1245.5 737.5 L1244.5 732.3 L1243.5 732.3 L1242.5 727.9 L1241.5 729.1 L1240.5 714.0 L1239.5 727.8 L1238.5 727.5 L1237.5 723.3 L1236.5 723.4 L1235.5 724.7 L1234.5 723.5 L1233.5 721.8 L1232.5 724.1 L1231.5 722.9 L1230.5 722.2 L1229.5 724.3 L1228.5 724.5 L1227.5 724.7 L1226.5 724.2 L1225.5 724.3 L1224.5 729.6 L1223.5 725.7 L1222.5 727.2 L1221.5 726.8 L1220.5 730.7 L1219.5 730.1 L1218.5 733.2 L1217.5 730.4 L1216.5 730.8 L1215.5 731.0 L1214.5 735.1 L1213.5 735.6 L1212.5 735.4 L1211.5 733.5 L1210.5 732.9 L1209.5 736.5 L1208.5 733.5 L1207.5 733.0 L1206.5 737.2 L1205.5 736.8 L1204.5 737.9 L1203.5 737.0 L1202.5 734.8 L1201.5 738.7 L1200.5 736.0 L1199.5 736.6 L1198.5 738.7 L1197.5 740.4 L1196.5 739.9 L1195.5 737.6 L1194.5 718.0 L1193.5 732.4 L1192.5 730.0 L1191.5 726.9 L1190.5 723.3 L1189.5 722.3 L1188.5 719.8 L1187.5 718.5 L1186.5 715.8 L1185.5 696.6 L1184.5 717.2 L1183.5 710.5 L1182.5 708.0 L1181.5 711.5 L1180.5 716.6 L1179.5 742.9 L1178.5 751.6 L1177.5 746.6 L1176.5 745.8 L1175.5 752.2 L1174.5 750.5 L1173.5 756.5 L1172.5 756.6 L1171.5 752.9 L1170.5 751.8 L1169.5 750.7 L1168.5 750.7 L1167.5 747.1 L1166.5 753.4 L1165.5 763.7 L1164.5 764.2 L1163.5 766.0 L1162.5 765.6 L1161.5 746.4 L1160.5 756.7 L1159.5 745.9 L1158.5 755.5 L1157.5 751.3 L1156.5 740.6 L1155.5 768.6 L1154.5 622.8 L1153.5 762.2 L1152.5 740.4 L1151.5 743.1 L1150.5 772.5 L1149.5 745.5 L1148.5 640.9 L1147.5 755.7 L1146.5 768.2 L1145.5 781.7 L1144.5 768.9 L1143.5 782.7 L1142.5 781.8 L1141.5 775.6 L1140.5 766.4 L1139.5 766.5 L1138.5 761.0 L1137.5 772.4 L1136.5 760.3 L1135.5 773.4 L1134.5 778.3 L1133.5 770.1 L1132.5 776.3 L1131.5 785.5 L1130.5 772.5 L1129.5 769.4 L1128.5 768.5 L1127.5 787.6 L1126.5 782.5 L1125.5 769.3 L1124.5 777.5 L1123.5 772.5 L1122.5 770.8 L1121.5 750.8 L1120.5 752.8 L1119.5 733.0 L1118.5 743.6 L1117.5 753.4 L1116.5 722.2 L1115.5 713.7 L1114.5 740.0 L1113.5 703.7 L1112.5 567.3 L1111.5 739.3 L1110.5 745.2 L1109.5 611.5 L1108.5 714.9 L1107.5 735.7 L1106.5 721.4 L1105.5 708.9 L1104.5 722.6 L1103.5 713.5 L1102.5 705.0 L1101.5 706.0 L1100.5 705.0 L1099.5 704.2 L1098.5 703.2 L1097.5 706.9 L1096.5 716.5 L1095.5 711.6 L1094.5 719.1 L1093.5 728.5 L1092.5 732.7 L1091.5 729.1 L1090.5 721.7 L1089.5 720.8 L1088.5 717.4 L1087.5 722.4 L1086.5 726.6 L1085.5 734.8 L1084.5 735.4 L1083.5 740.0 L1082.5 741.2 L1081.5 735.8 L1080.5 728.6 L1079.5 721.5 L1078.5 719.7 L1077.5 716.7 L1076.5 725.3 L1075.5 735.6 L1074.5 745.5 L1073.5 754.2 L1072.5 763.3 L1071.5 774.7 L1070.5 790.3 L1069.5 805.8 L1068.5 824.2 L1067.5 808.7 L1066.5 821.2 L1065.5 831.6 L1064.5 861.7 L1063.5 860.3 L1062.5 861.8 L1061.5 861.4 L1060.5 847.6 L1059.5 866.2 L1058.5 865.0 L1057.5 866.3 L1056.5 867.7 L1055.5 868.3 L1054.5 866.8 L1053.5 870.1 L1052.5 868.7 L1051.5 870.4 L1050.5 870.7 L1049.5 871.2 L1048.5 871.4 L1047.5 874.4 L1046.5 872.6 L1045.5 876.7 L1044.5 871.0 L1043.5 875.8 L1042.5 886.7 L1041.5 891.0 L1040.5 893.2 L1039.5 895.6 L1038.5 897.0 L1037.5 898.3 L1036.5 897.9 L1035.5 897.9 L1034.5 897.4 L1033.5 897.2 L1032.5 898.7 L1031.5 897.2 L1030.5 899.8 L1029.5 902.7 L1028.5 904.6 L1027.5 907.1 L1026.5 908.6 L1025.5 910.9 L1024.5 913.7 L1023.5 916.1 L1022.5 918.0 L1021.5 920.9 L1020.5 924.0 L1019.5 924.8 L1018.5 927.1 L1017.5 927.9 L1016.5 926.2 L1015.5 926.3 L1014.5 926.6 L1013.5 925.2 L1012.5 922.4 L1011.5 921.3 L1010.5 919.1 L1009.5 918.7 L1008.5 915.4 L1007.5 914.9 L1006.5 912.4 L1005.5 910.8 L1004.5 909.2 L1003.5 901.9 L1002.5 909.3 L1001.5 911.0 L1000.5 912.4 L999.5 913.9 L998.5 914.1 L997.5 915.4 L996.5 918.1 L995.5 917.9 L994.5 919.0 L993.5 919.7 L992.5 919.8 L991.5 921.1 L990.5 922.6 L989.5 922.0 L988.5 922.3 L987.5 919.2 L986.5 917.8 L985.5 915.8 L984.5 914.0 L983.5 912.7 L982.5 908.6 L981.5 906.3 L980.5 905.3 L979.5 902.5 L978.5 893.7 L977.5 896.3 L976.5 891.2 L975.5 886.7 L974.5 881.5 L973.5 878.8 L972.5 872.3 L971.5 879.5 L970.5 878.0 L969.5 878.0 L968.5 877.8 L967.5 878.3 L966.5 879.4 L965.5 879.2 L964.5 879.8 L963.5 881.4 L962.5 883.4 L961.5 884.6 L960.5 887.2 L959.5 887.8 L958.5 890.7 L957.5 892.9 L956.5 894.5 L955.5 893.9 L954.5 893.9 L953.5 892.2 L952.5 885.8 L951.5 892.3 L950.5 883.9 L949.5 890.3 L948.5 890.2 L947.5 889.1 L946.5 887.9 L945.5 889.7 L944.5 889.3 L943.5 889.6 L942.5 889.5 L941.5 889.8 L940.5 890.0 L939.5 891.2 L938.5 890.8 L937.5 890.2 L936.5 890.2 L935.5 890.9 L934.5 890.8 L933.5 889.7 L932.5 890.4 L931.5 891.6 L930.5 893.7 L929.5 895.1 L928.5 897.6 L927.5 900.0 L926.5 898.4 L925.5 897.1 L924.5 894.4 L923.5 893.3 L922.5 890.8 L921.5 891.2 L920.5 893.0 L919.5 896.7 L918.5 897.9 L917.5 900.3 L916.5 901.1 L915.5 902.0 L914.5 902.7 L913.5 903.3 L912.5 903.9 L911.5 904.1 L910.5 904.1 L909.5 904.8 L908.5 900.0 L907.5 907.6 L906.5 908.3 L905.5 908.8 L904.5 908.1 L903.5 910.5 L902.5 911.0 L901.5 911.7 L900.5 914.4 L899.5 916.5 L898.5 917.6 L897.5 911.2 L896.5 906.5 L895.5 904.0 L894.5 896.5 L893.5 902.2 L892.5 901.0 L891.5 902.1 L890.5 903.6 L889.5 905.9 L888.5 907.9 L887.5 911.1 L886.5 912.9 L885.5 915.3 L884.5 915.9 L883.5 919.3 L882.5 920.7 L881.5 924.0 L880.5 928.6 L879.5 930.8 L878.5 930.2 L877.5 929.3 L876.5 930.0 L875.5 930.7 L874.5 930.5 L873.5 929.4 L872.5 930.6 L871.5 929.9 L870.5 929.8 L869.5 930.2 L868.5 930.8 L867.5 929.8 L866.5 929.2 L865.5 929.5 L864.5 930.8 L863.5 929.7 L862.5 930.9 L861.5 929.3 L860.5 930.5 L859.5 931.3 L858.5 932.3 L857.5 933.9 L856.5 933.4 L855.5 934.3 L854.5 935.3 L853.5 936.4 L852.5 938.2 L851.5 939.2 L850.5 938.5 L849.5 938.9 L848.5 940.7 L847.5 941.3 L846.5 941.0 L845.5 941.4 L844.5 942.0 L843.5 942.6 L842.5 943.6 L841.5 943.7 L840.5 944.9 L839.5 945.3 L838.5 944.6 L837.5 945.2 L836.5 946.1 L835.5 945.8 L834.5 946.1 L833.5 947.1 L832.5 947.0 L831.5 949.3 L830.5 949.4 L829.5 949.8 L828.5 950.5 L827.5 951.7 L826.5 954.3 L825.5 948.0 L824.5 955.1 L823.5 957.4 L822.5 956.6 L821.5 957.9 L820.5 960.8 L819.5 961.6 L818.5 963.2 L817.5 963.1 L816.5 965.5 L815.5 965.6 L814.5 967.2 L813.5 968.5 L812.5 968.6 L811.5 961.4 L810.5 965.6 L809.5 962.9 L808.5 960.7 L807.5 960.6 L806.5 961.2 L805.5 960.4 L804.5 961.1 L803.5 961.1 L802.5 961.8 L801.5 962.5 L800.5 962.9 L799.5 962.8 L798.5 963.1 L797.5 964.5 L796.5 965.2 L795.5 967.1 L794.5 968.1 L793.5 968.1 L792.5 969.2 L791.5 970.4 L790.5 972.4 L789.5 974.0 L788.5 973.3 L787.5 975.4 L786.5 975.5 L785.5 971.2 L784.5 977.4 L783.5 978.1 L782.5 979.3 L781.5 980.4 L780.5 981.8 L779.5 981.3 L778.5 981.7 L777.5 982.7 L776.5 983.0 L775.5 984.2 L774.5 983.9 L773.5 985.0 L772.5 984.0 L771.5 985.1 L770.5 984.8 L769.5 983.9 L768.5 984.1 L767.5 984.5 L766.5 985.6 L765.5 983.6 L764.5 983.2 L763.5 982.2 L762.5 982.1 L761.5 980.8 L760.5 980.9 L759.5 979.3 L758.5 979.1 L757.5 979.3 L756.5 978.3 L755.5 977.5 L754.5 975.9 L753.5 969.7 L752.5 975.8 L751.5 975.1 L750.5 974.2 L749.5 973.9 L748.5 972.4 L747.5 973.4 L746.5 972.7 L745.5 972.9 L744.5 974.9 L743.5 973.9 L742.5 975.0 L741.5 976.2 L740.5 975.2 L739.5 977.1 L738.5 976.7 L737.5 978.0 L736.5 979.9 L735.5 979.7 L734.5 980.4 L733.5 981.3 L732.5 982.3 L731.5 983.2 L730.5 984.0 L729.5 984.3 L728.5 978.2 L727.5 982.8 L726.5 984.2 L725.5 984.2 L724.5 983.1 L723.5 982.5 L722.5 982.5 L721.5 981.4 L720.5 982.4 L719.5 980.4 L718.5 980.9 L717.5 980.0 L716.5 979.0 L715.5 978.8 L714.5 979.7 L713.5 979.4 L712.5 971.1 L711.5 976.5 L710.5 978.2 L709.5 976.8 L708.5 978.9 L707.5 978.3 L706.5 979.3 L705.5 979.4 L704.5 978.5 L703.5 979.2 L702.5 978.8 L701.5 979.2 L700.5 979.7 L699.5 980.4 L698.5 980.3 L697.5 981.1 L696.5 983.1 L695.5 981.8 L694.5 982.9 L693.5 983.5 L692.5 983.1 L691.5 985.6 L690.5 984.6 L689.5 984.0 L688.5 985.6 L687.5 984.5 L686.5 985.6 L685.5 986.0 L684.5 986.3 L683.5 986.1 L682.5 984.8 L681.5 985.6 L680.5 986.2 L679.5 986.3 L678.5 985.5 L677.5 985.1 L676.5 985.8 L675.5 984.8 L674.5 984.8 L673.5 985.9 L672.5 984.2 L671.5 984.1 L670.5 984.2 L669.5 984.4 L668.5 984.1 L667.5 983.8 L666.5 984.7 L665.5 984.2 L664.5 977.7 L663.5 983.5 L662.5 984.9 L661.5 984.9 L660.5 983.1 L659.5 983.0 L658.5 984.4 L657.5 983.1 L656.5 983.5 L655.5 982.4 L654.5 982.5 L653.5 982.0 L652.5 982.7 L651.5 983.5 L650.5 981.8 L649.5 982.1 L648.5 975.9 L647.5 982.3 L646.5 982.3 L645.5 983.3 L644.5 983.6 L643.5 985.2 L642.5 984.5 L641.5 984.5 L640.5 985.1 L639.5 978.8 L638.5 983.7 L637.5 984.9 L636.5 977.4 L635.5 983.2 L634.5 983.8 L633.5 981.6 L632.5 978.7 L631.5 970.1 L630.5 973.2 L629.5 971.0 L628.5 967.6 L627.5 965.4 L626.5 962.1 L625.5 962.6 L624.5 963.4 L623.5 964.8 L622.5 965.7 L621.5 967.2 L620.5 967.5 L619.5 967.0 L618.5 969.1 L617.5 970.0 L616.5 969.0 L615.5 969.7 L614.5 972.2 L613.5 971.9 L612.5 973.4 L611.5 972.7 L610.5 974.9 L609.5 974.2 L608.5 974.7 L607.5 975.4 L606.5 976.0 L605.5 973.7 L604.5 973.1 L603.5 973.4 L602.5 966.6 L601.5 971.4 L600.5 971.5 L599.5 969.9 L598.5 970.9 L597.5 970.2 L596.5 968.1 L595.5 968.4 L594.5 969.4 L593.5 970.1 L592.5 971.9 L591.5 972.0 L590.5 974.0 L589.5 973.7 L588.5 975.8 L587.5 975.7 L586.5 977.5 L585.5 977.4 L584.5 978.4 L583.5 979.2 L582.5 979.8 L581.5 980.8 L580.5 982.3 L579.5 981.0 L578.5 981.0 L577.5 981.8 L576.5 980.6 L575.5 980.4 L574.5 980.4 L573.5 981.1 L572.5 980.0 L571.5 980.0 L570.5 981.1 L569.5 980.5 L568.5 980.3 L567.5 979.4 L566.5 979.8 L565.5 979.3 L564.5 979.4 L563.5 980.5 L562.5 979.0 L561.5 978.8 L560.5 979.7 L559.5 978.5 L558.5 978.3 L557.5 977.0 L556.5 976.9 L555.5 978.0 L554.5 976.3 L553.5 975.9 L552.5 976.0 L551.5 974.6 L550.5 974.2 L549.5 974.6 L548.5 973.7 L547.5 974.1 L546.5 967.4 L545.5 973.9 L544.5 973.3 L543.5 972.9 L542.5 971.9 L541.5 970.9 L540.5 970.9 L539.5 970.6 L538.5 971.7 L537.5 971.1 L536.5 969.7 L535.5 969.4 L534.5 970.8 L533.5 969.4 L532.5 968.9 L531.5 969.8 L530.5 969.0 L529.5 969.5 L528.5 967.7 L527.5 966.0 L526.5 964.8 L525.5 963.3 L524.5 962.8 L523.5 961.2 L522.5 961.1 L521.5 958.2 L520.5 957.3 L519.5 957.0 L518.5 954.9 L517.5 954.3 L516.5 947.9 L515.5 942.2 L514.5 936.8 L513.5 932.4 L512.5 935.4 L511.5 935.7 L510.5 937.5 L509.5 939.2 L508.5 941.6 L507.5 943.2 L506.5 944.9 L505.5 945.1 L504.5 938.1 L503.5 943.6 L502.5 942.4 L501.5 942.5 L500.5 941.0 L499.5 940.4 L498.5 940.4 L497.5 938.7 L496.5 939.3 L495.5 937.8 L494.5 937.7 L493.5 936.1 L492.5 935.0 L491.5 935.1 L490.5 936.6 L489.5 939.0 L488.5 941.3 L487.5 943.8 L486.5 945.8 L485.5 947.0 L484.5 950.0 L483.5 952.2 L482.5 951.3 L481.5 951.8 L480.5 951.7 L479.5 952.9 L478.5 952.6 L477.5 953.4 L476.5 953.2 L475.5 954.4 L474.5 954.8 L473.5 954.6 L472.5 955.3 L471.5 952.5 L470.5 950.0 L469.5 948.6 L468.5 945.5 L467.5 942.7 L466.5 941.2 L465.5 937.8 L464.5 935.4 L463.5 934.7 L462.5 937.4 L461.5 938.0 L460.5 940.1 L459.5 942.5 L458.5 942.9 L457.5 945.8 L456.5 945.7 L455.5 948.0 L454.5 950.7 L453.5 950.5 L452.5 953.0 L451.5 954.4 L450.5 957.0 L449.5 957.7 L448.5 951.2 L447.5 958.5 L446.5 959.6 L445.5 960.0 L444.5 961.0 L443.5 962.3 L442.5 961.5 L441.5 962.7 L440.5 962.5 L439.5 963.5 L438.5 965.3 L437.5 963.9 L436.5 961.4 L435.5 961.9 L434.5 960.8 L433.5 957.8 L432.5 956.4 L431.5 956.3 L430.5 954.6 L429.5 954.3 L428.5 954.7 L427.5 954.2 L426.5 954.5 L425.5 953.6 L424.5 953.4 L423.5 953.4 L422.5 954.4 L421.5 955.8 L420.5 959.2 L419.5 961.0 L418.5 961.5 L417.5 962.9 L416.5 965.4 L415.5 966.0 L414.5 969.3 L413.5 971.1 L412.5 972.0 L411.5 973.1 L410.5 974.2 L409.5 974.0 L408.5 975.2 L407.5 975.9 L406.5 976.1 L405.5 978.3 L404.5 978.5 L403.5 978.5 L402.5 979.6 L401.5 980.6 L400.5 981.8 L399.5 983.1 L398.5 976.6 L397.5 983.8 L396.5 983.9 L395.5 979.8 L394.5 985.5 L393.5 987.8 L392.5 987.1 L391.5 987.0 L390.5 987.5 L389.5 987.2 L388.5 988.0 L387.5 989.2 L386.5 988.4 L385.5 988.6 L384.5 989.1 L383.5 990.1 L382.5 990.1 L381.5 988.9 L380.5 989.5 L379.5 989.4 L378.5 991.3 L377.5 989.8 L376.5 991.5 L375.5 991.4 L374.5 990.6 L373.5 991.7 L372.5 992.8 L371.5 993.0 L370.5 992.5 L369.5 994.0 L368.5 994.3 L367.5 994.5 L366.5 994.5 L365.5 994.7 L364.5 996.8 L363.5 995.9 L362.5 996.2 L361.5 997.1 L360.5 997.7 L359.5 999.1 L358.5 999.5 L357.5 999.5 L356.5 999.6 L355.5 1000.7 L354.5 1001.1 L353.5 1000.8 L352.5 999.6 L351.5 1000.5 L350.5 1000.5 L349.5 999.0 L348.5 1000.5 L347.5 999.7 L346.5 1000.5 L345.5 998.6 L344.5 999.6 L343.5 999.1 L342.5 998.7 L341.5 999.8 L340.5 998.8 L339.5 999.8 L338.5 997.9 L337.5 997.9 L336.5 998.2 L335.5 999.9 L334.5 1000.0 L333.5 999.4 L332.5 999.9 L331.5 1000.4 L330.5 993.7 L329.5 1000.7 L328.5 1000.4 L327.5 999.8 L326.5 993.8 L325.5 1001.4 L324.5 1001.8 L323.5 1001.9 L322.5 995.6 L321.5 1001.6 L320.5 1002.1 L319.5 1003.0 L318.5 1001.4 L317.5 1002.0 L316.5 1003.6 L315.5 1003.8 L314.5 1004.1 L313.5 1006.4 L312.5 1007.1 L311.5 1007.2 L310.5 1007.9 L309.5 1008.8 L308.5 1008.7 L307.5 1009.0 L306.5 1010.2 L305.5 1011.4 L304.5 1012.8 L303.5 1011.9 L302.5 1013.7 L301.5 1013.5 L300.5 1014.1 L299.5 1014.5 L298.5 1015.0 L297.5 1015.5 L296.5 1016.5 L295.5 1015.1 L294.5 1015.8 L293.5 1015.2 L292.5 1010.1 L291.5 1015.9 L290.5 1015.7 L289.5 1017.5 L288.5 1017.0 L287.5 1017.6 L286.5 1011.0 L285.5 1016.0 L284.5 1016.1 L283.5 1017.0 L282.5 1016.7 L281.5 1016.7 L280.5 1017.5 L279.5 1017.5 L278.5 1017.1 L277.5 1017.6 L276.5 1017.5 L275.5 1017.8 L274.5 1018.9 L273.5 1018.5 L272.5 1018.6 L271.5 1019.8 L270.5 1019.5 L269.5 1021.0 L268.5 1020.4 L267.5 1020.8 L266.5 1020.0 L265.5 1014.7 L264.5 1020.8 L263.5 1021.3 L262.5 1022.1 L261.5 1023.0 L260.5 1021.7 L259.5 1021.8 L258.5 1021.4 L257.5 1021.2 L256.5 1021.4 L255.5 1022.4 L254.5 1021.6 L253.5 1023.0 L252.5 1021.8 L251.5 1023.0 L250.5 1021.5 L249.5 1022.6 L248.5 1021.2 L247.5 1021.3 L246.5 1021.9 L245.5 1022.1 L244.5 1021.2 L243.5 1021.9Z" fill="#a4c8e4" fill-opacity="0.6"/>
<path d="M243.5 1021.3 L244.5 1020.8 L245.5 1020.2 L246.5 1010.2 L247.5 1013.3 L248.5 1020.8 L249.5 1013.9 L250.5 1010.1 L251.5 1019.9 L252.5 1012.7 L253.5 1009.8 L254.5 1012.3 L255.5 1020.3 L256.5 1012.5 L257.5 1018.8 L258.5 1020.0 L259.5 1011.6 L260.5 1018.1 L261.5 1019.1 L262.5 1010.8 L263.5 1018.7 L264.5 1010.7 L265.5 1019.1 L266.5 1010.6 L267.5 1009.6 L268.5 1016.9 L269.5 1018.5 L270.5 1009.9 L271.5 1009.1 L272.5 1005.6 L273.5 1016.4 L274.5 1003.6 L275.5 1003.2 L276.5 1008.7 L277.5 1016.3 L278.5 1004.7 L279.5 1007.8 L280.5 1007.8 L281.5 1017.2 L282.5 1004.7 L283.5 1015.9 L284.5 1014.4 L285.5 1014.7 L286.5 998.6 L287.5 1005.5 L288.5 1002.0 L289.5 1003.6 L290.5 1002.8 L291.5 999.4 L292.5 1012.1 L293.5 1013.3 L294.5 996.8 L295.5 1011.1 L296.5 996.4 L297.5 1010.9 L298.5 1009.4 L299.5 997.6 L300.5 1009.3 L301.5 999.2 L302.5 1009.9 L303.5 995.0 L304.5 996.8 L305.5 999.8 L306.5 999.7 L307.5 994.3 L308.5 992.0 L309.5 992.4 L310.5 997.4 L311.5 1004.8 L312.5 992.2 L313.5 1006.4 L314.5 993.1 L315.5 995.8 L316.5 995.3 L317.5 994.6 L318.5 1003.6 L319.5 993.9 L320.5 992.8 L321.5 1002.1 L322.5 986.9 L323.5 991.1 L324.5 1001.6 L325.5 990.5 L326.5 992.6 L327.5 985.0 L328.5 992.1 L329.5 985.8 L330.5 1002.0 L331.5 1001.9 L332.5 1000.1 L333.5 988.5 L334.5 982.7 L335.5 989.6 L336.5 985.3 L337.5 986.7 L338.5 1000.4 L339.5 980.3 L340.5 988.6 L341.5 1000.2 L342.5 985.8 L343.5 997.5 L344.5 999.1 L345.5 998.9 L346.5 997.7 L347.5 996.9 L348.5 998.9 L349.5 986.2 L350.5 996.0 L351.5 980.2 L352.5 996.2 L353.5 983.2 L354.5 996.6 L355.5 995.9 L356.5 974.5 L357.5 979.8 L358.5 977.5 L359.5 981.9 L360.5 971.0 L361.5 970.8 L362.5 993.1 L363.5 978.8 L364.5 993.2 L365.5 992.9 L366.5 976.4 L367.5 989.8 L368.5 977.5 L369.5 974.4 L370.5 977.0 L371.5 991.1 L372.5 973.6 L373.5 976.2 L374.5 975.1 L375.5 974.8 L376.5 986.5 L377.5 967.7 L378.5 968.7 L379.5 983.6 L380.5 970.9 L381.5 982.0 L382.5 964.4 L383.5 982.3 L384.5 967.9 L385.5 980.8 L386.5 980.7 L387.5 978.9 L388.5 968.8 L389.5 966.8 L390.5 967.0 L391.5 975.0 L392.5 958.7 L393.5 976.1 L394.5 975.7 L395.5 962.3 L396.5 961.9 L397.5 964.0 L398.5 971.3 L399.5 963.1 L400.5 955.9 L401.5 961.2 L402.5 968.9 L403.5 969.2 L404.5 956.5 L405.5 959.1 L406.5 966.8 L407.5 958.9 L408.5 957.8 L409.5 959.0 L410.5 955.5 L411.5 959.9 L412.5 957.0 L413.5 973.9 L414.5 961.6 L415.5 960.4 L416.5 949.8 L417.5 978.2 L418.5 960.3 L419.5 979.6 L420.5 963.5 L421.5 981.3 L422.5 959.8 L423.5 979.5 L424.5 953.2 L425.5 957.9 L426.5 954.8 L427.5 948.9 L428.5 975.7 L429.5 946.3 L430.5 976.5 L431.5 948.5 L432.5 945.7 L433.5 971.1 L434.5 969.3 L435.5 949.3 L436.5 967.7 L437.5 945.0 L438.5 942.7 L439.5 944.1 L440.5 940.4 L441.5 962.4 L442.5 959.3 L443.5 942.6 L444.5 948.8 L445.5 940.0 L446.5 962.6 L447.5 962.0 L448.5 962.1 L449.5 946.9 L450.5 966.8 L451.5 951.5 L452.5 942.8 L453.5 947.1 L454.5 965.8 L455.5 967.2 L456.5 938.1 L457.5 947.8 L458.5 966.1 L459.5 950.1 L460.5 950.1 L461.5 946.7 L462.5 944.6 L463.5 960.4 L464.5 960.3 L465.5 946.6 L466.5 948.2 L467.5 940.0 L468.5 957.9 L469.5 938.8 L470.5 957.4 L471.5 958.7 L472.5 945.9 L473.5 957.5 L474.5 942.3 L475.5 938.1 L476.5 945.0 L477.5 944.4 L478.5 943.6 L479.5 943.3 L480.5 951.7 L481.5 936.3 L482.5 939.5 L483.5 951.2 L484.5 951.4 L485.5 950.2 L486.5 949.0 L487.5 940.7 L488.5 938.2 L489.5 942.9 L490.5 940.6 L491.5 940.5 L492.5 944.6 L493.5 953.2 L494.5 940.5 L495.5 937.7 L496.5 954.7 L497.5 956.8 L498.5 956.3 L499.5 943.1 L500.5 941.7 L501.5 959.5 L502.5 947.1 L503.5 945.4 L504.5 942.6 L505.5 960.3 L506.5 960.4 L507.5 949.7 L508.5 946.3 L509.5 942.4 L510.5 941.4 L511.5 963.2 L512.5 940.3 L513.5 964.8 L514.5 942.9 L515.5 945.7 L516.5 964.7 L517.5 944.3 L518.5 965.3 L519.5 951.4 L520.5 964.9 L521.5 951.9 L522.5 948.2 L523.5 948.9 L524.5 946.7 L525.5 964.4 L526.5 964.3 L527.5 963.6 L528.5 948.8 L529.5 948.4 L530.5 952.2 L531.5 953.8 L532.5 947.5 L533.5 968.7 L534.5 954.3 L535.5 955.4 L536.5 971.6 L537.5 956.6 L538.5 957.3 L539.5 956.9 L540.5 949.5 L541.5 958.8 L542.5 945.9 L543.5 952.3 L544.5 959.9 L545.5 953.9 L546.5 975.4 L547.5 976.2 L548.5 957.0 L549.5 949.9 L550.5 959.6 L551.5 951.0 L552.5 958.6 L553.5 976.0 L554.5 953.5 L555.5 978.4 L556.5 953.0 L557.5 980.1 L558.5 961.4 L559.5 954.6 L560.5 979.3 L561.5 980.4 L562.5 955.1 L563.5 978.9 L564.5 964.1 L565.5 977.5 L566.5 979.6 L567.5 979.7 L568.5 963.1 L569.5 963.4 L570.5 957.3 L571.5 980.4 L572.5 979.3 L573.5 957.4 L574.5 961.0 L575.5 965.5 L576.5 980.4 L577.5 977.3 L578.5 978.9 L579.5 955.4 L580.5 959.6 L581.5 960.6 L582.5 980.3 L583.5 965.7 L584.5 960.8 L585.5 967.8 L586.5 967.7 L587.5 979.5 L588.5 982.2 L589.5 980.6 L590.5 957.8 L591.5 985.0 L592.5 965.1 L593.5 970.5 L594.5 984.5 L595.5 965.6 L596.5 962.8 L597.5 985.4 L598.5 971.3 L599.5 970.0 L600.5 981.0 L601.5 982.1 L602.5 979.7 L603.5 966.9 L604.5 978.8 L605.5 976.0 L606.5 975.3 L607.5 976.6 L608.5 961.1 L609.5 976.1 L610.5 966.4 L611.5 964.2 L612.5 965.1 L613.5 968.1 L614.5 977.5 L615.5 961.8 L616.5 969.0 L617.5 962.5 L618.5 969.2 L619.5 981.0 L620.5 979.7 L621.5 980.9 L622.5 979.2 L623.5 966.5 L624.5 982.5 L625.5 968.4 L626.5 981.0 L627.5 970.6 L628.5 969.1 L629.5 970.5 L630.5 982.1 L631.5 982.0 L632.5 968.2 L633.5 969.8 L634.5 966.8 L635.5 969.6 L636.5 981.8 L637.5 980.9 L638.5 979.9 L639.5 969.2 L640.5 978.8 L641.5 979.9 L642.5 963.3 L643.5 968.7 L644.5 964.0 L645.5 979.5 L646.5 968.9 L647.5 979.6 L648.5 967.1 L649.5 961.1 L650.5 963.3 L651.5 965.8 L652.5 978.0 L653.5 966.0 L654.5 968.1 L655.5 965.8 L656.5 962.4 L657.5 979.1 L658.5 976.7 L659.5 979.1 L660.5 964.1 L661.5 966.7 L662.5 962.4 L663.5 978.4 L664.5 962.4 L665.5 978.7 L666.5 977.7 L667.5 977.6 L668.5 976.5 L669.5 964.0 L670.5 961.1 L671.5 961.9 L672.5 964.7 L673.5 977.1 L674.5 967.3 L675.5 978.7 L676.5 977.9 L677.5 978.7 L678.5 979.7 L679.5 964.6 L680.5 978.6 L681.5 966.0 L682.5 966.8 L683.5 981.9 L684.5 982.6 L685.5 982.1 L686.5 960.4 L687.5 967.9 L688.5 971.1 L689.5 962.9 L690.5 986.2 L691.5 983.5 L692.5 985.5 L693.5 986.7 L694.5 960.9 L695.5 967.9 L696.5 988.7 L697.5 989.6 L698.5 969.1 L699.5 988.0 L700.5 961.6 L701.5 989.0 L702.5 987.9 L703.5 992.4 L704.5 992.0 L705.5 969.4 L706.5 992.1 L707.5 994.9 L708.5 963.8 L709.5 969.0 L710.5 990.8 L711.5 960.8 L712.5 999.7 L713.5 958.6 L714.5 958.4 L715.5 959.7 L716.5 952.8 L717.5 959.4 L718.5 988.1 L719.5 990.0 L720.5 936.2 L721.5 936.1 L722.5 949.1 L723.5 981.8 L724.5 949.0 L725.5 958.2 L726.5 953.5 L727.5 982.3 L728.5 980.3 L729.5 965.4 L730.5 960.8 L731.5 976.7 L732.5 964.1 L733.5 976.5 L734.5 964.7 L735.5 959.6 L736.5 961.7 L737.5 959.4 L738.5 956.7 L739.5 963.1 L740.5 958.3 L741.5 963.7 L742.5 963.6 L743.5 963.0 L744.5 977.7 L745.5 978.0 L746.5 980.1 L747.5 966.4 L748.5 981.1 L749.5 959.6 L750.5 962.2 L751.5 956.9 L752.5 964.6 L753.5 981.8 L754.5 980.6 L755.5 959.7 L756.5 983.9 L757.5 961.0 L758.5 960.2 L759.5 963.9 L760.5 960.9 L761.5 984.4 L762.5 968.8 L763.5 985.7 L764.5 962.9 L765.5 967.2 L766.5 983.2 L767.5 963.6 L768.5 984.3 L769.5 982.1 L770.5 964.3 L771.5 963.1 L772.5 982.2 L773.5 959.0 L774.5 963.8 L775.5 982.6 L776.5 961.1 L777.5 964.1 L778.5 959.4 L779.5 979.6 L780.5 958.6 L781.5 962.2 L782.5 976.9 L783.5 964.1 L784.5 962.2 L785.5 976.4 L786.5 960.4 L787.5 978.6 L788.5 965.4 L789.5 959.2 L790.5 965.2 L791.5 962.0 L792.5 975.0 L793.5 978.6 L794.5 977.5 L795.5 978.2 L796.5 977.8 L797.5 979.6 L798.5 966.1 L799.5 955.3 L800.5 959.9 L801.5 958.7 L802.5 978.5 L803.5 974.5 L804.5 968.4 L805.5 954.0 L806.5 953.7 L807.5 954.3 L808.5 953.9 L809.5 956.5 L810.5 957.0 L811.5 965.4 L812.5 953.4 L813.5 952.5 L814.5 949.9 L815.5 960.1 L816.5 949.5 L817.5 952.6 L818.5 957.1 L819.5 955.4 L820.5 950.6 L821.5 953.0 L822.5 946.3 L823.5 952.2 L824.5 951.1 L825.5 945.4 L826.5 949.3 L827.5 946.1 L828.5 948.0 L829.5 947.3 L830.5 944.4 L831.5 942.8 L832.5 943.3 L833.5 944.7 L834.5 944.0 L835.5 943.5 L836.5 943.0 L837.5 941.0 L838.5 940.4 L839.5 941.2 L840.5 939.6 L841.5 938.9 L842.5 938.7 L843.5 939.0 L844.5 937.5 L845.5 937.0 L846.5 936.8 L847.5 936.0 L848.5 935.8 L849.5 935.5 L850.5 934.7 L851.5 934.3 L852.5 932.8 L853.5 932.1 L854.5 932.5 L855.5 932.0 L856.5 931.3 L857.5 930.8 L858.5 930.3 L859.5 926.8 L860.5 926.8 L861.5 926.5 L862.5 926.3 L863.5 929.2 L864.5 923.6 L865.5 924.6 L866.5 927.8 L867.5 920.6 L868.5 919.3 L869.5 919.1 L870.5 921.4 L871.5 917.1 L872.5 919.7 L873.5 916.9 L874.5 926.8 L875.5 915.3 L876.5 913.8 L877.5 924.2 L878.5 915.0 L879.5 923.3 L880.5 924.1 L881.5 911.7 L882.5 909.5 L883.5 909.2 L884.5 911.8 L885.5 915.0 L886.5 914.0 L887.5 929.8 L888.5 932.2 L889.5 911.6 L890.5 912.8 L891.5 905.7 L892.5 897.5 L893.5 912.2 L894.5 927.2 L895.5 925.7 L896.5 896.6 L897.5 897.2 L898.5 895.3 L899.5 911.5 L900.5 911.7 L901.5 899.0 L902.5 889.3 L903.5 890.0 L904.5 892.1 L905.5 890.4 L906.5 906.1 L907.5 888.2 L908.5 892.1 L909.5 890.7 L910.5 891.1 L911.5 893.5 L912.5 887.8 L913.5 892.2 L914.5 887.9 L915.5 884.6 L916.5 889.6 L917.5 888.7 L918.5 888.8 L919.5 882.7 L920.5 884.5 L921.5 885.8 L922.5 886.8 L923.5 885.6 L924.5 882.2 L925.5 886.0 L926.5 887.1 L927.5 897.1 L928.5 880.4 L929.5 883.6 L930.5 896.5 L931.5 879.3 L932.5 883.7 L933.5 893.5 L934.5 895.4 L935.5 880.5 L936.5 881.7 L937.5 892.2 L938.5 882.6 L939.5 878.4 L940.5 877.8 L941.5 874.8 L942.5 875.2 L943.5 874.5 L944.5 875.2 L945.5 879.2 L946.5 878.5 L947.5 875.8 L948.5 871.4 L949.5 876.4 L950.5 887.9 L951.5 887.7 L952.5 870.9 L953.5 872.2 L954.5 889.6 L955.5 890.1 L956.5 880.5 L957.5 881.5 L958.5 878.2 L959.5 896.4 L960.5 874.0 L961.5 884.3 L962.5 899.3 L963.5 879.2 L964.5 878.7 L965.5 873.6 L966.5 877.2 L967.5 885.4 L968.5 879.4 L969.5 879.5 L970.5 882.4 L971.5 887.5 L972.5 887.2 L973.5 885.6 L974.5 904.1 L975.5 902.5 L976.5 883.8 L977.5 885.2 L978.5 889.3 L979.5 890.5 L980.5 887.2 L981.5 891.1 L982.5 889.4 L983.5 880.6 L984.5 887.4 L985.5 881.6 L986.5 878.9 L987.5 888.0 L988.5 892.3 L989.5 912.4 L990.5 895.0 L991.5 891.6 L992.5 915.2 L993.5 912.5 L994.5 913.3 L995.5 895.2 L996.5 880.5 L997.5 895.2 L998.5 894.0 L999.5 886.9 L1000.5 883.4 L1001.5 885.0 L1002.5 893.9 L1003.5 891.7 L1004.5 913.6 L1005.5 879.8 L1006.5 885.9 L1007.5 888.2 L1008.5 892.7 L1009.5 916.8 L1010.5 887.7 L1011.5 889.0 L1012.5 883.6 L1013.5 891.1 L1014.5 877.1 L1015.5 880.7 L1016.5 873.4 L1017.5 881.6 L1018.5 866.5 L1019.5 874.5 L1020.5 876.8 L1021.5 884.1 L1022.5 884.7 L1023.5 884.6 L1024.5 910.3 L1025.5 882.6 L1026.5 877.0 L1027.5 879.8 L1028.5 876.5 L1029.5 879.9 L1030.5 862.2 L1031.5 873.4 L1032.5 902.5 L1033.5 876.4 L1034.5 875.9 L1035.5 871.5 L1036.5 859.8 L1037.5 859.2 L1038.5 858.4 L1039.5 861.1 L1040.5 854.2 L1041.5 850.9 L1042.5 840.6 L1043.5 843.4 L1044.5 828.0 L1045.5 806.4 L1046.5 858.3 L1047.5 806.3 L1048.5 815.6 L1049.5 787.0 L1050.5 777.3 L1051.5 780.3 L1052.5 791.8 L1053.5 771.4 L1054.5 845.6 L1055.5 750.5 L1056.5 769.8 L1057.5 767.6 L1058.5 845.4 L1059.5 451.1 L1060.5 834.6 L1061.5 802.7 L1062.5 151.0 L1063.5 98.4 L1064.5 112.3 L1065.5 245.1 L1066.5 750.5 L1067.5 288.2 L1068.5 339.5 L1069.5 206.0 L1070.5 125.2 L1071.5 113.9 L1072.5 212.2 L1073.5 625.6 L1074.5 213.6 L1075.5 611.5 L1076.5 260.2 L1077.5 623.9 L1078.5 608.4 L1079.5 296.7 L1080.5 270.1 L1081.5 329.6 L1082.5 100.1 L1083.5 614.0 L1084.5 244.1 L1085.5 159.7 L1086.5 320.5 L1087.5 329.0 L1088.5 634.8 L1089.5 592.5 L1090.5 559.9 L1091.5 580.6 L1092.5 234.9 L1093.5 256.1 L1094.5 96.8 L1095.5 326.6 L1096.5 186.3 L1097.5 90.0 L1098.5 89.0 L1099.5 88.0 L1100.5 87.0 L1101.5 158.6 L1102.5 245.5 L1103.5 315.8 L1104.5 342.9 L1105.5 381.8 L1106.5 409.0 L1107.5 426.2 L1108.5 450.4 L1109.5 287.7 L1110.5 454.6 L1111.5 466.6 L1112.5 481.2 L1113.5 484.1 L1114.5 487.7 L1115.5 497.5 L1116.5 521.7 L1117.5 447.2 L1118.5 547.9 L1119.5 490.6 L1120.5 572.5 L1121.5 594.6 L1122.5 496.8 L1123.5 619.5 L1124.5 612.1 L1125.5 633.3 L1126.5 626.2 L1127.5 620.3 L1128.5 481.4 L1129.5 386.4 L1130.5 345.6 L1131.5 532.6 L1132.5 283.1 L1133.5 115.9 L1134.5 148.4 L1135.5 226.8 L1136.5 217.5 L1137.5 123.8 L1138.5 416.5 L1139.5 157.4 L1140.5 448.9 L1141.5 457.4 L1142.5 483.1 L1143.5 477.1 L1144.5 332.9 L1145.5 289.4 L1146.5 385.7 L1147.5 441.0 L1148.5 544.6 L1149.5 545.3 L1150.5 554.6 L1151.5 563.2 L1152.5 515.9 L1153.5 569.3 L1154.5 576.4 L1155.5 540.4 L1156.5 576.1 L1157.5 587.1 L1158.5 587.3 L1159.5 594.4 L1160.5 557.0 L1161.5 544.9 L1162.5 567.8 L1163.5 612.4 L1164.5 623.0 L1165.5 563.3 L1166.5 580.7 L1167.5 584.9 L1168.5 644.2 L1169.5 639.3 L1170.5 650.8 L1171.5 651.8 L1172.5 650.4 L1173.5 666.4 L1174.5 600.4 L1175.5 613.4 L1176.5 673.6 L1177.5 600.8 L1178.5 679.1 L1179.5 603.7 L1180.5 679.0 L1181.5 680.8 L1182.5 693.5 L1183.5 615.2 L1184.5 686.9 L1185.5 688.0 L1186.5 629.1 L1187.5 609.7 L1188.5 632.4 L1189.5 626.8 L1190.5 706.0 L1191.5 622.6 L1192.5 719.7 L1193.5 649.9 L1194.5 636.9 L1195.5 720.3 L1196.5 631.8 L1197.5 620.1 L1198.5 659.0 L1199.5 719.3 L1200.5 658.3 L1201.5 646.1 L1202.5 710.2 L1203.5 658.3 L1204.5 665.2 L1205.5 707.3 L1206.5 705.2 L1207.5 713.9 L1208.5 708.9 L1209.5 708.2 L1210.5 665.8 L1211.5 703.5 L1212.5 673.7 L1213.5 665.1 L1214.5 681.5 L1215.5 677.7 L1216.5 668.4 L1217.5 679.3 L1218.5 675.0 L1219.5 704.8 L1220.5 680.0 L1221.5 679.4 L1222.5 677.6 L1223.5 679.1 L1224.5 685.0 L1225.5 690.0 L1226.5 675.6 L1227.5 682.6 L1228.5 710.3 L1229.5 710.5 L1230.5 694.0 L1231.5 714.6 L1232.5 684.3 L1233.5 695.8 L1234.5 699.5 L1235.5 691.8 L1236.5 685.7 L1237.5 719.2 L1238.5 721.3 L1239.5 704.5 L1240.5 693.0 L1241.5 698.6 L1242.5 707.1 L1243.5 707.5 L1244.5 703.2 L1245.5 710.8 L1246.5 706.4 L1247.5 698.7 L1248.5 698.7 L1249.5 715.4 L1250.5 705.7 L1251.5 705.0 L1252.5 710.7 L1253.5 719.2 L1254.5 721.7 L1255.5 723.3 L1256.5 724.6 L1257.5 708.7 L1258.5 750.0 L1259.5 753.1 L1260.5 731.7 L1261.5 728.5 L1262.5 765.1 L1263.5 736.2 L1264.5 734.3 L1265.5 738.0 L1266.5 739.6 L1267.5 728.6 L1268.5 741.0 L1269.5 732.8 L1270.5 744.9 L1271.5 731.3 L1272.5 742.5 L1273.5 735.9 L1274.5 739.8 L1275.5 735.5 L1276.5 738.4 L1277.5 741.7 L1278.5 738.0 L1279.5 739.2 L1280.5 755.3 L1281.5 755.7 L1282.5 735.5 L1283.5 748.9 L1284.5 750.4 L1285.5 752.9 L1286.5 761.6 L1287.5 746.6 L1288.5 761.5 L1289.5 764.1 L1290.5 762.7 L1291.5 768.9 L1292.5 769.0 L1293.5 763.3 L1294.5 768.7 L1295.5 765.8 L1296.5 775.4 L1297.5 802.1 L1298.5 800.8 L1299.5 776.5 L1300.5 768.6 L1301.5 783.5 L1302.5 768.4 L1303.5 775.1 L1304.5 775.2 L1305.5 812.5 L1306.5 781.0 L1307.5 773.9 L1308.5 793.3 L1309.5 783.5 L1310.5 796.0 L1311.5 798.7 L1312.5 801.1 L1313.5 793.5 L1314.5 802.0 L1315.5 789.2 L1316.5 808.7 L1317.5 807.4 L1318.5 806.5 L1319.5 814.8 L1320.5 817.2 L1321.5 810.7 L1322.5 819.4 L1323.5 812.8 L1324.5 813.8 L1325.5 859.6 L1326.5 860.9 L1327.5 817.8 L1328.5 819.0 L1329.5 820.6 L1330.5 822.6 L1331.5 887.2 L1332.5 893.2 L1333.5 847.8 L1334.5 891.8 L1335.5 837.0 L1336.5 864.1 L1337.5 867.3 L1338.5 857.7 L1339.5 836.9 L1340.5 865.3 L1341.5 871.2 L1342.5 863.5 L1343.5 875.7 L1344.5 858.0 L1345.5 911.8 L1346.5 872.5 L1347.5 911.6 L1348.5 864.9 L1349.5 869.9 L1350.5 873.8 L1351.5 885.3 L1352.5 877.1 L1353.5 865.7 L1354.5 883.5 L1355.5 889.1 L1356.5 882.4 L1357.5 916.0 L1358.5 889.4 L1359.5 885.8 L1360.5 874.6 L1361.5 875.7 L1362.5 890.0 L1363.5 881.8 L1364.5 880.2 L1365.5 895.5 L1366.5 895.9 L1367.5 899.8 L1368.5 901.6 L1369.5 902.8 L1370.5 926.4 L1371.5 928.5 L1372.5 908.4 L1373.5 891.5 L1374.5 902.3 L1375.5 913.1 L1376.5 911.6 L1377.5 914.3 L1378.5 901.3 L1379.5 918.3 L1380.5 945.3 L1381.5 918.3 L1382.5 916.2 L1383.5 952.4 L1384.5 908.3 L1385.5 909.3 L1386.5 925.4 L1387.5 953.9 L1388.5 930.7 L1389.5 914.5 L1390.5 936.1 L1391.5 915.7 L1392.5 934.1 L1393.5 972.4 L1394.5 972.5 L1395.5 923.7 L1396.5 975.6 L1397.5 930.2 L1398.5 945.4 L1399.5 941.6 L1400.5 944.4 L1401.5 926.3 L1402.5 983.7 L1403.5 925.3 L1404.5 976.4 L1405.5 928.6 L1406.5 927.6 L1407.5 943.9 L1408.5 936.1 L1409.5 925.1 L1410.5 932.6 L1411.5 925.7 L1412.5 979.3 L1413.5 947.6 L1414.5 947.7 L1415.5 927.4 L1416.5 928.7 L1417.5 969.4 L1418.5 967.6 L1419.5 935.2 L1420.5 966.8 L1421.5 940.8 L1422.5 963.9 L1423.5 930.4 L1424.5 929.3 L1425.5 956.2 L1426.5 927.6 L1427.5 952.7 L1428.5 926.7 L1429.5 935.6 L1430.5 928.0 L1431.5 927.2 L1432.5 929.4 L1433.5 936.6 L1434.5 926.4 L1435.5 924.7 L1436.5 934.1 L1437.5 947.7 L1438.5 933.5 L1439.5 929.0 L1440.5 925.6 L1441.5 946.0 L1442.5 947.0 L1443.5 932.9 L1444.5 934.3 L1445.5 935.5 L1446.5 930.1 L1447.5 947.0 L1448.5 946.7 L1449.5 929.4 L1450.5 936.2 L1451.5 933.9 L1452.5 935.1 L1453.5 931.6 L1454.5 935.1 L1455.5 926.7 L1456.5 932.9 L1457.5 957.0 L1458.5 937.5 L1459.5 962.2 L1460.5 945.2 L1461.5 948.0 L1462.5 946.6 L1463.5 969.7 L1464.5 937.3 L1465.5 970.2 L1466.5 951.0 L1467.5 954.3 L1468.5 953.9 L1469.5 950.8 L1470.5 945.3 L1471.5 948.3 L1472.5 955.3 L1473.5 952.1 L1474.5 959.7 L1475.5 960.3 L1476.5 955.6 L1477.5 975.1 L1478.5 957.1 L1479.5 963.7 L1480.5 980.8 L1481.5 983.6 L1482.5 961.0 L1483.5 959.1 L1484.5 970.7 L1485.5 973.7 L1486.5 967.8 L1487.5 993.2 L1488.5 971.6 L1489.5 997.4 L1490.5 969.1 L1491.5 998.5 L1492.5 977.5 L1493.5 984.4 L1494.5 985.6 L1495.5 986.0 L1496.5 986.5 L1497.5 984.9 L1498.5 981.1 L1499.5 986.7 L1500.5 1004.4 L1501.5 980.7 L1502.5 989.2 L1503.5 986.9 L1504.5 990.7 L1505.5 1006.7 L1506.5 992.0 L1507.5 985.8 L1508.5 1009.4 L1509.5 1009.5 L1510.5 985.9 L1511.5 980.1 L1512.5 986.9 L1513.5 1012.1 L1514.5 1010.5 L1515.5 1014.9 L1516.5 991.9 L1517.5 994.6 L1518.5 992.9 L1519.5 1011.3 L1520.5 1010.0 L1521.5 993.0 L1522.5 992.2 L1523.5 1006.7 L1524.5 984.1 L1525.5 984.4 L1526.5 991.2 L1527.5 1008.1 L1528.5 990.2 L1529.5 978.2 L1530.5 1008.5 L1531.5 987.4 L1532.5 977.5 L1533.5 1005.9 L1534.5 983.1 L1535.5 988.9 L1536.5 985.9 L1537.5 984.1 L1538.5 990.2 L1539.5 991.5 L1540.5 1009.2 L1541.5 986.5 L1542.5 985.6 L1543.5 978.2 L1544.5 979.8 L1545.5 1004.9 L1546.5 1005.7 L1547.5 991.3 L1548.5 976.7 L1549.5 981.6 L1550.5 983.3 L1551.5 981.8 L1552.5 984.4 L1553.5 979.0 L1554.5 988.2 L1555.5 978.5 L1556.5 1009.1 L1557.5 1008.4 L1558.5 990.4 L1559.5 1008.0 L1560.5 983.5 L1561.5 1007.4 L1562.5 989.9 L1563.5 981.3 L1564.5 1008.1 L1565.5 988.2 L1566.5 977.9 L1567.5 1005.6 L1568.5 986.3 L1569.5 978.9 L1570.5 1006.9 L1571.5 989.1 L1572.5 1008.4 L1573.5 991.0 L1574.5 983.0 L1575.5 978.0 L1576.5 993.7 L1577.5 1015.7 L1578.5 992.5 L1579.5 994.4 L1580.5 979.7 L1581.5 988.3 L1582.5 990.3 L1583.5 1020.0 L1584.5 984.2 L1585.5 991.6 L1586.5 1022.1 L1587.5 1018.1 L1588.5 985.5 L1589.5 976.3 L1590.5 978.4 L1591.5 993.2 L1592.5 1019.7 L1593.5 991.3 L1594.5 994.6 L1595.5 1016.9 L1596.5 985.1 L1597.5 981.8 L1598.5 984.0 L1599.5 984.9 L1600.5 990.1 L1601.5 978.0 L1602.5 1014.5 L1603.5 981.5 L1604.5 1016.7 L1605.5 981.8 L1606.5 990.3 L1607.5 1018.7 L1608.5 983.9 L1609.5 994.6 L1610.5 977.3 L1611.5 990.8 L1612.5 989.8 L1613.5 985.7 L1614.5 1016.6 L1615.5 1011.4 L1616.5 989.6 L1617.5 991.0 L1618.5 1013.2 L1619.5 1008.6 L1620.5 1007.0 L1621.5 989.7 L1622.5 983.9 L1623.5 986.0 L1624.5 1009.2 L1625.5 987.2 L1626.5 977.1 L1627.5 984.7 L1628.5 1012.2 L1629.5 990.6 L1630.5 989.4 L1631.5 976.0 L1632.5 1008.1 L1633.5 990.1 L1634.5 975.8 L1635.5 987.8 L1636.5 983.5 L1637.5 979.1 L1638.5 980.7 L1639.5 989.0 L1640.5 973.9 L1641.5 981.2 L1642.5 980.6 L1643.5 971.9 L1644.5 1004.7 L1645.5 980.5 L1646.5 974.2 L1647.5 978.3 L1648.5 978.0 L1649.5 975.2 L1650.5 981.1 L1651.5 983.4 L1652.5 984.2 L1653.5 972.0 L1654.5 982.5 L1655.5 984.7 L1656.5 973.6 L1657.5 981.8 L1658.5 982.9 L1659.5 984.2 L1660.5 983.2 L1661.5 998.6 L1662.5 1001.3 L1663.5 974.1 L1664.5 979.6 L1665.5 981.0 L1666.5 1003.9 L1667.5 1008.3 L1668.5 1005.7 L1669.5 977.6 L1670.5 987.5 L1671.5 968.3 L1672.5 968.4 L1673.5 976.1 L1674.5 983.7 L1675.5 982.1 L1676.5 989.1 L1677.5 1009.4 L1678.5 977.8 L1679.5 988.0 L1680.5 988.2 L1681.5 984.0 L1682.5 979.8 L1683.5 986.8 L1684.5 985.7 L1685.5 1013.5 L1686.5 1012.6 L1687.5 978.7 L1688.5 983.9 L1689.5 983.6 L1690.5 969.3 L1691.5 971.9 L1692.5 971.6 L1693.5 986.9 L1694.5 1015.6 L1694.5 1035.8 L1693.5 1042.3 L1692.5 1018.4 L1691.5 1032.5 L1690.5 1032.6 L1689.5 1044.4 L1688.5 1016.8 L1687.5 1036.7 L1686.5 1041.8 L1685.5 1043.9 L1684.5 1044.9 L1683.5 1019.2 L1682.5 1019.0 L1681.5 1038.1 L1680.5 1036.5 L1679.5 1031.9 L1678.5 1037.9 L1677.5 1043.8 L1676.5 1015.5 L1675.5 1031.7 L1674.5 1037.3 L1673.5 1033.1 L1672.5 1034.1 L1671.5 1043.6 L1670.5 1040.8 L1669.5 1040.1 L1668.5 1033.6 L1667.5 1039.0 L1666.5 1012.1 L1665.5 1040.1 L1664.5 1041.6 L1663.5 1009.5 L1662.5 1044.0 L1661.5 1040.2 L1660.5 1044.6 L1659.5 1038.7 L1658.5 1029.7 L1657.5 1031.7 L1656.5 1004.4 L1655.5 1008.4 L1654.5 1026.4 L1653.5 1004.4 L1652.5 1039.8 L1651.5 1040.4 L1650.5 1004.9 L1649.5 1030.0 L1648.5 1033.0 L1647.5 1036.0 L1646.5 1038.8 L1645.5 1011.5 L1644.5 1034.8 L1643.5 1042.6 L1642.5 1035.4 L1641.5 1032.7 L1640.5 1014.0 L1639.5 1015.2 L1638.5 1036.1 L1637.5 1044.0 L1636.5 1037.9 L1635.5 1013.7 L1634.5 1035.9 L1633.5 1041.3 L1632.5 1033.2 L1631.5 1044.3 L1630.5 1034.9 L1629.5 1031.7 L1628.5 1033.1 L1627.5 1036.0 L1626.5 1014.5 L1625.5 1037.0 L1624.5 1034.0 L1623.5 1042.2 L1622.5 1016.1 L1621.5 1043.4 L1620.5 1045.0 L1619.5 1036.9 L1618.5 1032.3 L1617.5 1015.0 L1616.5 1034.2 L1615.5 1032.6 L1614.5 1039.1 L1613.5 1036.2 L1612.5 1036.1 L1611.5 1023.6 L1610.5 1034.2 L1609.5 1036.2 L1608.5 1022.2 L1607.5 1022.0 L1606.5 1043.4 L1605.5 1043.0 L1604.5 1036.9 L1603.5 1034.5 L1602.5 1019.4 L1601.5 1034.8 L1600.5 1037.9 L1599.5 1035.0 L1598.5 1021.4 L1597.5 1043.0 L1596.5 1033.8 L1595.5 1022.2 L1594.5 1034.6 L1593.5 1041.0 L1592.5 1033.8 L1591.5 1021.0 L1590.5 1043.3 L1589.5 1022.9 L1588.5 1043.2 L1587.5 1035.0 L1586.5 1036.6 L1585.5 1039.4 L1584.5 1037.5 L1583.5 1042.2 L1582.5 1038.4 L1581.5 1037.7 L1580.5 1037.2 L1579.5 1044.0 L1578.5 1019.4 L1577.5 1016.7 L1576.5 1043.5 L1575.5 1041.7 L1574.5 1033.4 L1573.5 1034.3 L1572.5 1041.9 L1571.5 1012.5 L1570.5 1031.2 L1569.5 1041.9 L1568.5 1014.7 L1567.5 1010.0 L1566.5 1034.3 L1565.5 1029.4 L1564.5 1031.0 L1563.5 1033.5 L1562.5 1035.3 L1561.5 1035.8 L1560.5 1012.4 L1559.5 1010.6 L1558.5 1029.4 L1557.5 1035.3 L1556.5 1033.7 L1555.5 1030.5 L1554.5 1011.3 L1553.5 1035.1 L1552.5 1038.2 L1551.5 1031.0 L1550.5 1012.3 L1549.5 1039.2 L1548.5 1044.4 L1547.5 1042.1 L1546.5 1035.4 L1545.5 1012.3 L1544.5 1039.2 L1543.5 1040.1 L1542.5 1042.5 L1541.5 1033.9 L1540.5 1029.3 L1539.5 1040.7 L1538.5 1040.0 L1537.5 1032.1 L1536.5 1014.0 L1535.5 1039.3 L1534.5 1011.0 L1533.5 1038.0 L1532.5 1035.3 L1531.5 1029.8 L1530.5 1032.8 L1529.5 1010.0 L1528.5 1038.0 L1527.5 1030.3 L1526.5 1011.3 L1525.5 1041.2 L1524.5 1039.4 L1523.5 1039.1 L1522.5 1035.8 L1521.5 1033.9 L1520.5 1018.0 L1519.5 1031.7 L1518.5 1039.6 L1517.5 1032.7 L1516.5 1033.5 L1515.5 1038.2 L1514.5 1017.0 L1513.5 1033.8 L1512.5 1033.8 L1511.5 1031.9 L1510.5 1017.0 L1509.5 1014.4 L1508.5 1016.6 L1507.5 1012.6 L1506.5 1035.0 L1505.5 1037.6 L1504.5 1037.2 L1503.5 1035.5 L1502.5 1009.9 L1501.5 1031.6 L1500.5 1037.8 L1499.5 1041.5 L1498.5 1027.6 L1497.5 1030.7 L1496.5 1032.2 L1495.5 1036.8 L1494.5 1038.3 L1493.5 1025.4 L1492.5 1001.5 L1491.5 1004.9 L1490.5 1035.1 L1489.5 1026.8 L1488.5 1024.5 L1487.5 1031.3 L1486.5 1042.1 L1485.5 1000.7 L1484.5 1029.3 L1483.5 1027.3 L1482.5 1031.8 L1481.5 991.6 L1480.5 1032.2 L1479.5 985.3 L1478.5 1042.0 L1477.5 1022.4 L1476.5 1016.0 L1475.5 975.0 L1474.5 1021.6 L1473.5 975.9 L1472.5 1022.6 L1471.5 1025.6 L1470.5 1023.2 L1469.5 1034.6 L1468.5 1015.1 L1467.5 1018.9 L1466.5 1018.7 L1465.5 975.7 L1464.5 1023.7 L1463.5 1029.4 L1462.5 1036.8 L1461.5 1029.2 L1460.5 1009.1 L1459.5 1023.7 L1458.5 1007.2 L1457.5 1022.3 L1456.5 971.7 L1455.5 1008.6 L1454.5 1027.2 L1453.5 956.3 L1452.5 1010.2 L1451.5 963.6 L1450.5 1019.0 L1449.5 1030.5 L1448.5 1037.7 L1447.5 1009.8 L1446.5 1000.3 L1445.5 1034.1 L1444.5 1000.7 L1443.5 1005.3 L1442.5 1009.6 L1441.5 1017.3 L1440.5 951.8 L1439.5 949.9 L1438.5 1008.5 L1437.5 963.0 L1436.5 1025.9 L1435.5 1020.6 L1434.5 955.9 L1433.5 1037.5 L1432.5 1013.2 L1431.5 1030.6 L1430.5 1002.0 L1429.5 1001.2 L1428.5 1004.4 L1427.5 1034.6 L1426.5 961.4 L1425.5 1028.3 L1424.5 972.5 L1423.5 1019.3 L1422.5 971.1 L1421.5 971.8 L1420.5 1018.4 L1419.5 1009.8 L1418.5 1027.9 L1417.5 973.8 L1416.5 1011.1 L1415.5 1011.6 L1414.5 979.7 L1413.5 981.1 L1412.5 1033.2 L1411.5 987.4 L1410.5 1027.2 L1409.5 1034.5 L1408.5 1011.6 L1407.5 1017.8 L1406.5 1015.4 L1405.5 1017.0 L1404.5 990.4 L1403.5 1016.1 L1402.5 1025.5 L1401.5 986.8 L1400.5 985.4 L1399.5 1033.3 L1398.5 1017.9 L1397.5 1018.4 L1396.5 1023.0 L1395.5 983.7 L1394.5 1018.4 L1393.5 1029.9 L1392.5 1004.7 L1391.5 1013.5 L1390.5 1004.8 L1389.5 1001.9 L1388.5 1009.3 L1387.5 999.6 L1386.5 1014.2 L1385.5 999.2 L1384.5 1018.2 L1383.5 955.8 L1382.5 993.9 L1381.5 994.6 L1380.5 992.3 L1379.5 1020.7 L1378.5 1003.8 L1377.5 949.6 L1376.5 987.0 L1375.5 940.9 L1374.5 1011.9 L1373.5 1009.3 L1372.5 984.1 L1371.5 1011.4 L1370.5 979.1 L1369.5 982.6 L1368.5 995.9 L1367.5 978.9 L1366.5 975.1 L1365.5 1004.2 L1364.5 1013.9 L1363.5 921.7 L1362.5 993.5 L1361.5 987.1 L1360.5 995.3 L1359.5 932.6 L1358.5 986.4 L1357.5 979.6 L1356.5 976.1 L1355.5 924.1 L1354.5 988.1 L1353.5 921.6 L1352.5 978.9 L1351.5 1000.2 L1350.5 971.1 L1349.5 968.1 L1348.5 1002.4 L1347.5 918.2 L1346.5 964.9 L1345.5 972.4 L1344.5 963.3 L1343.5 920.0 L1342.5 992.7 L1341.5 918.6 L1340.5 986.5 L1339.5 970.4 L1338.5 959.4 L1337.5 912.7 L1336.5 985.9 L1335.5 957.6 L1334.5 950.6 L1333.5 903.8 L1332.5 956.2 L1331.5 947.4 L1330.5 899.5 L1329.5 968.0 L1328.5 930.3 L1327.5 934.4 L1326.5 874.0 L1325.5 866.5 L1324.5 940.4 L1323.5 935.9 L1322.5 933.2 L1321.5 909.4 L1320.5 909.9 L1319.5 914.9 L1318.5 928.9 L1317.5 917.0 L1316.5 848.8 L1315.5 922.3 L1314.5 837.1 L1313.5 892.6 L1312.5 892.3 L1311.5 902.0 L1310.5 898.4 L1309.5 882.8 L1308.5 823.4 L1307.5 921.4 L1306.5 889.4 L1305.5 892.5 L1304.5 876.1 L1303.5 823.0 L1302.5 825.6 L1301.5 890.5 L1300.5 893.6 L1299.5 813.0 L1298.5 812.3 L1297.5 894.8 L1296.5 901.1 L1295.5 904.8 L1294.5 887.4 L1293.5 802.6 L1292.5 859.8 L1291.5 803.8 L1290.5 886.5 L1289.5 852.5 L1288.5 863.9 L1287.5 848.9 L1286.5 850.2 L1285.5 844.4 L1284.5 882.6 L1283.5 864.1 L1282.5 840.4 L1281.5 838.5 L1280.5 842.8 L1279.5 842.5 L1278.5 837.1 L1277.5 838.0 L1276.5 850.6 L1275.5 788.9 L1274.5 862.2 L1273.5 783.5 L1272.5 830.9 L1271.5 830.5 L1270.5 847.0 L1269.5 858.2 L1268.5 840.0 L1267.5 779.3 L1266.5 821.6 L1265.5 781.6 L1264.5 826.1 L1263.5 823.6 L1262.5 840.0 L1261.5 830.6 L1260.5 770.4 L1259.5 827.8 L1258.5 800.8 L1257.5 798.7 L1256.5 826.0 L1255.5 817.9 L1254.5 809.4 L1253.5 754.0 L1252.5 816.7 L1251.5 808.3 L1250.5 808.8 L1249.5 745.7 L1248.5 825.7 L1247.5 817.3 L1246.5 827.7 L1245.5 830.7 L1244.5 821.4 L1243.5 808.9 L1242.5 833.4 L1241.5 743.7 L1240.5 727.4 L1239.5 741.7 L1238.5 822.4 L1237.5 733.3 L1236.5 736.5 L1235.5 724.6 L1234.5 804.1 L1233.5 820.9 L1232.5 846.8 L1231.5 806.0 L1230.5 731.3 L1229.5 811.0 L1228.5 826.5 L1227.5 799.7 L1226.5 855.0 L1225.5 811.5 L1224.5 864.2 L1223.5 729.0 L1222.5 814.9 L1221.5 839.8 L1220.5 822.2 L1219.5 712.9 L1218.5 824.1 L1217.5 850.5 L1216.5 705.7 L1215.5 837.6 L1214.5 836.3 L1213.5 720.3 L1212.5 714.0 L1211.5 838.6 L1210.5 803.7 L1209.5 811.6 L1208.5 835.5 L1207.5 854.7 L1206.5 870.8 L1205.5 802.6 L1204.5 846.9 L1203.5 807.9 L1202.5 739.1 L1201.5 736.6 L1200.5 721.3 L1199.5 856.8 L1198.5 803.7 L1197.5 815.3 L1196.5 830.2 L1195.5 815.6 L1194.5 801.3 L1193.5 800.8 L1192.5 857.9 L1191.5 722.3 L1190.5 817.0 L1189.5 831.4 L1188.5 714.5 L1187.5 820.6 L1186.5 793.0 L1185.5 845.0 L1184.5 796.9 L1183.5 707.8 L1182.5 713.7 L1181.5 852.9 L1180.5 814.6 L1179.5 697.2 L1178.5 695.1 L1177.5 685.2 L1176.5 700.2 L1175.5 683.7 L1174.5 843.2 L1173.5 674.3 L1172.5 671.7 L1171.5 665.2 L1170.5 837.7 L1169.5 825.0 L1168.5 670.3 L1167.5 659.2 L1166.5 772.3 L1165.5 633.2 L1164.5 653.6 L1163.5 653.9 L1162.5 621.8 L1161.5 633.4 L1160.5 743.9 L1159.5 828.0 L1158.5 625.0 L1157.5 731.0 L1156.5 780.3 L1155.5 597.4 L1154.5 604.3 L1153.5 607.6 L1152.5 581.7 L1151.5 804.7 L1150.5 762.9 L1149.5 592.2 L1148.5 587.8 L1147.5 561.3 L1146.5 717.5 L1145.5 785.7 L1144.5 558.2 L1143.5 532.0 L1142.5 541.0 L1141.5 852.4 L1140.5 472.8 L1139.5 843.0 L1138.5 490.5 L1137.5 804.1 L1136.5 730.6 L1135.5 418.5 L1134.5 468.8 L1133.5 706.8 L1132.5 535.8 L1131.5 787.4 L1130.5 631.6 L1129.5 845.8 L1128.5 646.5 L1127.5 669.6 L1126.5 817.7 L1125.5 817.6 L1124.5 675.7 L1123.5 795.4 L1122.5 626.4 L1121.5 640.5 L1120.5 867.4 L1119.5 591.1 L1118.5 565.4 L1117.5 751.5 L1116.5 587.2 L1115.5 794.0 L1114.5 541.0 L1113.5 907.1 L1112.5 514.8 L1111.5 509.3 L1110.5 536.5 L1109.5 492.8 L1108.5 516.5 L1107.5 778.9 L1106.5 776.2 L1105.5 449.8 L1104.5 451.9 L1103.5 773.3 L1102.5 623.9 L1101.5 766.1 L1100.5 776.1 L1099.5 683.8 L1098.5 824.9 L1097.5 148.0 L1096.5 746.6 L1095.5 708.4 L1094.5 901.2 L1093.5 745.9 L1092.5 761.3 L1091.5 612.4 L1090.5 840.1 L1089.5 809.4 L1088.5 672.6 L1087.5 920.4 L1086.5 810.6 L1085.5 665.7 L1084.5 846.0 L1083.5 807.7 L1082.5 658.0 L1081.5 898.8 L1080.5 673.3 L1079.5 692.7 L1078.5 831.0 L1077.5 673.0 L1076.5 700.5 L1075.5 675.9 L1074.5 832.7 L1073.5 800.0 L1072.5 849.0 L1071.5 823.0 L1070.5 809.1 L1069.5 722.8 L1068.5 893.8 L1067.5 793.5 L1066.5 827.9 L1065.5 882.6 L1064.5 842.5 L1063.5 852.8 L1062.5 845.8 L1061.5 856.5 L1060.5 891.7 L1059.5 892.4 L1058.5 855.9 L1057.5 919.9 L1056.5 908.6 L1055.5 922.2 L1054.5 902.7 L1053.5 909.1 L1052.5 909.0 L1051.5 915.5 L1050.5 912.9 L1049.5 946.9 L1048.5 928.1 L1047.5 873.2 L1046.5 943.7 L1045.5 944.9 L1044.5 944.1 L1043.5 936.7 L1042.5 970.2 L1041.5 955.3 L1040.5 956.0 L1039.5 949.6 L1038.5 905.8 L1037.5 951.7 L1036.5 952.7 L1035.5 954.8 L1034.5 954.5 L1033.5 963.9 L1032.5 939.5 L1031.5 948.5 L1030.5 912.9 L1029.5 909.8 L1028.5 948.5 L1027.5 950.2 L1026.5 950.9 L1025.5 938.5 L1024.5 944.9 L1023.5 938.0 L1022.5 936.8 L1021.5 939.0 L1020.5 942.9 L1019.5 942.6 L1018.5 947.7 L1017.5 938.2 L1016.5 940.7 L1015.5 951.2 L1014.5 945.0 L1013.5 936.9 L1012.5 949.3 L1011.5 939.3 L1010.5 940.6 L1009.5 938.9 L1008.5 945.6 L1007.5 940.2 L1006.5 937.9 L1005.5 918.1 L1004.5 945.8 L1003.5 946.3 L1002.5 937.9 L1001.5 938.3 L1000.5 917.5 L999.5 934.5 L998.5 936.4 L997.5 918.0 L996.5 935.4 L995.5 940.0 L994.5 938.6 L993.5 934.6 L992.5 918.5 L991.5 934.1 L990.5 920.1 L989.5 917.9 L988.5 937.6 L987.5 936.9 L986.5 938.2 L985.5 940.8 L984.5 941.0 L983.5 943.1 L982.5 939.9 L981.5 939.4 L980.5 931.3 L979.5 913.3 L978.5 908.7 L977.5 939.2 L976.5 936.2 L975.5 910.4 L974.5 935.5 L973.5 906.9 L972.5 934.5 L971.5 944.4 L970.5 932.5 L969.5 904.4 L968.5 942.6 L967.5 931.1 L966.5 905.0 L965.5 931.6 L964.5 934.3 L963.5 933.8 L962.5 906.0 L961.5 940.2 L960.5 900.3 L959.5 936.5 L958.5 898.0 L957.5 900.6 L956.5 922.4 L955.5 923.0 L954.5 937.7 L953.5 928.4 L952.5 921.0 L951.5 943.8 L950.5 922.1 L949.5 891.9 L948.5 939.7 L947.5 944.0 L946.5 939.4 L945.5 931.3 L944.5 927.8 L943.5 891.8 L942.5 932.2 L941.5 940.7 L940.5 926.7 L939.5 900.0 L938.5 895.8 L937.5 952.0 L936.5 954.9 L935.5 947.6 L934.5 904.7 L933.5 961.4 L932.5 898.7 L931.5 934.0 L930.5 940.9 L929.5 958.5 L928.5 952.1 L927.5 899.6 L926.5 946.5 L925.5 946.1 L924.5 953.0 L923.5 902.9 L922.5 955.0 L921.5 901.1 L920.5 939.7 L919.5 906.7 L918.5 973.6 L917.5 950.5 L916.5 954.3 L915.5 945.6 L914.5 907.6 L913.5 976.8 L912.5 971.3 L911.5 971.6 L910.5 966.0 L909.5 958.7 L908.5 977.5 L907.5 959.5 L906.5 962.5 L905.5 980.6 L904.5 916.7 L903.5 960.2 L902.5 969.6 L901.5 956.8 L900.5 969.3 L899.5 992.7 L898.5 962.1 L897.5 962.9 L896.5 984.2 L895.5 937.1 L894.5 971.3 L893.5 967.7 L892.5 975.3 L891.5 970.2 L890.5 970.8 L889.5 978.1 L888.5 961.3 L887.5 980.6 L886.5 958.9 L885.5 970.5 L884.5 961.5 L883.5 931.1 L882.5 930.2 L881.5 928.2 L880.5 955.6 L879.5 966.1 L878.5 960.7 L877.5 959.8 L876.5 929.9 L875.5 976.4 L874.5 955.2 L873.5 955.1 L872.5 964.8 L871.5 957.1 L870.5 977.7 L869.5 968.5 L868.5 974.5 L867.5 956.8 L866.5 957.6 L865.5 961.2 L864.5 959.3 L863.5 957.5 L862.5 967.4 L861.5 975.8 L860.5 970.8 L859.5 977.7 L858.5 966.2 L857.5 977.3 L856.5 973.1 L855.5 933.4 L854.5 938.4 L853.5 961.4 L852.5 970.2 L851.5 940.5 L850.5 966.4 L849.5 980.4 L848.5 972.4 L847.5 976.5 L846.5 978.2 L845.5 978.4 L844.5 972.7 L843.5 942.7 L842.5 982.6 L841.5 977.2 L840.5 972.7 L839.5 948.5 L838.5 983.9 L837.5 946.7 L836.5 950.5 L835.5 951.7 L834.5 984.5 L833.5 950.9 L832.5 945.7 L831.5 999.6 L830.5 984.3 L829.5 955.8 L828.5 952.7 L827.5 954.6 L826.5 953.7 L825.5 983.7 L824.5 998.1 L823.5 953.9 L822.5 984.5 L821.5 962.1 L820.5 993.0 L819.5 989.5 L818.5 964.0 L817.5 959.7 L816.5 965.8 L815.5 969.1 L814.5 992.5 L813.5 998.0 L812.5 1015.7 L811.5 966.3 L810.5 968.8 L809.5 1001.7 L808.5 969.8 L807.5 960.7 L806.5 1010.3 L805.5 962.4 L804.5 1012.2 L803.5 978.2 L802.5 982.9 L801.5 1018.2 L800.5 983.6 L799.5 1014.9 L798.5 1029.0 L797.5 1018.2 L796.5 979.8 L795.5 1012.9 L794.5 1013.9 L793.5 1018.2 L792.5 1007.9 L791.5 985.3 L790.5 979.6 L789.5 980.3 L788.5 983.5 L787.5 980.9 L786.5 1029.0 L785.5 1009.1 L784.5 1018.3 L783.5 983.8 L782.5 1020.6 L781.5 982.1 L780.5 986.3 L779.5 1012.9 L778.5 987.3 L777.5 1013.6 L776.5 984.3 L775.5 1010.8 L774.5 989.0 L773.5 986.5 L772.5 1032.1 L771.5 1031.3 L770.5 1015.2 L769.5 1016.4 L768.5 1013.1 L767.5 1012.5 L766.5 1033.3 L765.5 1017.9 L764.5 991.5 L763.5 990.8 L762.5 991.6 L761.5 990.9 L760.5 989.0 L759.5 1028.6 L758.5 1027.0 L757.5 1028.4 L756.5 1017.8 L755.5 1018.5 L754.5 1031.8 L753.5 1015.9 L752.5 989.6 L751.5 986.0 L750.5 986.0 L749.5 1025.5 L748.5 1014.6 L747.5 1022.5 L746.5 1025.0 L745.5 1035.9 L744.5 986.2 L743.5 982.6 L742.5 1014.0 L741.5 1012.4 L740.5 1018.6 L739.5 1010.7 L738.5 979.0 L737.5 1012.4 L736.5 1030.0 L735.5 1025.4 L734.5 1024.3 L733.5 1026.2 L732.5 1017.8 L731.5 1013.5 L730.5 1025.3 L729.5 1033.9 L728.5 1021.5 L727.5 1024.8 L726.5 1019.6 L725.5 1029.7 L724.5 1024.2 L723.5 988.1 L722.5 987.0 L721.5 1035.6 L720.5 1023.4 L719.5 1033.0 L718.5 995.5 L717.5 1034.0 L716.5 1020.3 L715.5 1000.0 L714.5 1025.1 L713.5 1003.7 L712.5 1023.6 L711.5 1005.1 L710.5 1000.2 L709.5 1038.9 L708.5 1022.1 L707.5 997.2 L706.5 997.0 L705.5 1024.2 L704.5 994.8 L703.5 995.1 L702.5 1021.6 L701.5 1028.2 L700.5 1030.4 L699.5 1040.0 L698.5 1021.0 L697.5 992.8 L696.5 1029.2 L695.5 1036.5 L694.5 991.6 L693.5 988.8 L692.5 990.4 L691.5 1037.4 L690.5 988.6 L689.5 991.0 L688.5 988.2 L687.5 1035.6 L686.5 989.9 L685.5 986.1 L684.5 989.2 L683.5 990.1 L682.5 1016.5 L681.5 983.6 L680.5 989.8 L679.5 1041.7 L678.5 1018.2 L677.5 982.2 L676.5 985.4 L675.5 1041.0 L674.5 1020.2 L673.5 985.8 L672.5 1024.0 L671.5 981.3 L670.5 988.8 L669.5 985.8 L668.5 1014.0 L667.5 985.3 L666.5 1029.5 L665.5 1019.4 L664.5 982.6 L663.5 1018.5 L662.5 1014.2 L661.5 979.7 L660.5 1014.9 L659.5 1033.3 L658.5 1024.0 L657.5 981.4 L656.5 1017.0 L655.5 1015.6 L654.5 988.6 L653.5 982.3 L652.5 982.5 L651.5 981.9 L650.5 1019.7 L649.5 982.1 L648.5 988.0 L647.5 1014.3 L646.5 984.9 L645.5 1016.4 L644.5 987.8 L643.5 988.2 L642.5 1019.0 L641.5 982.2 L640.5 988.0 L639.5 987.4 L638.5 1026.9 L637.5 1030.1 L636.5 1015.4 L635.5 988.8 L634.5 1028.3 L633.5 1037.2 L632.5 1029.0 L631.5 990.5 L630.5 1021.1 L629.5 990.1 L628.5 1031.0 L627.5 986.8 L626.5 991.3 L625.5 986.8 L624.5 1034.0 L623.5 989.3 L622.5 990.6 L621.5 987.2 L620.5 989.4 L619.5 982.9 L618.5 985.7 L617.5 984.4 L616.5 1025.4 L615.5 983.8 L614.5 986.0 L613.5 1017.0 L612.5 1019.3 L611.5 984.8 L610.5 983.5 L609.5 1034.7 L608.5 980.9 L607.5 977.0 L606.5 1025.0 L605.5 980.4 L604.5 1019.8 L603.5 1032.7 L602.5 983.3 L601.5 1039.2 L600.5 1018.4 L599.5 1031.8 L598.5 1020.3 L597.5 990.8 L596.5 992.7 L595.5 1031.8 L594.5 1017.8 L593.5 1024.6 L592.5 991.1 L591.5 1022.9 L590.5 990.2 L589.5 985.4 L588.5 990.8 L587.5 1035.3 L586.5 985.0 L585.5 1029.7 L584.5 1017.8 L583.5 1027.9 L582.5 987.3 L581.5 1022.0 L580.5 1021.8 L579.5 1026.4 L578.5 989.7 L577.5 1024.7 L576.5 1028.6 L575.5 989.9 L574.5 987.8 L573.5 1029.5 L572.5 983.1 L571.5 989.3 L570.5 1015.4 L569.5 1020.7 L568.5 990.2 L567.5 1023.3 L566.5 1028.1 L565.5 988.0 L564.5 1024.3 L563.5 1022.7 L562.5 1037.1 L561.5 1019.4 L560.5 1041.9 L559.5 1039.1 L558.5 1016.8 L557.5 1015.4 L556.5 1028.6 L555.5 981.1 L554.5 982.8 L553.5 1024.5 L552.5 988.5 L551.5 1028.5 L550.5 989.0 L549.5 1025.5 L548.5 1024.4 L547.5 1014.7 L546.5 1015.2 L545.5 1015.2 L544.5 1029.4 L543.5 1025.4 L542.5 983.9 L541.5 981.2 L540.5 1034.5 L539.5 1037.3 L538.5 1014.7 L537.5 1027.2 L536.5 983.0 L535.5 977.4 L534.5 1025.0 L533.5 1019.7 L532.5 977.3 L531.5 1022.4 L530.5 1013.9 L529.5 972.4 L528.5 973.5 L527.5 969.2 L526.5 970.7 L525.5 1009.5 L524.5 1007.7 L523.5 968.2 L522.5 1030.8 L521.5 1013.7 L520.5 969.3 L519.5 1009.1 L518.5 1035.9 L517.5 1012.5 L516.5 1014.7 L515.5 1036.5 L514.5 972.5 L513.5 1019.5 L512.5 1009.0 L511.5 975.4 L510.5 1015.5 L509.5 974.2 L508.5 967.7 L507.5 1016.7 L506.5 1021.3 L505.5 1029.2 L504.5 963.5 L503.5 1016.1 L502.5 961.5 L501.5 961.1 L500.5 962.4 L499.5 967.6 L498.5 964.9 L497.5 963.8 L496.5 962.1 L495.5 1004.0 L494.5 958.9 L493.5 1032.8 L492.5 1022.0 L491.5 956.0 L490.5 1009.3 L489.5 1020.9 L488.5 1032.9 L487.5 1009.4 L486.5 1013.4 L485.5 1002.3 L484.5 960.5 L483.5 1008.0 L482.5 965.4 L481.5 1007.2 L480.5 956.2 L479.5 966.7 L478.5 965.2 L477.5 959.7 L476.5 958.7 L475.5 969.6 L474.5 1005.2 L473.5 1028.8 L472.5 1020.9 L471.5 960.1 L470.5 1019.4 L469.5 1038.0 L468.5 961.8 L467.5 1015.6 L466.5 964.1 L465.5 1019.5 L464.5 969.6 L463.5 1015.0 L462.5 1020.7 L461.5 974.4 L460.5 972.3 L459.5 1008.2 L458.5 973.8 L457.5 970.2 L456.5 1024.1 L455.5 1038.1 L454.5 1009.9 L453.5 970.4 L452.5 1029.4 L451.5 1029.6 L450.5 969.2 L449.5 968.5 L448.5 1010.8 L447.5 970.7 L446.5 1040.3 L445.5 1023.6 L444.5 1013.8 L443.5 969.3 L442.5 1022.0 L441.5 1010.8 L440.5 973.1 L439.5 1012.2 L438.5 976.8 L437.5 1021.9 L436.5 1022.8 L435.5 980.3 L434.5 973.2 L433.5 1014.6 L432.5 976.1 L431.5 1018.8 L430.5 983.7 L429.5 981.6 L428.5 1030.5 L427.5 985.0 L426.5 981.9 L425.5 1014.8 L424.5 1030.2 L423.5 982.0 L422.5 982.4 L421.5 991.1 L420.5 987.9 L419.5 984.4 L418.5 1028.1 L417.5 1017.0 L416.5 1015.1 L415.5 978.4 L414.5 1016.7 L413.5 1037.6 L412.5 1025.6 L411.5 1013.9 L410.5 1031.2 L409.5 970.5 L408.5 1011.2 L407.5 969.1 L406.5 1012.1 L405.5 977.0 L404.5 977.0 L403.5 1027.0 L402.5 976.2 L401.5 1028.3 L400.5 1032.0 L399.5 1027.5 L398.5 1034.5 L397.5 1018.4 L396.5 1011.8 L395.5 984.2 L394.5 1015.2 L393.5 1026.1 L392.5 979.0 L391.5 1016.1 L390.5 980.0 L389.5 988.3 L388.5 1025.1 L387.5 989.0 L386.5 1031.2 L385.5 990.4 L384.5 989.4 L383.5 992.3 L382.5 1035.8 L381.5 1028.1 L380.5 991.4 L379.5 988.6 L378.5 989.8 L377.5 991.5 L376.5 1026.3 L375.5 1029.8 L374.5 993.5 L373.5 993.1 L372.5 1031.5 L371.5 1019.8 L370.5 1019.9 L369.5 998.3 L368.5 1033.4 L367.5 998.2 L366.5 1023.3 L365.5 1038.6 L364.5 999.7 L363.5 996.2 L362.5 997.5 L361.5 998.4 L360.5 1037.5 L359.5 1037.8 L358.5 1001.7 L357.5 1033.2 L356.5 1025.0 L355.5 1024.0 L354.5 1004.9 L353.5 1025.3 L352.5 1001.4 L351.5 1003.3 L350.5 1003.1 L349.5 1002.1 L348.5 1004.8 L347.5 1023.7 L346.5 1003.1 L345.5 1026.2 L344.5 1039.7 L343.5 1005.6 L342.5 1032.6 L341.5 1002.8 L340.5 1037.7 L339.5 1002.2 L338.5 1005.6 L337.5 1004.9 L336.5 1005.5 L335.5 1002.7 L334.5 1024.8 L333.5 1032.2 L332.5 1004.9 L331.5 1004.8 L330.5 1039.4 L329.5 1026.0 L328.5 1007.0 L327.5 1029.5 L326.5 1031.0 L325.5 1004.5 L324.5 1005.6 L323.5 1031.0 L322.5 1009.4 L321.5 1006.6 L320.5 1034.7 L319.5 1033.5 L318.5 1006.6 L317.5 1005.9 L316.5 1038.7 L315.5 1031.5 L314.5 1028.7 L313.5 1032.7 L312.5 1041.2 L311.5 1009.9 L310.5 1009.4 L309.5 1012.3 L308.5 1042.5 L307.5 1028.2 L306.5 1041.6 L305.5 1030.6 L304.5 1014.0 L303.5 1011.5 L302.5 1037.5 L301.5 1012.3 L300.5 1030.1 L299.5 1031.5 L298.5 1015.3 L297.5 1031.4 L296.5 1037.1 L295.5 1039.9 L294.5 1038.5 L293.5 1033.2 L292.5 1031.4 L291.5 1041.5 L290.5 1032.0 L289.5 1019.0 L288.5 1016.1 L287.5 1038.3 L286.5 1038.8 L285.5 1018.6 L284.5 1017.0 L283.5 1040.8 L282.5 1032.7 L281.5 1034.1 L280.5 1018.2 L279.5 1033.8 L278.5 1018.3 L277.5 1040.4 L276.5 1021.1 L275.5 1019.8 L274.5 1018.9 L273.5 1035.5 L272.5 1019.6 L271.5 1033.0 L270.5 1019.7 L269.5 1019.7 L268.5 1034.4 L267.5 1021.4 L266.5 1020.1 L265.5 1022.0 L264.5 1035.6 L263.5 1040.8 L262.5 1021.9 L261.5 1042.6 L260.5 1033.9 L259.5 1040.3 L258.5 1021.7 L257.5 1038.4 L256.5 1034.4 L255.5 1022.5 L254.5 1039.0 L253.5 1021.6 L252.5 1021.9 L251.5 1044.1 L250.5 1021.3 L249.5 1024.2 L248.5 1043.6 L247.5 1036.6 L246.5 1040.3 L245.5 1036.1 L244.5 1024.3 L243.5 1025.1Z" fill="#efd9c1" fill-opacity="0.5"/>
<path d="M243.5 1019.0 L244.5 1018.6 L245.5 1019.3 L246.5 1019.3 L247.5 1021.1 L248.5 1021.1 L249.5 1021.0 L250.5 1018.7 L251.5 1020.9 L252.5 1017.8 L253.5 1018.0 L254.5 1017.6 L255.5 1020.1 L256.5 1018.2 L257.5 1017.8 L258.5 1019.9 L259.5 1017.9 L260.5 1019.9 L261.5 1017.4 L262.5 1017.4 L263.5 1017.5 L264.5 1019.4 L265.5 1017.0 L266.5 1019.2 L267.5 1019.2 L268.5 1016.8 L269.5 1016.9 L270.5 1016.3 L271.5 1016.4 L272.5 1016.4 L273.5 1016.5 L274.5 1016.3 L275.5 1015.6 L276.5 1016.1 L277.5 1015.8 L278.5 1015.2 L279.5 1015.8 L280.5 1015.5 L281.5 1015.4 L282.5 1016.9 L283.5 1016.5 L284.5 1014.3 L285.5 1014.1 L286.5 1015.7 L287.5 1013.2 L288.5 1012.8 L289.5 1011.8 L290.5 1011.7 L291.5 1011.9 L292.5 1011.6 L293.5 1011.2 L294.5 1010.7 L295.5 1012.7 L296.5 1010.0 L297.5 1009.9 L298.5 1009.0 L299.5 1009.1 L300.5 1010.8 L301.5 1008.2 L302.5 1010.3 L303.5 1007.7 L304.5 1006.9 L305.5 1006.6 L306.5 1008.8 L307.5 1008.3 L308.5 1005.7 L309.5 1007.4 L310.5 1005.0 L311.5 1005.0 L312.5 1003.9 L313.5 1003.4 L314.5 1003.5 L315.5 1002.9 L316.5 1005.1 L317.5 1002.4 L318.5 1001.7 L319.5 1001.6 L320.5 1004.2 L321.5 1001.6 L322.5 1001.2 L323.5 1003.5 L324.5 1003.2 L325.5 1000.9 L326.5 1000.4 L327.5 1002.6 L328.5 1002.6 L329.5 999.5 L330.5 1001.9 L331.5 999.6 L332.5 1001.5 L333.5 999.0 L334.5 998.8 L335.5 1001.0 L336.5 998.4 L337.5 1000.8 L338.5 998.6 L339.5 997.9 L340.5 1000.4 L341.5 998.1 L342.5 1000.5 L343.5 998.0 L344.5 1000.2 L345.5 1000.0 L346.5 997.5 L347.5 997.7 L348.5 999.9 L349.5 996.9 L350.5 999.5 L351.5 999.2 L352.5 999.4 L353.5 997.1 L354.5 996.9 L355.5 996.3 L356.5 996.6 L357.5 996.0 L358.5 994.7 L359.5 995.1 L360.5 994.0 L361.5 993.9 L362.5 992.7 L363.5 992.5 L364.5 992.2 L365.5 994.3 L366.5 993.4 L367.5 990.2 L368.5 990.4 L369.5 989.4 L370.5 988.8 L371.5 991.2 L372.5 990.7 L373.5 987.6 L374.5 986.9 L375.5 989.1 L376.5 988.4 L377.5 987.4 L378.5 984.4 L379.5 983.9 L380.5 983.1 L381.5 984.8 L382.5 981.8 L383.5 980.7 L384.5 979.8 L385.5 979.4 L386.5 979.1 L387.5 978.3 L388.5 977.8 L389.5 976.9 L390.5 978.4 L391.5 977.9 L392.5 974.5 L393.5 974.2 L394.5 973.6 L395.5 974.9 L396.5 974.3 L397.5 973.9 L398.5 970.9 L399.5 972.4 L400.5 969.6 L401.5 969.3 L402.5 968.6 L403.5 968.0 L404.5 966.5 L405.5 968.7 L406.5 968.0 L407.5 967.5 L408.5 967.3 L409.5 968.7 L410.5 970.0 L411.5 969.3 L412.5 973.0 L413.5 972.5 L414.5 976.2 L415.5 974.7 L416.5 979.2 L417.5 977.9 L418.5 982.0 L419.5 981.5 L420.5 980.7 L421.5 982.6 L422.5 981.9 L423.5 981.2 L424.5 978.2 L425.5 980.1 L426.5 977.1 L427.5 978.6 L428.5 975.3 L429.5 977.3 L430.5 976.5 L431.5 975.8 L432.5 971.9 L433.5 970.5 L434.5 969.3 L435.5 967.3 L436.5 966.1 L437.5 965.0 L438.5 964.2 L439.5 962.9 L440.5 961.3 L441.5 962.2 L442.5 959.3 L443.5 959.8 L444.5 960.3 L445.5 963.6 L446.5 962.0 L447.5 964.9 L448.5 963.3 L449.5 964.0 L450.5 964.2 L451.5 964.6 L452.5 968.2 L453.5 968.7 L454.5 966.0 L455.5 965.7 L456.5 967.2 L457.5 964.6 L458.5 966.6 L459.5 966.1 L460.5 962.8 L461.5 964.9 L462.5 961.6 L463.5 963.8 L464.5 960.8 L465.5 960.7 L466.5 962.2 L467.5 959.7 L468.5 958.9 L469.5 957.8 L470.5 957.9 L471.5 959.6 L472.5 958.9 L473.5 956.1 L474.5 957.6 L475.5 954.9 L476.5 956.7 L477.5 952.9 L478.5 953.2 L479.5 954.8 L480.5 951.2 L481.5 953.6 L482.5 953.0 L483.5 952.4 L484.5 949.3 L485.5 949.0 L486.5 947.8 L487.5 948.0 L488.5 951.1 L489.5 948.9 L490.5 952.7 L491.5 953.2 L492.5 951.9 L493.5 952.1 L494.5 955.9 L495.5 954.4 L496.5 955.0 L497.5 958.1 L498.5 958.9 L499.5 956.2 L500.5 959.8 L501.5 957.7 L502.5 960.9 L503.5 961.6 L504.5 959.5 L505.5 960.1 L506.5 960.9 L507.5 964.0 L508.5 962.2 L509.5 965.3 L510.5 965.7 L511.5 966.6 L512.5 964.6 L513.5 964.8 L514.5 968.2 L515.5 965.8 L516.5 966.2 L517.5 965.0 L518.5 967.5 L519.5 967.0 L520.5 967.0 L521.5 964.2 L522.5 963.4 L523.5 962.6 L524.5 963.1 L525.5 963.2 L526.5 966.3 L527.5 964.2 L528.5 965.0 L529.5 966.0 L530.5 966.4 L531.5 967.0 L532.5 970.4 L533.5 971.0 L534.5 969.4 L535.5 970.3 L536.5 973.4 L537.5 973.7 L538.5 974.4 L539.5 972.3 L540.5 972.8 L541.5 974.3 L542.5 975.0 L543.5 978.0 L544.5 978.6 L545.5 976.3 L546.5 978.6 L547.5 978.9 L548.5 979.2 L549.5 979.4 L550.5 976.8 L551.5 976.6 L552.5 977.1 L553.5 977.6 L554.5 977.7 L555.5 978.0 L556.5 978.3 L557.5 980.9 L558.5 981.1 L559.5 978.6 L560.5 979.0 L561.5 979.3 L562.5 979.6 L563.5 979.2 L564.5 979.5 L565.5 979.1 L566.5 981.5 L567.5 978.8 L568.5 981.2 L569.5 978.3 L570.5 978.2 L571.5 980.9 L572.5 978.7 L573.5 977.9 L574.5 978.0 L575.5 980.6 L576.5 980.7 L577.5 978.1 L578.5 977.2 L579.5 980.5 L580.5 980.4 L581.5 980.0 L582.5 980.6 L583.5 978.1 L584.5 981.7 L585.5 979.1 L586.5 982.4 L587.5 983.3 L588.5 980.6 L589.5 981.2 L590.5 984.5 L591.5 985.2 L592.5 982.6 L593.5 983.7 L594.5 986.9 L595.5 987.1 L596.5 987.5 L597.5 984.1 L598.5 982.6 L599.5 984.2 L600.5 980.3 L601.5 982.2 L602.5 981.3 L603.5 980.6 L604.5 976.8 L605.5 978.6 L606.5 977.5 L607.5 976.4 L608.5 973.6 L609.5 976.8 L610.5 974.2 L611.5 975.6 L612.5 975.0 L613.5 976.4 L614.5 976.8 L615.5 977.0 L616.5 976.6 L617.5 978.0 L618.5 977.5 L619.5 981.2 L620.5 981.7 L621.5 981.6 L622.5 982.5 L623.5 982.6 L624.5 982.9 L625.5 980.7 L626.5 983.9 L627.5 980.9 L628.5 980.9 L629.5 983.1 L630.5 980.6 L631.5 980.1 L632.5 979.8 L633.5 979.9 L634.5 978.9 L635.5 981.9 L636.5 981.6 L637.5 979.0 L638.5 981.0 L639.5 978.0 L640.5 978.0 L641.5 980.4 L642.5 977.9 L643.5 980.1 L644.5 980.2 L645.5 979.8 L646.5 977.2 L647.5 979.7 L648.5 976.7 L649.5 977.3 L650.5 976.8 L651.5 979.6 L652.5 979.3 L653.5 977.1 L654.5 976.0 L655.5 976.6 L656.5 979.3 L657.5 976.8 L658.5 979.3 L659.5 976.6 L660.5 979.2 L661.5 975.7 L662.5 975.8 L663.5 978.9 L664.5 978.6 L665.5 975.8 L666.5 976.3 L667.5 976.2 L668.5 978.7 L669.5 975.9 L670.5 975.9 L671.5 976.1 L672.5 979.5 L673.5 979.5 L674.5 979.7 L675.5 980.0 L676.5 977.1 L677.5 978.1 L678.5 977.2 L679.5 978.0 L680.5 978.3 L681.5 978.0 L682.5 981.8 L683.5 982.1 L684.5 983.1 L685.5 980.3 L686.5 983.9 L687.5 984.6 L688.5 982.8 L689.5 986.2 L690.5 983.7 L691.5 984.8 L692.5 985.2 L693.5 985.9 L694.5 985.7 L695.5 986.6 L696.5 986.6 L697.5 990.4 L698.5 987.5 L699.5 991.6 L700.5 988.8 L701.5 992.5 L702.5 990.4 L703.5 991.0 L704.5 994.4 L705.5 992.6 L706.5 993.5 L707.5 996.6 L708.5 997.2 L709.5 998.1 L710.5 998.8 L711.5 999.1 L712.5 997.0 L713.5 1000.6 L714.5 996.8 L715.5 997.5 L716.5 995.6 L717.5 993.7 L718.5 989.1 L719.5 990.3 L720.5 985.6 L721.5 984.3 L722.5 986.1 L723.5 985.5 L724.5 981.8 L725.5 984.2 L726.5 980.7 L727.5 979.3 L728.5 981.6 L729.5 978.1 L730.5 980.4 L731.5 977.2 L732.5 976.9 L733.5 976.1 L734.5 978.8 L735.5 975.5 L736.5 974.8 L737.5 977.6 L738.5 974.3 L739.5 977.9 L740.5 978.1 L741.5 978.9 L742.5 976.5 L743.5 977.2 L744.5 977.1 L745.5 977.9 L746.5 978.2 L747.5 982.0 L748.5 979.4 L749.5 980.5 L750.5 980.4 L751.5 981.3 L752.5 983.6 L753.5 981.4 L754.5 981.3 L755.5 981.8 L756.5 984.6 L757.5 984.7 L758.5 982.4 L759.5 982.0 L760.5 981.9 L761.5 985.1 L762.5 982.9 L763.5 985.9 L764.5 982.7 L765.5 983.3 L766.5 982.6 L767.5 982.9 L768.5 982.5 L769.5 982.2 L770.5 981.9 L771.5 983.8 L772.5 980.3 L773.5 983.6 L774.5 982.9 L775.5 980.3 L776.5 982.6 L777.5 979.4 L778.5 979.0 L779.5 978.3 L780.5 981.0 L781.5 978.0 L782.5 980.2 L783.5 979.8 L784.5 976.9 L785.5 979.2 L786.5 978.6 L787.5 975.6 L788.5 975.0 L789.5 977.9 L790.5 974.5 L791.5 974.8 L792.5 978.1 L793.5 975.4 L794.5 975.3 L795.5 978.9 L796.5 976.6 L797.5 975.9 L798.5 979.7 L799.5 977.6 L800.5 980.7 L801.5 980.7 L802.5 980.9 L803.5 975.7 L804.5 968.8 L805.5 961.7 L806.5 952.0 L807.5 955.8 L808.5 959.4 L809.5 965.7 L810.5 963.6 L811.5 965.8 L812.5 962.1 L813.5 961.0 L814.5 962.2 L815.5 958.5 L816.5 956.3 L817.5 958.8 L818.5 957.6 L819.5 952.7 L820.5 954.9 L821.5 951.3 L822.5 949.4 L823.5 952.1 L824.5 948.5 L825.5 946.8 L826.5 947.1 L827.5 948.7 L828.5 945.4 L829.5 947.6 L830.5 943.5 L831.5 942.4 L832.5 941.9 L833.5 941.5 L834.5 944.1 L835.5 940.9 L836.5 940.0 L837.5 938.7 L838.5 938.5 L839.5 938.3 L840.5 937.2 L841.5 940.1 L842.5 936.0 L843.5 938.9 L844.5 935.6 L845.5 934.5 L846.5 937.0 L847.5 936.5 L848.5 935.7 L849.5 935.3 L850.5 931.7 L851.5 930.6 L852.5 933.6 L853.5 932.8 L854.5 932.3 L855.5 931.3 L856.5 926.6 L857.5 930.0 L858.5 925.6 L859.5 924.9 L860.5 924.0 L861.5 923.7 L862.5 923.9 L863.5 923.4 L864.5 922.9 L865.5 927.8 L866.5 928.1 L867.5 920.2 L868.5 921.0 L869.5 921.1 L870.5 921.0 L871.5 919.1 L872.5 918.7 L873.5 919.2 L874.5 917.3 L875.5 917.5 L876.5 916.5 L877.5 918.0 L878.5 917.7 L879.5 925.0 L880.5 916.6 L881.5 915.5 L882.5 918.3 L883.5 915.8 L884.5 916.5 L885.5 918.0 L886.5 918.7 L887.5 921.0 L888.5 918.7 L889.5 922.6 L890.5 921.3 L891.5 922.0 L892.5 918.9 L893.5 918.9 L894.5 917.3 L895.5 915.9 L896.5 913.2 L897.5 907.0 L898.5 912.5 L899.5 911.6 L900.5 894.1 L901.5 896.3 L902.5 893.4 L903.5 895.6 L904.5 895.5 L905.5 894.1 L906.5 893.7 L907.5 893.0 L908.5 891.1 L909.5 888.4 L910.5 903.8 L911.5 887.5 L912.5 888.1 L913.5 885.2 L914.5 885.6 L915.5 884.5 L916.5 899.5 L917.5 887.5 L918.5 881.4 L919.5 883.9 L920.5 880.1 L921.5 894.3 L922.5 891.7 L923.5 878.9 L924.5 880.2 L925.5 895.1 L926.5 880.8 L927.5 882.2 L928.5 882.6 L929.5 883.9 L930.5 884.4 L931.5 878.8 L932.5 882.5 L933.5 882.6 L934.5 881.7 L935.5 881.4 L936.5 875.5 L937.5 879.7 L938.5 878.4 L939.5 877.6 L940.5 873.9 L941.5 872.2 L942.5 888.6 L943.5 872.0 L944.5 873.2 L945.5 876.1 L946.5 873.9 L947.5 888.3 L948.5 873.7 L949.5 869.8 L950.5 875.5 L951.5 875.9 L952.5 876.5 L953.5 874.5 L954.5 892.0 L955.5 877.2 L956.5 878.2 L957.5 879.6 L958.5 881.1 L959.5 882.7 L960.5 884.1 L961.5 883.7 L962.5 886.8 L963.5 883.9 L964.5 899.7 L965.5 885.9 L966.5 901.1 L967.5 886.6 L968.5 884.8 L969.5 887.0 L970.5 886.1 L971.5 889.6 L972.5 891.1 L973.5 904.7 L974.5 888.0 L975.5 892.1 L976.5 891.8 L977.5 891.6 L978.5 888.5 L979.5 890.4 L980.5 908.5 L981.5 894.7 L982.5 895.4 L983.5 895.6 L984.5 897.3 L985.5 894.2 L986.5 895.1 L987.5 899.2 L988.5 895.3 L989.5 902.0 L990.5 902.7 L991.5 903.4 L992.5 902.3 L993.5 902.2 L994.5 898.3 L995.5 899.8 L996.5 899.3 L997.5 896.8 L998.5 901.1 L999.5 895.7 L1000.5 899.2 L1001.5 897.6 L1002.5 895.8 L1003.5 896.1 L1004.5 899.7 L1005.5 896.9 L1006.5 900.7 L1007.5 898.5 L1008.5 896.9 L1009.5 901.7 L1010.5 902.2 L1011.5 900.7 L1012.5 901.9 L1013.5 901.4 L1014.5 902.6 L1015.5 900.4 L1016.5 914.1 L1017.5 915.3 L1018.5 899.3 L1019.5 897.5 L1020.5 898.2 L1021.5 895.1 L1022.5 897.2 L1023.5 896.7 L1024.5 894.8 L1025.5 890.9 L1026.5 891.4 L1027.5 908.9 L1028.5 889.1 L1029.5 888.3 L1030.5 890.2 L1031.5 883.9 L1032.5 888.9 L1033.5 887.7 L1034.5 883.1 L1035.5 879.9 L1036.5 880.7 L1037.5 875.9 L1038.5 871.7 L1039.5 873.1 L1040.5 868.8 L1041.5 864.2 L1042.5 858.6 L1043.5 850.9 L1044.5 850.4 L1045.5 847.9 L1046.5 847.3 L1047.5 859.4 L1048.5 842.5 L1049.5 842.3 L1050.5 836.4 L1051.5 838.8 L1052.5 834.5 L1053.5 829.1 L1054.5 827.3 L1055.5 848.8 L1056.5 830.8 L1057.5 824.0 L1058.5 828.9 L1059.5 828.6 L1060.5 828.2 L1061.5 615.7 L1062.5 485.5 L1063.5 486.3 L1064.5 537.3 L1065.5 437.9 L1066.5 443.2 L1067.5 412.3 L1068.5 501.2 L1069.5 456.2 L1070.5 435.0 L1071.5 633.6 L1072.5 452.4 L1073.5 478.2 L1074.5 439.6 L1075.5 652.1 L1076.5 480.4 L1077.5 474.7 L1078.5 640.6 L1079.5 452.7 L1080.5 456.8 L1081.5 416.1 L1082.5 434.6 L1083.5 629.1 L1084.5 619.8 L1085.5 627.9 L1086.5 441.6 L1087.5 449.7 L1088.5 468.8 L1089.5 466.4 L1090.5 560.4 L1091.5 568.0 L1092.5 537.5 L1093.5 506.7 L1094.5 462.8 L1095.5 310.5 L1096.5 161.5 L1097.5 66.0 L1098.5 64.9 L1099.5 66.7 L1100.5 61.1 L1101.5 135.1 L1102.5 254.1 L1103.5 324.0 L1104.5 350.4 L1105.5 371.6 L1106.5 396.7 L1107.5 411.1 L1108.5 426.7 L1109.5 438.3 L1110.5 470.1 L1111.5 480.3 L1112.5 465.4 L1113.5 477.2 L1114.5 481.7 L1115.5 498.1 L1116.5 507.8 L1117.5 517.7 L1118.5 536.3 L1119.5 547.0 L1120.5 561.0 L1121.5 572.3 L1122.5 586.4 L1123.5 598.0 L1124.5 612.2 L1125.5 617.8 L1126.5 617.0 L1127.5 607.6 L1128.5 609.5 L1129.5 601.7 L1130.5 594.6 L1131.5 546.4 L1132.5 511.1 L1133.5 461.4 L1134.5 426.2 L1135.5 387.7 L1136.5 393.2 L1137.5 407.5 L1138.5 417.7 L1139.5 428.0 L1140.5 446.2 L1141.5 454.5 L1142.5 472.1 L1143.5 483.5 L1144.5 489.5 L1145.5 497.5 L1146.5 511.1 L1147.5 518.4 L1148.5 529.1 L1149.5 533.2 L1150.5 539.8 L1151.5 537.7 L1152.5 543.8 L1153.5 553.4 L1154.5 554.8 L1155.5 578.7 L1156.5 586.3 L1157.5 572.8 L1158.5 573.3 L1159.5 578.8 L1160.5 588.6 L1161.5 590.4 L1162.5 595.9 L1163.5 618.8 L1164.5 603.2 L1165.5 612.2 L1166.5 618.5 L1167.5 639.9 L1168.5 626.3 L1169.5 649.2 L1170.5 632.3 L1171.5 644.3 L1172.5 647.2 L1173.5 651.3 L1174.5 655.3 L1175.5 654.9 L1176.5 659.7 L1177.5 657.6 L1178.5 663.9 L1179.5 669.0 L1180.5 666.9 L1181.5 687.5 L1182.5 671.5 L1183.5 678.9 L1184.5 679.3 L1185.5 698.5 L1186.5 687.0 L1187.5 687.8 L1188.5 688.7 L1189.5 696.0 L1190.5 694.7 L1191.5 697.8 L1192.5 699.7 L1193.5 703.8 L1194.5 702.6 L1195.5 703.2 L1196.5 702.2 L1197.5 704.5 L1198.5 704.2 L1199.5 703.9 L1200.5 702.0 L1201.5 718.6 L1202.5 701.0 L1203.5 717.8 L1204.5 697.4 L1205.5 715.7 L1206.5 698.1 L1207.5 713.4 L1208.5 694.7 L1209.5 691.0 L1210.5 707.9 L1211.5 694.9 L1212.5 692.8 L1213.5 706.4 L1214.5 687.3 L1215.5 689.7 L1216.5 684.2 L1217.5 684.5 L1218.5 691.3 L1219.5 690.1 L1220.5 689.9 L1221.5 693.5 L1222.5 691.1 L1223.5 689.7 L1224.5 696.7 L1225.5 696.4 L1226.5 698.4 L1227.5 695.0 L1228.5 694.7 L1229.5 698.6 L1230.5 701.8 L1231.5 700.9 L1232.5 701.0 L1233.5 698.7 L1234.5 705.4 L1235.5 702.4 L1236.5 702.2 L1237.5 706.0 L1238.5 703.8 L1239.5 708.1 L1240.5 706.4 L1241.5 710.9 L1242.5 713.3 L1243.5 712.1 L1244.5 714.4 L1245.5 714.8 L1246.5 714.7 L1247.5 715.8 L1248.5 718.0 L1249.5 718.5 L1250.5 724.4 L1251.5 723.3 L1252.5 724.5 L1253.5 729.6 L1254.5 727.6 L1255.5 732.9 L1256.5 729.7 L1257.5 737.0 L1258.5 739.2 L1259.5 743.1 L1260.5 745.8 L1261.5 746.3 L1262.5 749.0 L1263.5 757.1 L1264.5 759.0 L1265.5 758.8 L1266.5 758.5 L1267.5 757.6 L1268.5 759.3 L1269.5 762.9 L1270.5 765.2 L1271.5 776.5 L1272.5 766.7 L1273.5 767.1 L1274.5 768.2 L1275.5 766.8 L1276.5 770.5 L1277.5 784.5 L1278.5 783.8 L1279.5 773.1 L1280.5 772.4 L1281.5 769.3 L1282.5 772.6 L1283.5 785.8 L1284.5 771.2 L1285.5 784.1 L1286.5 770.6 L1287.5 776.4 L1288.5 777.2 L1289.5 776.6 L1290.5 779.1 L1291.5 779.1 L1292.5 780.4 L1293.5 783.7 L1294.5 785.7 L1295.5 799.9 L1296.5 791.1 L1297.5 792.0 L1298.5 804.3 L1299.5 793.2 L1300.5 793.5 L1301.5 795.7 L1302.5 799.0 L1303.5 811.2 L1304.5 797.7 L1305.5 802.5 L1306.5 800.2 L1307.5 802.5 L1308.5 805.5 L1309.5 804.5 L1310.5 806.4 L1311.5 808.9 L1312.5 815.1 L1313.5 813.0 L1314.5 820.0 L1315.5 821.7 L1316.5 820.8 L1317.5 826.2 L1318.5 839.4 L1319.5 843.2 L1320.5 833.2 L1321.5 834.5 L1322.5 836.6 L1323.5 841.3 L1324.5 855.6 L1325.5 849.4 L1326.5 855.5 L1327.5 858.6 L1328.5 865.0 L1329.5 870.6 L1330.5 874.1 L1331.5 880.5 L1332.5 894.3 L1333.5 883.5 L1334.5 889.6 L1335.5 893.7 L1336.5 894.0 L1337.5 901.8 L1338.5 905.0 L1339.5 903.3 L1340.5 904.3 L1341.5 902.8 L1342.5 904.7 L1343.5 905.0 L1344.5 904.4 L1345.5 905.2 L1346.5 913.4 L1347.5 905.2 L1348.5 905.2 L1349.5 903.3 L1350.5 913.8 L1351.5 902.5 L1352.5 904.8 L1353.5 905.1 L1354.5 903.8 L1355.5 907.0 L1356.5 907.2 L1357.5 916.5 L1358.5 917.7 L1359.5 908.4 L1360.5 906.1 L1361.5 906.7 L1362.5 910.2 L1363.5 910.2 L1364.5 921.2 L1365.5 910.8 L1366.5 911.2 L1367.5 923.9 L1368.5 912.8 L1369.5 918.1 L1370.5 918.1 L1371.5 919.8 L1372.5 932.7 L1373.5 924.9 L1374.5 924.7 L1375.5 928.3 L1376.5 927.4 L1377.5 929.3 L1378.5 942.6 L1379.5 932.3 L1380.5 936.3 L1381.5 949.5 L1382.5 940.9 L1383.5 941.0 L1384.5 945.0 L1385.5 948.1 L1386.5 950.0 L1387.5 948.7 L1388.5 954.0 L1389.5 955.8 L1390.5 958.1 L1391.5 960.0 L1392.5 962.1 L1393.5 962.9 L1394.5 973.4 L1395.5 967.6 L1396.5 965.7 L1397.5 967.2 L1398.5 971.6 L1399.5 972.2 L1400.5 972.2 L1401.5 975.9 L1402.5 983.8 L1403.5 974.0 L1404.5 983.1 L1405.5 971.3 L1406.5 973.4 L1407.5 970.0 L1408.5 969.4 L1409.5 971.1 L1410.5 971.4 L1411.5 970.3 L1412.5 969.9 L1413.5 969.9 L1414.5 967.0 L1415.5 967.6 L1416.5 965.6 L1417.5 963.4 L1418.5 962.5 L1419.5 959.2 L1420.5 958.6 L1421.5 956.9 L1422.5 956.1 L1423.5 952.0 L1424.5 953.3 L1425.5 950.8 L1426.5 949.6 L1427.5 946.8 L1428.5 947.6 L1429.5 946.5 L1430.5 944.6 L1431.5 945.6 L1432.5 943.2 L1433.5 944.6 L1434.5 942.3 L1435.5 940.6 L1436.5 939.7 L1437.5 941.6 L1438.5 940.9 L1439.5 948.0 L1440.5 939.3 L1441.5 939.7 L1442.5 938.8 L1443.5 939.7 L1444.5 939.9 L1445.5 940.1 L1446.5 937.7 L1447.5 939.2 L1448.5 940.5 L1449.5 941.9 L1450.5 943.9 L1451.5 945.2 L1452.5 944.6 L1453.5 947.7 L1454.5 947.7 L1455.5 949.1 L1456.5 950.4 L1457.5 953.7 L1458.5 955.5 L1459.5 955.5 L1460.5 955.5 L1461.5 959.3 L1462.5 959.8 L1463.5 962.7 L1464.5 960.3 L1465.5 962.5 L1466.5 963.6 L1467.5 970.8 L1468.5 963.8 L1469.5 963.6 L1470.5 971.2 L1471.5 962.5 L1472.5 963.3 L1473.5 964.6 L1474.5 963.7 L1475.5 963.2 L1476.5 965.3 L1477.5 967.7 L1478.5 968.9 L1479.5 970.8 L1480.5 983.5 L1481.5 975.9 L1482.5 987.8 L1483.5 989.8 L1484.5 982.9 L1485.5 987.5 L1486.5 987.0 L1487.5 989.1 L1488.5 988.2 L1489.5 990.6 L1490.5 990.0 L1491.5 992.9 L1492.5 993.0 L1493.5 1001.3 L1494.5 995.7 L1495.5 994.6 L1496.5 995.6 L1497.5 997.8 L1498.5 997.4 L1499.5 999.6 L1500.5 999.8 L1501.5 1000.1 L1502.5 1001.6 L1503.5 1008.8 L1504.5 1001.9 L1505.5 1002.6 L1506.5 1002.1 L1507.5 1004.8 L1508.5 1005.1 L1509.5 1005.1 L1510.5 1006.0 L1511.5 1005.3 L1512.5 1006.8 L1513.5 1008.3 L1514.5 1007.5 L1515.5 1009.5 L1516.5 1010.4 L1517.5 1008.2 L1518.5 1009.1 L1519.5 1007.9 L1520.5 1005.5 L1521.5 1003.9 L1522.5 1003.3 L1523.5 1004.0 L1524.5 1002.5 L1525.5 999.7 L1526.5 1001.9 L1527.5 1001.0 L1528.5 1002.0 L1529.5 1008.9 L1530.5 1002.4 L1531.5 999.7 L1532.5 1002.0 L1533.5 1001.8 L1534.5 1001.3 L1535.5 1002.3 L1536.5 1001.0 L1537.5 1002.3 L1538.5 1002.2 L1539.5 1001.5 L1540.5 1002.5 L1541.5 1002.1 L1542.5 1001.5 L1543.5 1000.4 L1544.5 1002.1 L1545.5 1001.0 L1546.5 1002.1 L1547.5 1000.7 L1548.5 1001.9 L1549.5 1002.4 L1550.5 1001.6 L1551.5 1002.1 L1552.5 1002.0 L1553.5 1009.0 L1554.5 1002.2 L1555.5 999.6 L1556.5 1002.6 L1557.5 1001.8 L1558.5 1009.4 L1559.5 1002.3 L1560.5 1000.2 L1561.5 1002.1 L1562.5 1008.4 L1563.5 1000.7 L1564.5 1001.0 L1565.5 1000.3 L1566.5 1002.0 L1567.5 1000.6 L1568.5 1003.2 L1569.5 1001.7 L1570.5 1001.7 L1571.5 1004.4 L1572.5 1005.7 L1573.5 1004.8 L1574.5 1007.3 L1575.5 1007.9 L1576.5 1007.1 L1577.5 1007.0 L1578.5 1009.8 L1579.5 1017.1 L1580.5 1010.9 L1581.5 1009.4 L1582.5 1012.4 L1583.5 1013.2 L1584.5 1014.0 L1585.5 1013.5 L1586.5 1014.1 L1587.5 1015.1 L1588.5 1021.4 L1589.5 1012.1 L1590.5 1011.1 L1591.5 1011.2 L1592.5 1012.7 L1593.5 1010.7 L1594.5 1011.7 L1595.5 1010.7 L1596.5 1010.2 L1597.5 1008.5 L1598.5 1008.2 L1599.5 1011.0 L1600.5 1008.4 L1601.5 1010.7 L1602.5 1011.7 L1603.5 1011.5 L1604.5 1010.7 L1605.5 1011.3 L1606.5 1011.8 L1607.5 1012.0 L1608.5 1012.9 L1609.5 1011.8 L1610.5 1012.6 L1611.5 1013.2 L1612.5 1011.5 L1613.5 1011.7 L1614.5 1008.3 L1615.5 1015.6 L1616.5 1007.4 L1617.5 1006.6 L1618.5 1006.4 L1619.5 1011.5 L1620.5 1002.8 L1621.5 1002.0 L1622.5 1003.6 L1623.5 1003.7 L1624.5 1003.4 L1625.5 1005.1 L1626.5 1003.9 L1627.5 1003.6 L1628.5 1003.3 L1629.5 1006.0 L1630.5 1004.9 L1631.5 1006.8 L1632.5 1014.0 L1633.5 1007.3 L1634.5 1004.3 L1635.5 1004.9 L1636.5 1005.3 L1637.5 1004.4 L1638.5 1010.4 L1639.5 1001.4 L1640.5 1000.1 L1641.5 1002.2 L1642.5 999.1 L1643.5 999.5 L1644.5 999.1 L1645.5 998.5 L1646.5 998.5 L1647.5 997.1 L1648.5 995.0 L1649.5 996.5 L1650.5 1002.8 L1651.5 1001.6 L1652.5 1001.7 L1653.5 996.0 L1654.5 995.4 L1655.5 995.9 L1656.5 994.7 L1657.5 995.0 L1658.5 994.4 L1659.5 1001.9 L1660.5 1001.7 L1661.5 993.2 L1662.5 995.0 L1663.5 995.5 L1664.5 997.8 L1665.5 1006.0 L1666.5 1000.4 L1667.5 1001.9 L1668.5 1002.2 L1669.5 1001.9 L1670.5 1003.3 L1671.5 1005.5 L1672.5 1005.4 L1673.5 1006.5 L1674.5 1014.4 L1675.5 1006.9 L1676.5 1006.1 L1677.5 1006.7 L1678.5 1007.5 L1679.5 1015.4 L1680.5 1015.0 L1681.5 1008.6 L1682.5 1014.9 L1683.5 1006.4 L1684.5 1008.2 L1685.5 1009.0 L1686.5 1007.0 L1687.5 1007.1 L1688.5 1007.3 L1689.5 1008.6 L1690.5 1015.6 L1691.5 1008.7 L1692.5 1015.8 L1693.5 1015.0 L1694.5 1009.0 L1694.5 1028.1 L1693.5 1026.6 L1692.5 1026.8 L1691.5 1028.9 L1690.5 1030.8 L1689.5 1029.7 L1688.5 1029.0 L1687.5 1027.8 L1686.5 1029.5 L1685.5 1028.3 L1684.5 1027.6 L1683.5 1017.6 L1682.5 1030.7 L1681.5 1029.8 L1680.5 1030.7 L1679.5 1027.7 L1678.5 1027.2 L1677.5 1016.2 L1676.5 1026.3 L1675.5 1026.2 L1674.5 1028.0 L1673.5 1025.4 L1672.5 1015.7 L1671.5 1027.3 L1670.5 1014.5 L1669.5 1023.0 L1668.5 1022.1 L1667.5 1024.0 L1666.5 1020.2 L1665.5 1018.3 L1664.5 1016.8 L1663.5 1004.5 L1662.5 1016.0 L1661.5 1013.8 L1660.5 1017.1 L1659.5 1017.7 L1658.5 1017.2 L1657.5 1014.8 L1656.5 1017.2 L1655.5 1016.1 L1654.5 1018.0 L1653.5 1017.1 L1652.5 1016.7 L1651.5 1014.2 L1650.5 1015.3 L1649.5 1014.2 L1648.5 1015.0 L1647.5 1019.5 L1646.5 1006.8 L1645.5 1007.9 L1644.5 1020.6 L1643.5 1018.9 L1642.5 1022.1 L1641.5 1022.2 L1640.5 1020.7 L1639.5 1023.5 L1638.5 1022.0 L1637.5 1026.9 L1636.5 1027.6 L1635.5 1027.8 L1634.5 1026.2 L1633.5 1024.9 L1632.5 1026.2 L1631.5 1025.1 L1630.5 1025.3 L1629.5 1024.0 L1628.5 1023.8 L1627.5 1025.7 L1626.5 1026.1 L1625.5 1023.1 L1624.5 1022.6 L1623.5 1025.8 L1622.5 1022.8 L1621.5 1022.4 L1620.5 1022.3 L1619.5 1026.3 L1618.5 1024.8 L1617.5 1025.4 L1616.5 1029.4 L1615.5 1029.4 L1614.5 1030.0 L1613.5 1020.8 L1612.5 1030.3 L1611.5 1022.3 L1610.5 1022.0 L1609.5 1022.7 L1608.5 1034.3 L1607.5 1020.3 L1606.5 1033.5 L1605.5 1034.0 L1604.5 1029.8 L1603.5 1029.7 L1602.5 1030.7 L1601.5 1031.2 L1600.5 1032.2 L1599.5 1030.2 L1598.5 1028.4 L1597.5 1030.9 L1596.5 1030.5 L1595.5 1030.5 L1594.5 1031.1 L1593.5 1030.2 L1592.5 1032.5 L1591.5 1032.5 L1590.5 1034.3 L1589.5 1032.2 L1588.5 1034.3 L1587.5 1034.1 L1586.5 1036.6 L1585.5 1034.5 L1584.5 1031.5 L1583.5 1031.4 L1582.5 1034.6 L1581.5 1030.6 L1580.5 1020.1 L1579.5 1028.3 L1578.5 1028.4 L1577.5 1030.7 L1576.5 1026.4 L1575.5 1028.9 L1574.5 1025.2 L1573.5 1025.2 L1572.5 1026.9 L1571.5 1014.3 L1570.5 1025.3 L1569.5 1024.5 L1568.5 1021.9 L1567.5 1023.6 L1566.5 1021.0 L1565.5 1021.2 L1564.5 1023.2 L1563.5 1021.0 L1562.5 1020.7 L1561.5 1020.3 L1560.5 1022.4 L1559.5 1011.6 L1558.5 1021.4 L1557.5 1020.7 L1556.5 1010.6 L1555.5 1024.4 L1554.5 1022.2 L1553.5 1020.8 L1552.5 1024.0 L1551.5 1020.9 L1550.5 1022.1 L1549.5 1024.4 L1548.5 1022.2 L1547.5 1023.0 L1546.5 1020.1 L1545.5 1022.6 L1544.5 1022.9 L1543.5 1020.4 L1542.5 1021.8 L1541.5 1021.6 L1540.5 1024.2 L1539.5 1023.9 L1538.5 1023.2 L1537.5 1022.6 L1536.5 1022.4 L1535.5 1011.4 L1534.5 1020.5 L1533.5 1023.6 L1532.5 1023.9 L1531.5 1021.1 L1530.5 1022.9 L1529.5 1022.1 L1528.5 1024.0 L1527.5 1020.7 L1526.5 1021.0 L1525.5 1023.9 L1524.5 1024.5 L1523.5 1024.5 L1522.5 1026.3 L1521.5 1025.1 L1520.5 1025.1 L1519.5 1025.7 L1518.5 1026.8 L1517.5 1027.6 L1516.5 1029.7 L1515.5 1027.9 L1514.5 1018.2 L1513.5 1029.7 L1512.5 1029.5 L1511.5 1025.4 L1510.5 1024.4 L1509.5 1025.3 L1508.5 1023.4 L1507.5 1013.5 L1506.5 1022.9 L1505.5 1024.6 L1504.5 1020.7 L1503.5 1019.8 L1502.5 1021.7 L1501.5 1018.5 L1500.5 1020.5 L1499.5 1017.2 L1498.5 1007.1 L1497.5 1019.5 L1496.5 1015.1 L1495.5 1014.3 L1494.5 1015.2 L1493.5 1014.3 L1492.5 1013.9 L1491.5 1012.4 L1490.5 1014.7 L1489.5 1013.5 L1488.5 1013.6 L1487.5 1008.9 L1486.5 997.2 L1485.5 1008.0 L1484.5 1005.7 L1483.5 1002.2 L1482.5 1004.1 L1481.5 1001.0 L1480.5 997.0 L1479.5 996.9 L1478.5 991.2 L1477.5 988.6 L1476.5 988.8 L1475.5 985.2 L1474.5 985.1 L1473.5 984.7 L1472.5 974.8 L1471.5 984.9 L1470.5 988.8 L1469.5 984.2 L1468.5 984.2 L1467.5 974.0 L1466.5 986.4 L1465.5 982.8 L1464.5 985.6 L1463.5 985.8 L1462.5 985.2 L1461.5 968.7 L1460.5 978.9 L1459.5 976.9 L1458.5 975.4 L1457.5 975.2 L1456.5 973.0 L1455.5 973.1 L1454.5 971.9 L1453.5 972.5 L1452.5 967.0 L1451.5 968.1 L1450.5 965.1 L1449.5 964.6 L1448.5 961.9 L1447.5 962.0 L1446.5 966.4 L1445.5 963.6 L1444.5 964.3 L1443.5 964.8 L1442.5 961.0 L1441.5 961.9 L1440.5 961.5 L1439.5 962.3 L1438.5 951.1 L1437.5 952.6 L1436.5 965.1 L1435.5 967.5 L1434.5 970.3 L1433.5 970.5 L1432.5 971.1 L1431.5 967.5 L1430.5 971.6 L1429.5 971.5 L1428.5 972.5 L1427.5 973.4 L1426.5 972.9 L1425.5 976.3 L1424.5 978.3 L1423.5 982.5 L1422.5 979.7 L1421.5 983.4 L1420.5 984.6 L1419.5 987.2 L1418.5 987.8 L1417.5 991.1 L1416.5 991.9 L1415.5 993.0 L1414.5 992.6 L1413.5 979.8 L1412.5 980.8 L1411.5 994.6 L1410.5 995.5 L1409.5 998.3 L1408.5 997.4 L1407.5 996.5 L1406.5 996.7 L1405.5 1001.3 L1404.5 1002.9 L1403.5 999.3 L1402.5 1001.0 L1401.5 1003.5 L1400.5 1001.1 L1399.5 998.7 L1398.5 998.5 L1397.5 1001.1 L1396.5 998.1 L1395.5 992.5 L1394.5 977.4 L1393.5 996.2 L1392.5 974.7 L1391.5 993.2 L1390.5 985.3 L1389.5 989.3 L1388.5 984.4 L1387.5 980.2 L1386.5 963.6 L1385.5 976.9 L1384.5 976.0 L1383.5 980.3 L1382.5 973.6 L1381.5 970.8 L1380.5 970.8 L1379.5 968.1 L1378.5 947.1 L1377.5 946.3 L1376.5 963.1 L1375.5 961.5 L1374.5 965.4 L1373.5 964.4 L1372.5 958.5 L1371.5 956.6 L1370.5 961.9 L1369.5 961.6 L1368.5 957.5 L1367.5 950.2 L1366.5 926.8 L1365.5 923.6 L1364.5 959.0 L1363.5 952.2 L1362.5 948.2 L1361.5 924.7 L1360.5 948.2 L1359.5 947.9 L1358.5 948.5 L1357.5 955.8 L1356.5 954.6 L1355.5 960.1 L1354.5 960.1 L1353.5 957.5 L1352.5 919.4 L1351.5 953.3 L1350.5 966.3 L1349.5 959.8 L1348.5 958.0 L1347.5 969.8 L1346.5 958.2 L1345.5 965.2 L1344.5 972.2 L1343.5 965.9 L1342.5 976.4 L1341.5 971.4 L1340.5 966.4 L1339.5 925.3 L1338.5 964.7 L1337.5 963.4 L1336.5 974.9 L1335.5 976.3 L1334.5 964.7 L1333.5 963.0 L1332.5 943.8 L1331.5 937.0 L1330.5 940.6 L1329.5 934.4 L1328.5 917.7 L1327.5 877.7 L1326.5 902.5 L1325.5 901.8 L1324.5 886.6 L1323.5 884.0 L1322.5 875.0 L1321.5 873.5 L1320.5 865.4 L1319.5 844.4 L1318.5 862.9 L1317.5 859.8 L1316.5 855.2 L1315.5 851.9 L1314.5 851.1 L1313.5 847.8 L1312.5 851.3 L1311.5 845.6 L1310.5 841.1 L1309.5 845.2 L1308.5 837.3 L1307.5 837.6 L1306.5 839.3 L1305.5 836.9 L1304.5 836.7 L1303.5 833.2 L1302.5 830.0 L1301.5 832.8 L1300.5 828.1 L1299.5 832.4 L1298.5 825.6 L1297.5 830.4 L1296.5 828.9 L1295.5 822.0 L1294.5 822.8 L1293.5 820.4 L1292.5 815.8 L1291.5 815.5 L1290.5 813.4 L1289.5 811.2 L1288.5 811.7 L1287.5 810.4 L1286.5 805.8 L1285.5 807.2 L1284.5 807.8 L1283.5 807.5 L1282.5 788.3 L1281.5 805.1 L1280.5 806.3 L1279.5 806.4 L1278.5 806.5 L1277.5 812.5 L1276.5 809.0 L1275.5 807.1 L1274.5 804.8 L1273.5 807.7 L1272.5 800.8 L1271.5 800.2 L1270.5 802.2 L1269.5 797.2 L1268.5 801.8 L1267.5 797.1 L1266.5 799.1 L1265.5 797.5 L1264.5 794.0 L1263.5 793.3 L1262.5 788.2 L1261.5 783.2 L1260.5 783.4 L1259.5 781.4 L1258.5 775.5 L1257.5 771.2 L1256.5 769.5 L1255.5 769.0 L1254.5 770.8 L1253.5 769.2 L1252.5 761.7 L1251.5 763.3 L1250.5 763.6 L1249.5 759.3 L1248.5 762.2 L1247.5 736.6 L1246.5 754.3 L1245.5 759.6 L1244.5 752.3 L1243.5 756.1 L1242.5 752.8 L1241.5 731.5 L1240.5 746.3 L1239.5 745.4 L1238.5 746.7 L1237.5 744.6 L1236.5 742.3 L1235.5 741.6 L1234.5 739.7 L1233.5 746.3 L1232.5 741.2 L1231.5 740.0 L1230.5 736.8 L1229.5 735.6 L1228.5 740.7 L1227.5 734.5 L1226.5 715.9 L1225.5 732.4 L1224.5 712.1 L1223.5 733.6 L1222.5 730.6 L1221.5 735.3 L1220.5 728.4 L1219.5 735.4 L1218.5 730.7 L1217.5 726.0 L1216.5 732.9 L1215.5 727.2 L1214.5 735.1 L1213.5 729.0 L1212.5 732.9 L1211.5 733.6 L1210.5 732.2 L1209.5 716.1 L1208.5 734.8 L1207.5 736.4 L1206.5 716.8 L1205.5 743.1 L1204.5 737.9 L1203.5 739.2 L1202.5 742.5 L1201.5 741.5 L1200.5 747.7 L1199.5 741.1 L1198.5 744.5 L1197.5 742.7 L1196.5 742.4 L1195.5 745.6 L1194.5 743.1 L1193.5 744.6 L1192.5 751.0 L1191.5 747.7 L1190.5 736.8 L1189.5 739.6 L1188.5 731.4 L1187.5 728.9 L1186.5 726.3 L1185.5 725.9 L1184.5 730.0 L1183.5 725.1 L1182.5 719.2 L1181.5 715.7 L1180.5 714.1 L1179.5 714.6 L1178.5 687.1 L1177.5 704.2 L1176.5 708.1 L1175.5 701.3 L1174.5 701.6 L1173.5 702.2 L1172.5 696.2 L1171.5 688.1 L1170.5 687.5 L1169.5 676.2 L1168.5 650.4 L1167.5 665.7 L1166.5 663.2 L1165.5 655.2 L1164.5 654.1 L1163.5 648.8 L1162.5 641.4 L1161.5 645.3 L1160.5 631.9 L1159.5 631.6 L1158.5 630.3 L1157.5 617.8 L1156.5 615.1 L1155.5 608.7 L1154.5 606.7 L1153.5 598.9 L1152.5 601.5 L1151.5 591.8 L1150.5 589.8 L1149.5 582.2 L1148.5 577.8 L1147.5 565.2 L1146.5 555.0 L1145.5 548.7 L1144.5 539.6 L1143.5 532.0 L1142.5 521.5 L1141.5 506.0 L1140.5 495.2 L1139.5 479.8 L1138.5 468.0 L1137.5 461.4 L1136.5 449.8 L1135.5 437.6 L1134.5 472.9 L1133.5 520.5 L1132.5 557.6 L1131.5 576.0 L1130.5 641.8 L1129.5 650.7 L1128.5 657.2 L1127.5 666.0 L1126.5 673.8 L1125.5 673.6 L1124.5 664.1 L1123.5 659.1 L1122.5 637.6 L1121.5 632.5 L1120.5 620.4 L1119.5 601.2 L1118.5 594.1 L1117.5 583.1 L1116.5 566.7 L1115.5 555.7 L1114.5 514.4 L1113.5 531.1 L1112.5 522.3 L1111.5 521.2 L1110.5 508.8 L1109.5 491.9 L1108.5 487.5 L1107.5 468.0 L1106.5 425.0 L1105.5 404.3 L1104.5 402.1 L1103.5 375.3 L1102.5 260.4 L1101.5 191.8 L1100.5 125.7 L1099.5 126.5 L1098.5 128.4 L1097.5 127.1 L1096.5 217.2 L1095.5 366.0 L1094.5 515.5 L1093.5 565.8 L1092.5 596.7 L1091.5 629.3 L1090.5 661.1 L1089.5 647.4 L1088.5 691.7 L1087.5 714.3 L1086.5 718.4 L1085.5 712.7 L1084.5 644.1 L1083.5 707.4 L1082.5 711.6 L1081.5 656.6 L1080.5 713.3 L1079.5 718.4 L1078.5 723.9 L1077.5 724.6 L1076.5 667.8 L1075.5 714.9 L1074.5 660.6 L1073.5 711.3 L1072.5 736.5 L1071.5 709.8 L1070.5 736.8 L1069.5 738.3 L1068.5 783.0 L1067.5 827.8 L1066.5 862.4 L1065.5 834.5 L1064.5 889.6 L1063.5 886.0 L1062.5 845.3 L1061.5 847.8 L1060.5 887.0 L1059.5 891.9 L1058.5 884.0 L1057.5 883.7 L1056.5 884.6 L1055.5 885.0 L1054.5 890.2 L1053.5 887.7 L1052.5 856.8 L1051.5 891.2 L1050.5 884.9 L1049.5 887.8 L1048.5 882.8 L1047.5 886.6 L1046.5 888.8 L1045.5 891.9 L1044.5 891.8 L1043.5 891.8 L1042.5 894.2 L1041.5 899.4 L1040.5 899.6 L1039.5 903.7 L1038.5 908.7 L1037.5 910.4 L1036.5 918.8 L1035.5 919.4 L1034.5 922.6 L1033.5 923.0 L1032.5 924.5 L1031.5 923.1 L1030.5 925.5 L1029.5 931.4 L1028.5 928.0 L1027.5 928.6 L1026.5 929.4 L1025.5 935.2 L1024.5 914.0 L1023.5 933.0 L1022.5 939.2 L1021.5 935.9 L1020.5 916.9 L1019.5 941.8 L1018.5 943.8 L1017.5 942.5 L1016.5 946.2 L1015.5 943.3 L1014.5 945.4 L1013.5 951.3 L1012.5 946.4 L1011.5 942.5 L1010.5 944.9 L1009.5 919.5 L1008.5 941.8 L1007.5 944.6 L1006.5 943.0 L1005.5 921.1 L1004.5 942.5 L1003.5 942.2 L1002.5 951.1 L1001.5 952.9 L1000.5 944.6 L999.5 944.0 L998.5 950.7 L997.5 943.9 L996.5 944.4 L995.5 945.0 L994.5 944.8 L993.5 949.5 L992.5 945.4 L991.5 945.9 L990.5 947.2 L989.5 946.4 L988.5 944.1 L987.5 944.5 L986.5 945.7 L985.5 948.7 L984.5 940.5 L983.5 949.5 L982.5 949.0 L981.5 936.8 L980.5 940.0 L979.5 939.6 L978.5 910.7 L977.5 940.8 L976.5 933.7 L975.5 937.2 L974.5 939.0 L973.5 933.3 L972.5 938.2 L971.5 930.7 L970.5 932.5 L969.5 929.5 L968.5 935.0 L967.5 929.7 L966.5 932.0 L965.5 929.8 L964.5 931.6 L963.5 935.8 L962.5 937.3 L961.5 931.8 L960.5 934.8 L959.5 930.2 L958.5 896.8 L957.5 926.3 L956.5 921.2 L955.5 925.3 L954.5 917.3 L953.5 916.8 L952.5 919.9 L951.5 922.3 L950.5 916.2 L949.5 919.9 L948.5 890.7 L947.5 890.9 L946.5 914.7 L945.5 918.4 L944.5 914.6 L943.5 914.7 L942.5 921.1 L941.5 923.0 L940.5 895.1 L939.5 917.0 L938.5 921.3 L937.5 926.4 L936.5 926.1 L935.5 899.1 L934.5 923.8 L933.5 927.1 L932.5 922.3 L931.5 920.6 L930.5 922.7 L929.5 928.7 L928.5 924.6 L927.5 901.5 L926.5 923.7 L925.5 924.7 L924.5 920.3 L923.5 917.7 L922.5 922.6 L921.5 925.3 L920.5 898.1 L919.5 922.9 L918.5 922.3 L917.5 927.5 L916.5 927.7 L915.5 925.1 L914.5 925.8 L913.5 925.0 L912.5 906.1 L911.5 930.7 L910.5 929.2 L909.5 932.8 L908.5 930.5 L907.5 934.3 L906.5 933.3 L905.5 937.1 L904.5 931.2 L903.5 932.0 L902.5 911.7 L901.5 932.8 L900.5 938.3 L899.5 934.0 L898.5 939.7 L897.5 942.5 L896.5 952.7 L895.5 952.6 L894.5 957.5 L893.5 932.3 L892.5 956.8 L891.5 957.3 L890.5 956.3 L889.5 952.5 L888.5 951.0 L887.5 952.1 L886.5 948.7 L885.5 949.4 L884.5 951.3 L883.5 951.0 L882.5 950.3 L881.5 948.5 L880.5 926.3 L879.5 942.9 L878.5 947.1 L877.5 946.6 L876.5 948.0 L875.5 947.7 L874.5 941.9 L873.5 944.5 L872.5 927.5 L871.5 941.6 L870.5 929.5 L869.5 946.4 L868.5 941.6 L867.5 946.2 L866.5 942.1 L865.5 941.4 L864.5 931.6 L863.5 943.6 L862.5 942.2 L861.5 930.5 L860.5 941.1 L859.5 941.1 L858.5 932.8 L857.5 942.6 L856.5 931.9 L855.5 942.6 L854.5 942.8 L853.5 944.3 L852.5 943.1 L851.5 934.4 L850.5 936.4 L849.5 937.3 L848.5 947.3 L847.5 937.4 L846.5 949.2 L845.5 947.9 L844.5 950.1 L843.5 940.4 L842.5 950.5 L841.5 941.2 L840.5 950.4 L839.5 942.8 L838.5 951.9 L837.5 944.2 L836.5 954.8 L835.5 952.3 L834.5 955.2 L833.5 953.6 L832.5 945.6 L831.5 954.7 L830.5 947.6 L829.5 959.3 L828.5 960.3 L827.5 957.9 L826.5 961.5 L825.5 951.6 L824.5 951.5 L823.5 962.1 L822.5 961.7 L821.5 955.1 L820.5 957.0 L819.5 957.8 L818.5 968.2 L817.5 959.0 L816.5 971.9 L815.5 973.7 L814.5 971.7 L813.5 975.5 L812.5 966.7 L811.5 967.1 L810.5 968.9 L809.5 975.7 L808.5 971.4 L807.5 960.8 L806.5 965.3 L805.5 971.1 L804.5 979.3 L803.5 984.8 L802.5 992.3 L801.5 993.0 L800.5 991.8 L799.5 991.3 L798.5 981.6 L797.5 989.0 L796.5 990.1 L795.5 988.4 L794.5 988.7 L793.5 988.4 L792.5 990.0 L791.5 979.4 L790.5 977.9 L789.5 979.0 L788.5 979.5 L787.5 988.4 L786.5 990.5 L785.5 990.3 L784.5 988.9 L783.5 992.4 L782.5 992.1 L781.5 982.1 L780.5 990.5 L779.5 991.4 L778.5 992.5 L777.5 984.0 L776.5 983.2 L775.5 992.2 L774.5 983.5 L773.5 984.1 L772.5 993.6 L771.5 994.1 L770.5 994.5 L769.5 985.5 L768.5 995.6 L767.5 995.9 L766.5 986.7 L765.5 997.7 L764.5 987.3 L763.5 998.6 L762.5 985.9 L761.5 985.7 L760.5 994.9 L759.5 987.0 L758.5 995.2 L757.5 985.3 L756.5 986.6 L755.5 997.4 L754.5 995.9 L753.5 993.8 L752.5 986.0 L751.5 984.3 L750.5 983.9 L749.5 983.5 L748.5 992.6 L747.5 982.7 L746.5 991.3 L745.5 992.5 L744.5 982.0 L743.5 981.1 L742.5 990.2 L741.5 980.5 L740.5 991.9 L739.5 989.4 L738.5 987.9 L737.5 979.3 L736.5 987.8 L735.5 988.1 L734.5 980.0 L733.5 990.0 L732.5 991.2 L731.5 991.6 L730.5 992.9 L729.5 991.6 L728.5 983.3 L727.5 993.7 L726.5 996.1 L725.5 986.1 L724.5 994.9 L723.5 986.9 L722.5 999.3 L721.5 988.7 L720.5 989.5 L719.5 990.9 L718.5 1002.9 L717.5 1007.8 L716.5 1005.7 L715.5 1010.1 L714.5 1001.6 L713.5 1011.4 L712.5 1010.1 L711.5 1010.9 L710.5 1009.7 L709.5 999.0 L708.5 1007.4 L707.5 1006.9 L706.5 1007.8 L705.5 1005.3 L704.5 996.7 L703.5 1003.9 L702.5 994.4 L701.5 1005.9 L700.5 1003.2 L699.5 1001.7 L698.5 991.3 L697.5 991.3 L696.5 1001.9 L695.5 991.1 L694.5 999.4 L693.5 998.5 L692.5 998.2 L691.5 988.3 L690.5 997.8 L689.5 987.6 L688.5 986.3 L687.5 987.0 L686.5 986.0 L685.5 984.7 L684.5 995.1 L683.5 983.7 L682.5 982.2 L681.5 982.6 L680.5 992.8 L679.5 981.9 L678.5 995.4 L677.5 993.3 L676.5 981.0 L675.5 991.4 L674.5 980.5 L673.5 982.0 L672.5 994.2 L671.5 993.8 L670.5 981.0 L669.5 992.6 L668.5 991.5 L667.5 991.6 L666.5 990.6 L665.5 979.1 L664.5 980.2 L663.5 979.4 L662.5 992.3 L661.5 980.1 L660.5 991.2 L659.5 979.7 L658.5 992.9 L657.5 990.9 L656.5 992.1 L655.5 991.1 L654.5 979.8 L653.5 981.3 L652.5 993.9 L651.5 990.6 L650.5 991.3 L649.5 990.7 L648.5 981.4 L647.5 993.5 L646.5 993.9 L645.5 992.8 L644.5 991.8 L643.5 981.2 L642.5 993.1 L641.5 991.6 L640.5 981.9 L639.5 983.4 L638.5 994.9 L637.5 983.9 L636.5 992.8 L635.5 982.4 L634.5 983.2 L633.5 995.6 L632.5 995.1 L631.5 984.8 L630.5 995.9 L629.5 995.5 L628.5 986.0 L627.5 999.1 L626.5 995.4 L625.5 984.4 L624.5 996.1 L623.5 983.0 L622.5 997.0 L621.5 993.7 L620.5 994.9 L619.5 995.2 L618.5 981.4 L617.5 995.8 L616.5 993.3 L615.5 991.1 L614.5 980.4 L613.5 980.7 L612.5 991.4 L611.5 991.0 L610.5 990.4 L609.5 989.0 L608.5 977.6 L607.5 977.7 L606.5 992.7 L605.5 981.1 L604.5 981.6 L603.5 993.2 L602.5 984.1 L601.5 995.5 L600.5 998.4 L599.5 987.0 L598.5 998.3 L597.5 1000.8 L596.5 990.2 L595.5 1000.2 L594.5 987.1 L593.5 999.1 L592.5 998.1 L591.5 999.0 L590.5 985.9 L589.5 985.4 L588.5 985.3 L587.5 985.0 L586.5 984.3 L585.5 983.0 L584.5 997.1 L583.5 994.0 L582.5 995.5 L581.5 982.2 L580.5 980.8 L579.5 994.1 L578.5 982.9 L577.5 995.2 L576.5 983.1 L575.5 996.8 L574.5 995.8 L573.5 996.8 L572.5 997.9 L571.5 993.9 L570.5 994.6 L569.5 983.2 L568.5 984.1 L567.5 982.6 L566.5 983.4 L565.5 997.0 L564.5 997.0 L563.5 997.9 L562.5 984.1 L561.5 995.0 L560.5 995.8 L559.5 994.0 L558.5 982.3 L557.5 981.8 L556.5 982.5 L555.5 993.6 L554.5 993.3 L553.5 980.6 L552.5 996.0 L551.5 997.6 L550.5 981.3 L549.5 981.7 L548.5 982.1 L547.5 992.0 L546.5 995.0 L545.5 995.9 L544.5 980.8 L543.5 978.4 L542.5 978.0 L541.5 991.6 L540.5 978.2 L539.5 988.1 L538.5 988.2 L537.5 989.4 L536.5 974.2 L535.5 973.5 L534.5 987.7 L533.5 983.9 L532.5 985.1 L531.5 983.4 L530.5 982.0 L529.5 981.4 L528.5 981.3 L527.5 981.4 L526.5 967.6 L525.5 967.2 L524.5 978.3 L523.5 980.9 L522.5 983.8 L521.5 983.6 L520.5 967.9 L519.5 970.1 L518.5 984.4 L517.5 968.7 L516.5 969.6 L515.5 983.0 L514.5 982.5 L513.5 981.2 L512.5 969.3 L511.5 981.9 L510.5 982.8 L509.5 966.1 L508.5 980.6 L507.5 976.9 L506.5 965.0 L505.5 977.8 L504.5 977.6 L503.5 962.8 L502.5 976.3 L501.5 973.2 L500.5 975.6 L499.5 960.6 L498.5 975.8 L497.5 971.1 L496.5 974.3 L495.5 969.2 L494.5 968.4 L493.5 957.0 L492.5 967.7 L491.5 955.9 L490.5 965.6 L489.5 965.6 L488.5 964.5 L487.5 950.8 L486.5 965.0 L485.5 967.5 L484.5 964.8 L483.5 967.0 L482.5 955.5 L481.5 954.3 L480.5 968.8 L479.5 970.8 L478.5 969.7 L477.5 968.9 L476.5 958.8 L475.5 971.5 L474.5 970.5 L473.5 972.4 L472.5 972.5 L471.5 961.7 L470.5 974.2 L469.5 963.0 L468.5 962.2 L467.5 962.8 L466.5 975.2 L465.5 976.1 L464.5 976.9 L463.5 977.9 L462.5 981.3 L461.5 978.7 L460.5 967.8 L459.5 980.2 L458.5 966.9 L457.5 968.7 L456.5 983.5 L455.5 982.3 L454.5 969.7 L453.5 971.3 L452.5 985.3 L451.5 970.2 L450.5 968.2 L449.5 968.7 L448.5 966.7 L447.5 978.6 L446.5 965.8 L445.5 978.2 L444.5 965.3 L443.5 974.5 L442.5 962.8 L441.5 974.8 L440.5 976.9 L439.5 966.1 L438.5 968.1 L437.5 981.3 L436.5 969.3 L435.5 985.2 L434.5 986.6 L433.5 989.7 L432.5 991.6 L431.5 992.6 L430.5 977.1 L429.5 993.4 L428.5 990.5 L427.5 980.1 L426.5 981.9 L425.5 992.4 L424.5 981.9 L423.5 982.1 L422.5 995.8 L421.5 995.5 L420.5 996.5 L419.5 984.6 L418.5 984.8 L417.5 983.4 L416.5 993.8 L415.5 979.9 L414.5 978.2 L413.5 987.3 L412.5 974.6 L411.5 984.6 L410.5 970.4 L409.5 983.1 L408.5 983.6 L407.5 983.9 L406.5 981.1 L405.5 970.8 L404.5 981.9 L403.5 983.1 L402.5 971.6 L401.5 972.8 L400.5 986.6 L399.5 987.3 L398.5 986.1 L397.5 989.8 L396.5 987.3 L395.5 989.9 L394.5 992.4 L393.5 993.0 L392.5 992.6 L391.5 978.1 L390.5 994.4 L389.5 993.0 L388.5 981.1 L387.5 995.9 L386.5 983.0 L385.5 995.8 L384.5 983.6 L383.5 999.8 L382.5 996.3 L381.5 997.3 L380.5 999.4 L379.5 1000.6 L378.5 999.8 L377.5 1001.3 L376.5 1000.7 L375.5 1001.5 L374.5 991.1 L373.5 1004.2 L372.5 1005.8 L371.5 1006.4 L370.5 993.4 L369.5 1005.6 L368.5 994.3 L367.5 1009.4 L366.5 1005.8 L365.5 994.4 L364.5 995.0 L363.5 995.7 L362.5 1010.4 L361.5 998.5 L360.5 1009.9 L359.5 1013.1 L358.5 1010.0 L357.5 998.8 L356.5 1011.9 L355.5 1010.9 L354.5 1011.1 L353.5 1001.4 L352.5 1011.9 L351.5 1015.7 L350.5 1012.9 L349.5 1014.5 L348.5 1011.6 L347.5 1015.3 L346.5 1016.6 L345.5 1012.4 L344.5 1016.2 L343.5 1016.4 L342.5 1002.5 L341.5 1012.5 L340.5 1017.2 L339.5 1002.8 L338.5 1003.1 L337.5 1017.6 L336.5 1002.6 L335.5 1016.1 L334.5 1016.4 L333.5 1015.1 L332.5 1013.6 L331.5 1004.6 L330.5 1015.3 L329.5 1014.5 L328.5 1019.1 L327.5 1016.6 L326.5 1004.5 L325.5 1016.7 L324.5 1015.9 L323.5 1005.4 L322.5 1004.4 L321.5 1004.5 L320.5 1005.4 L319.5 1017.4 L318.5 1020.1 L317.5 1018.5 L316.5 1017.1 L315.5 1005.9 L314.5 1007.1 L313.5 1019.1 L312.5 1018.8 L311.5 1019.4 L310.5 1020.6 L309.5 1021.7 L308.5 1010.6 L307.5 1010.8 L306.5 1010.9 L305.5 1011.6 L304.5 1025.8 L303.5 1023.2 L302.5 1010.7 L301.5 1023.0 L300.5 1012.0 L299.5 1024.9 L298.5 1011.9 L297.5 1012.3 L296.5 1013.2 L295.5 1013.9 L294.5 1013.3 L293.5 1025.6 L292.5 1014.0 L291.5 1026.2 L290.5 1028.7 L289.5 1027.8 L288.5 1016.7 L287.5 1028.1 L286.5 1017.2 L285.5 1029.9 L284.5 1016.8 L283.5 1018.1 L282.5 1030.0 L281.5 1018.8 L280.5 1018.7 L279.5 1018.3 L278.5 1031.4 L277.5 1020.3 L276.5 1019.5 L275.5 1031.4 L274.5 1033.1 L273.5 1019.7 L272.5 1020.6 L271.5 1020.5 L270.5 1021.2 L269.5 1031.1 L268.5 1034.1 L267.5 1021.6 L266.5 1034.0 L265.5 1021.9 L264.5 1032.7 L263.5 1019.9 L262.5 1033.2 L261.5 1020.4 L260.5 1031.6 L259.5 1032.7 L258.5 1033.4 L257.5 1034.6 L256.5 1021.0 L255.5 1032.2 L254.5 1033.3 L253.5 1032.0 L252.5 1032.4 L251.5 1022.7 L250.5 1021.2 L249.5 1022.7 L248.5 1034.0 L247.5 1023.1 L246.5 1021.9 L245.5 1022.3 L244.5 1033.6 L243.5 1021.7Z" fill="#edb490" fill-opacity="0.5"/>
<path d="M243.5 1017.7 L245.2 1027.2 L247.2 1017.4 L249.2 1024.7 L251.4 1017.5 L253.3 1026.8 L255.4 1017.9 L257.5 1023.7 L259.9 1013.7 L262.0 1027.5 L263.7 1015.3 L265.5 1024.3 L267.2 1016.7 L269.4 1022.8 L271.2 1015.9 L273.1 1023.8 L275.0 1013.4 L277.1 1023.7 L279.1 1012.1 L281.3 1021.1 L283.5 1010.0 L285.6 1024.2 L287.6 1010.8 L289.6 1019.7 L292.0 1009.4 L294.4 1018.7 L296.2 1008.8 L298.6 1016.4 L300.3 1008.0 L302.0 1019.2 L304.5 1003.6 L306.7 1015.9 L308.5 1004.9 L310.6 1011.9 L312.4 999.8 L314.4 1011.5 L316.4 1002.3 L318.4 1012.4 L320.7 1000.6 L322.4 1011.3 L324.3 998.8 L326.0 1009.7 L328.0 998.5 L330.0 1006.8 L332.1 995.0 L333.9 1005.8 L335.6 995.7 L337.9 1004.6 L339.9 995.6 L342.1 1003.9 L344.6 994.4 L346.4 1008.0 L348.7 993.9 L350.8 1003.3 L353.2 994.6 L355.2 1003.1 L357.7 994.3 L359.8 1003.2 L362.2 991.0 L364.0 1001.0 L366.1 989.4 L368.4 996.7 L370.2 989.4 L372.1 993.7 L374.3 986.6 L376.2 991.7 L378.1 984.4 L380.0 991.1 L382.1 978.2 L384.6 985.5 L386.5 976.3 L388.3 988.0 L390.2 973.2 L392.4 984.6 L394.1 973.1 L396.4 977.7 L398.1 970.0 L400.3 975.1 L402.0 968.9 L404.0 976.4 L405.9 962.3 L407.9 973.6 L409.8 964.4 L412.3 978.1 L414.2 971.9 L416.2 984.3 L418.4 979.9 L420.2 988.8 L422.4 976.4 L424.8 986.1 L427.3 975.6 L429.3 984.7 L431.8 971.7 L434.1 977.4 L436.4 967.2 L438.1 975.4 L439.9 959.5 L441.8 965.7 L443.8 955.9 L446.0 972.3 L448.2 961.2 L450.3 970.6 L452.0 964.2 L454.2 976.7 L456.4 961.4 L458.9 974.8 L461.3 962.6 L463.2 967.8 L465.6 957.1 L467.6 967.8 L470.0 954.5 L471.8 966.5 L474.2 955.9 L475.9 962.1 L477.8 949.5 L480.1 961.4 L482.4 949.8 L484.3 958.3 L486.3 944.1 L488.5 955.9 L490.9 949.4 L492.8 961.9 L494.8 953.1 L497.1 966.7 L499.0 953.2 L501.3 963.7 L503.7 957.8 L505.5 968.6 L507.4 961.4 L509.2 968.8 L511.2 961.4 L513.0 974.3 L514.7 965.8 L517.0 976.5 L519.5 962.3 L521.6 969.7 L523.7 963.0 L525.8 972.0 L528.2 964.2 L530.7 978.2 L533.1 965.6 L535.4 980.5 L537.9 968.1 L540.1 978.9 L542.3 973.9 L544.1 986.6 L546.5 974.7 L548.6 984.2 L550.5 976.5 L552.5 982.4 L554.9 979.1 L556.9 983.2 L558.8 977.0 L560.8 986.2 L562.6 980.3 L565.0 987.1 L566.9 977.4 L569.1 984.9 L571.1 979.2 L573.6 985.3 L575.8 979.5 L577.6 986.0 L579.8 978.3 L581.5 982.8 L583.4 979.7 L585.3 984.6 L587.1 981.7 L589.2 986.1 L591.6 983.7 L593.7 989.5 L595.6 985.4 L597.5 989.3 L599.3 981.6 L601.5 985.4 L603.9 978.0 L606.1 981.6 L608.1 972.5 L610.4 982.5 L612.9 977.4 L615.0 984.8 L616.8 978.3 L618.9 985.2 L620.9 979.8 L623.2 984.5 L625.6 981.3 L627.8 988.0 L629.5 979.3 L631.9 985.7 L633.7 981.0 L635.7 986.3 L638.0 979.3 L639.9 983.7 L642.4 979.0 L644.2 984.4 L646.0 978.2 L648.4 982.6 L650.5 976.9 L652.4 982.2 L654.4 975.6 L656.1 981.4 L658.0 977.6 L660.2 982.8 L662.3 977.1 L664.4 983.6 L666.8 976.1 L669.1 981.0 L670.9 976.0 L672.9 982.6 L675.1 978.0 L677.5 983.6 L679.9 978.0 L682.4 985.2 L684.8 980.5 L686.5 988.8 L688.9 984.5 L691.4 991.2 L693.7 986.8 L696.2 993.9 L698.3 986.7 L700.5 995.6 L702.2 990.3 L704.5 997.6 L706.8 993.4 L708.6 1001.1 L710.7 996.9 L712.9 1002.4 L714.9 996.3 L717.4 998.4 L719.6 988.5 L721.7 989.9 L724.2 982.7 L726.5 987.4 L729.0 980.3 L731.4 985.3 L733.2 977.9 L735.2 982.4 L737.3 975.5 L739.7 981.9 L742.2 976.6 L744.0 985.9 L746.6 979.2 L748.9 986.8 L750.7 980.8 L753.0 987.9 L755.1 981.5 L757.4 989.4 L759.1 981.1 L761.2 989.7 L763.2 984.5 L765.4 989.1 L767.6 983.7 L769.4 987.6 L771.8 980.0 L774.3 986.4 L776.6 980.9 L778.9 984.9 L781.3 979.2 L783.7 982.0 L786.1 976.8 L787.9 981.2 L790.2 975.2 L792.0 980.5 L794.3 975.6 L796.0 984.0 L797.8 978.0 L799.5 983.8 L801.9 976.9 L804.0 974.3 L806.1 955.8 L808.0 963.0 L810.5 964.9 L812.2 968.6 L814.4 958.8 L816.7 964.0 L818.6 955.4 L820.7 957.1 L822.7 951.2 L824.5 956.2 L826.3 947.5 L828.5 953.7 L830.4 945.2 L832.8 947.8 L834.7 942.5 L836.8 945.3 L838.8 939.6 L841.0 943.6 L843.2 937.1 L845.2 943.5 L847.1 933.3 L849.3 939.6 L851.1 933.2 L853.4 935.1 L855.3 927.4 L857.8 936.2 L860.0 927.4 L862.0 932.8 L864.5 924.8 L867.0 931.6 L869.2 924.2 L871.2 932.1 L873.1 924.7 L874.8 931.6 L876.8 923.5 L878.8 928.1 L881.2 922.4 L883.2 934.2 L885.4 924.6 L887.5 934.2 L889.3 929.4 L891.5 938.0 L893.6 928.7 L896.0 930.6 L897.8 915.6 L899.6 919.1 L901.4 907.2 L903.5 914.6 L905.2 905.1 L907.3 908.3 L909.5 901.4 L911.9 907.4 L913.8 900.1 L915.7 908.0 L918.0 897.1 L920.1 898.9 L922.3 889.4 L924.1 898.6 L926.4 893.3 L928.5 900.4 L930.9 895.8 L932.9 899.5 L934.7 890.7 L936.6 898.2 L938.7 890.6 L940.8 895.9 L942.9 888.0 L944.8 896.2 L946.9 885.4 L949.0 891.7 L951.1 885.2 L953.5 897.7 L955.4 890.0 L957.2 900.7 L959.4 893.3 L961.4 903.3 L963.4 898.9 L965.5 907.5 L967.9 900.4 L969.7 908.9 L971.8 902.7 L974.0 908.2 L975.7 905.1 L977.6 911.6 L979.4 906.9 L981.5 916.1 L983.2 908.9 L985.6 917.4 L988.0 909.9 L989.9 921.9 L991.8 913.0 L994.2 919.7 L996.6 914.6 L998.8 919.4 L1001.0 910.4 L1003.4 919.2 L1005.1 910.7 L1006.9 921.7 L1008.6 911.8 L1010.8 920.6 L1013.3 916.1 L1015.1 920.6 L1017.1 914.0 L1019.6 918.4 L1022.1 910.9 L1024.2 917.5 L1026.7 907.2 L1028.7 914.4 L1030.8 903.1 L1033.3 907.6 L1035.0 896.7 L1037.1 900.0 L1039.6 886.5 L1042.1 880.3 L1043.8 865.3 L1045.9 866.6 L1048.4 858.3 L1050.9 859.5 L1052.8 850.9 L1055.3 854.1 L1057.6 846.2 L1060.0 850.2 L1062.1 843.2 L1064.5 847.7 L1066.7 800.0 L1068.9 747.6 L1070.7 638.5 L1072.8 667.0 L1075.0 637.9 L1077.1 687.3 L1078.9 637.7 L1080.8 680.6 L1082.9 616.7 L1085.0 654.3 L1087.4 615.3 L1089.3 681.6 L1091.4 580.9 L1093.2 547.5 L1094.9 424.3 L1097.3 101.4 L1099.0 87.8 L1101.4 157.8 L1103.5 344.4 L1105.5 400.7 L1107.2 432.0 L1109.4 465.5 L1111.8 483.7 L1113.7 502.6 L1115.7 520.2 L1118.0 553.1 L1120.3 580.8 L1122.2 608.9 L1124.1 628.7 L1126.0 651.7 L1128.0 622.6 L1129.7 633.1 L1131.4 569.6 L1133.2 514.0 L1135.6 395.8 L1137.7 438.1 L1139.4 438.7 L1141.3 487.5 L1143.6 497.7 L1145.7 532.7 L1147.7 528.2 L1150.0 562.1 L1152.4 565.6 L1154.3 578.4 L1156.3 584.1 L1158.2 597.4 L1160.3 603.8 L1162.0 617.0 L1164.2 622.5 L1165.9 635.3 L1168.2 643.6 L1169.9 656.2 L1171.9 660.7 L1173.6 671.9 L1175.5 673.2 L1177.2 682.6 L1178.9 682.3 L1181.4 692.4 L1183.6 694.3 L1186.0 705.8 L1187.9 704.1 L1190.2 715.8 L1192.3 717.9 L1194.7 723.0 L1196.9 716.5 L1199.4 724.2 L1201.6 716.9 L1203.4 720.1 L1205.8 712.6 L1207.6 718.9 L1209.7 710.2 L1211.7 712.5 L1213.6 704.9 L1215.7 708.1 L1218.1 703.2 L1220.0 709.5 L1222.1 707.7 L1224.6 714.5 L1227.0 711.3 L1229.1 718.4 L1231.5 715.5 L1233.6 720.6 L1236.0 717.1 L1238.0 726.9 L1240.2 722.5 L1242.6 734.1 L1244.3 727.8 L1246.7 736.8 L1248.6 734.5 L1250.8 741.4 L1252.8 740.1 L1255.0 751.8 L1257.6 748.5 L1259.5 760.7 L1261.7 762.0 L1264.2 777.4 L1266.0 771.3 L1267.8 779.4 L1270.0 775.8 L1271.7 781.5 L1273.8 780.0 L1275.6 786.0 L1277.7 783.0 L1279.6 790.4 L1282.1 784.2 L1284.6 789.3 L1286.8 785.3 L1289.0 796.9 L1291.4 792.0 L1293.5 801.3 L1295.9 798.1 L1298.1 810.1 L1299.9 806.0 L1301.9 813.2 L1304.4 809.1 L1306.4 818.7 L1308.4 816.9 L1310.6 824.2 L1312.3 822.5 L1314.3 835.7 L1316.4 832.7 L1318.3 845.4 L1320.4 842.9 L1322.1 856.9 L1324.0 853.6 L1325.9 868.9 L1328.4 871.8 L1330.4 891.7 L1332.1 891.9 L1333.9 905.5 L1336.2 906.2 L1338.5 920.8 L1340.3 911.6 L1342.3 917.7 L1344.5 912.4 L1346.9 919.7 L1349.3 912.6 L1351.5 921.7 L1353.2 913.1 L1355.3 922.1 L1357.0 914.6 L1358.9 922.4 L1361.2 916.5 L1363.1 923.4 L1365.5 919.2 L1368.0 929.8 L1369.8 927.0 L1371.8 936.9 L1373.8 932.8 L1376.0 941.8 L1378.0 941.0 L1380.5 949.2 L1382.9 950.8 L1385.1 959.2 L1387.0 957.0 L1389.3 969.6 L1391.1 967.0 L1393.4 975.4 L1395.9 973.2 L1398.0 984.8 L1399.9 980.4 L1401.6 987.3 L1403.7 981.3 L1406.2 988.3 L1408.0 979.9 L1409.7 983.7 L1412.2 976.9 L1413.9 982.4 L1416.4 971.1 L1418.8 975.9 L1420.7 964.2 L1422.7 970.3 L1424.4 961.1 L1426.7 960.8 L1428.8 954.3 L1430.7 958.1 L1432.8 949.5 L1435.0 957.4 L1437.4 948.3 L1439.4 952.4 L1441.3 944.7 L1443.8 951.0 L1446.1 943.8 L1448.0 954.8 L1449.9 946.3 L1451.8 956.7 L1454.2 954.8 L1456.1 962.9 L1458.3 961.5 L1460.1 968.2 L1462.3 967.3 L1464.7 974.8 L1466.9 969.2 L1469.2 974.1 L1470.9 967.2 L1472.8 977.1 L1474.9 971.2 L1477.1 978.8 L1479.3 978.3 L1481.4 990.0 L1483.1 987.5 L1484.8 997.8 L1486.9 991.3 L1488.9 1001.6 L1491.4 996.7 L1493.9 1006.2 L1495.6 1000.2 L1498.1 1008.2 L1500.2 1001.6 L1502.1 1014.7 L1503.8 1006.5 L1505.6 1018.3 L1507.8 1009.3 L1510.3 1018.7 L1512.3 1010.0 L1514.5 1023.8 L1516.2 1011.6 L1518.5 1019.1 L1520.5 1012.1 L1522.9 1014.4 L1524.8 1005.0 L1527.1 1012.8 L1528.9 1007.6 L1530.6 1016.7 L1532.5 1006.1 L1534.8 1017.4 L1537.2 1003.5 L1539.6 1013.5 L1541.8 1004.6 L1543.8 1015.0 L1546.3 1006.4 L1548.8 1017.5 L1550.9 1003.5 L1553.3 1015.7 L1555.0 1004.4 L1556.9 1016.0 L1558.6 1003.7 L1560.4 1016.7 L1562.9 1007.3 L1564.6 1017.5 L1567.1 1007.3 L1569.4 1015.1 L1571.1 1006.3 L1573.3 1016.2 L1575.4 1011.4 L1577.9 1024.7 L1579.8 1012.5 L1582.0 1023.9 L1584.2 1017.2 L1585.9 1028.5 L1588.2 1015.6 L1590.3 1023.8 L1592.8 1017.1 L1594.6 1022.3 L1596.8 1014.8 L1599.0 1020.7 L1600.7 1011.8 L1602.5 1022.9 L1604.2 1013.1 L1606.6 1025.4 L1608.4 1014.6 L1610.1 1025.4 L1612.1 1013.3 L1614.6 1024.8 L1616.6 1011.4 L1618.8 1018.8 L1620.6 1008.8 L1622.9 1019.0 L1625.4 1006.8 L1627.5 1015.7 L1629.3 1010.7 L1631.5 1017.6 L1633.6 1011.8 L1635.5 1017.8 L1637.7 1005.1 L1639.4 1014.5 L1642.0 1002.6 L1644.4 1012.5 L1646.3 1003.0 L1648.7 1012.2 L1650.9 997.8 L1653.3 1006.8 L1655.5 998.5 L1657.9 1007.2 L1659.7 1000.6 L1661.6 1005.9 L1663.6 998.8 L1665.6 1012.5 L1667.7 1003.7 L1669.8 1019.3 L1671.9 1009.0 L1674.2 1022.6 L1676.0 1009.7 L1677.7 1020.1 L1679.9 1013.6 L1681.6 1019.8 L1683.6 1010.7 L1685.4 1020.7 L1687.8 1012.6 L1690.2 1021.9 L1691.9 1009.1 L1693.7 1020.4" stroke="#a9532a" stroke-width="2.5" fill="none" stroke-linejoin="bevel"/>
<path d="M243.5 1007.5 L245.7 1019.3 L247.5 1010.0 L249.2 1020.6 L251.1 1007.8 L253.1 1022.7 L255.2 1009.5 L257.6 1019.4 L259.7 1007.6 L261.7 1020.2 L263.5 1003.2 L265.9 1020.6 L268.0 1001.3 L270.3 1017.6 L272.0 1007.4 L274.3 1016.7 L276.2 998.4 L278.2 1021.2 L280.1 1000.5 L282.4 1014.4 L284.6 996.7 L286.8 1015.9 L289.0 1005.0 L290.9 1021.8 L292.8 1003.1 L294.5 1013.2 L296.6 1003.4 L298.4 1016.7 L300.1 999.3 L301.8 1015.8 L304.0 1000.8 L305.9 1014.0 L307.8 998.4 L309.8 1010.9 L311.9 987.2 L313.9 1010.5 L315.6 992.4 L317.9 1002.6 L319.6 982.8 L321.5 1005.2 L323.7 982.5 L325.8 1004.3 L327.7 987.7 L330.0 1000.2 L332.3 983.1 L334.4 996.7 L336.8 984.3 L338.9 998.8 L340.7 980.1 L342.7 996.1 L344.8 986.2 L346.8 1004.3 L348.7 980.9 L350.8 997.0 L353.2 983.7 L355.6 998.4 L357.3 980.7 L359.4 995.9 L361.6 980.4 L364.0 999.2 L365.7 984.7 L367.3 991.7 L369.1 975.7 L371.1 994.0 L373.4 980.2 L375.2 992.5 L377.6 975.3 L379.2 993.8 L381.0 972.2 L382.9 993.6 L385.1 973.9 L386.8 985.8 L388.5 977.4 L390.2 986.2 L392.4 972.5 L394.0 984.0 L396.3 969.8 L398.1 982.0 L400.3 969.9 L402.4 985.3 L404.6 966.1 L406.6 978.4 L408.9 963.3 L410.5 970.7 L412.5 956.3 L414.6 967.3 L416.9 949.2 L418.9 962.1 L421.0 941.5 L422.9 951.5 L424.8 938.3 L426.5 957.1 L428.2 942.3 L430.4 953.1 L432.5 942.8 L434.9 958.7 L436.5 945.8 L438.7 968.9 L441.1 952.4 L442.9 963.3 L445.2 941.7 L447.3 963.2 L449.4 944.2 L451.4 956.0 L453.4 933.1 L455.8 947.1 L458.1 932.3 L459.8 938.6 L461.8 927.3 L464.2 938.7 L465.8 927.9 L467.7 941.3 L469.9 936.7 L472.3 956.1 L474.6 937.5 L476.9 953.6 L478.9 936.6 L480.8 952.5 L482.8 941.4 L484.9 948.1 L487.2 931.3 L489.5 938.9 L491.2 918.5 L493.3 933.0 L495.2 922.6 L497.6 935.9 L500.0 928.7 L502.3 943.7 L504.6 930.6 L506.7 943.0 L508.8 925.8 L511.1 939.1 L513.2 917.1 L515.1 941.4 L517.0 938.8 L519.0 954.3 L520.8 943.7 L522.8 963.9 L524.9 952.3 L526.9 964.2 L529.1 952.3 L531.4 969.8 L533.2 958.2 L535.5 969.7 L537.8 957.1 L539.9 970.6 L542.2 958.3 L544.1 970.4 L545.8 961.0 L547.5 976.7 L549.2 959.1 L551.5 975.9 L553.6 965.5 L555.5 975.0 L557.3 964.0 L559.2 980.8 L561.5 968.1 L563.2 976.9 L565.2 966.0 L566.9 976.9 L569.2 969.5 L571.3 976.5 L573.0 970.3 L575.0 976.0 L577.1 970.3 L579.2 977.3 L581.4 971.0 L583.4 981.2 L585.0 966.7 L587.3 978.2 L589.4 958.8 L591.7 974.2 L594.0 960.2 L596.1 969.4 L598.2 954.4 L599.8 972.0 L602.0 961.0 L603.8 973.6 L605.7 959.5 L607.7 977.3 L610.1 962.8 L611.8 975.4 L613.8 955.0 L615.9 973.3 L618.0 955.7 L619.7 965.7 L621.3 955.8 L623.5 961.1 L625.4 947.8 L627.5 966.4 L629.3 958.1 L631.3 979.3 L633.1 970.3 L634.9 982.7 L636.9 975.4 L638.9 979.3 L641.1 976.7 L642.7 980.5 L645.0 975.2 L647.2 977.1 L649.3 972.6 L651.5 976.7 L653.7 974.3 L656.0 977.6 L657.8 975.6 L659.8 977.8 L661.9 974.5 L664.0 979.8 L665.9 974.9 L667.9 980.3 L670.0 976.8 L671.6 979.0 L673.3 976.5 L675.0 979.3 L677.2 976.9 L679.4 980.4 L681.3 977.1 L683.3 981.2 L685.2 975.7 L686.9 980.7 L688.6 975.9 L690.2 979.7 L691.8 973.7 L694.1 982.0 L696.4 972.2 L698.2 977.4 L700.3 965.9 L702.6 978.5 L704.8 964.4 L706.8 974.8 L708.5 968.1 L710.7 973.3 L712.6 964.1 L714.4 979.7 L716.2 967.7 L718.1 981.1 L720.0 970.2 L722.0 982.5 L723.6 970.8 L725.9 978.0 L727.9 974.9 L730.2 979.4 L732.4 974.6 L734.5 975.6 L736.1 970.6 L737.9 972.6 L740.3 967.7 L742.1 970.0 L744.4 964.4 L746.7 968.9 L748.5 964.4 L750.2 968.0 L752.0 965.7 L753.9 971.6 L755.7 967.9 L757.4 973.5 L759.3 972.0 L761.1 976.5 L763.1 973.9 L764.8 979.1 L767.2 975.1 L769.3 980.6 L771.6 975.6 L773.3 978.7 L774.9 976.0 L776.8 979.6 L778.6 972.4 L780.8 976.3 L782.9 969.9 L784.9 971.6 L786.7 967.1 L788.9 968.5 L790.9 963.6 L792.5 965.5 L794.4 958.3 L796.1 961.5 L798.1 952.6 L800.1 958.4 L802.0 950.0 L804.1 960.6 L805.8 951.1 L807.8 960.0 L809.4 950.6 L811.6 964.3 L813.9 958.8 L815.5 960.4 L817.8 954.6 L819.9 955.1 L822.0 950.2 L824.0 950.4 L825.9 945.3 L827.7 946.9 L829.5 941.8 L831.5 943.2 L833.3 939.4 L835.6 940.4 L837.7 937.1 L839.5 938.9 L841.3 936.7 L843.2 937.4 L844.9 934.2 L847.1 935.0 L848.9 932.4 L851.2 933.2 L853.3 929.4 L855.5 929.0 L857.9 924.4 L859.9 924.3 L862.2 922.7 L864.0 924.0 L865.9 922.7 L868.1 923.7 L870.2 922.3 L872.0 924.1 L874.2 922.4 L876.3 923.8 L878.5 922.1 L880.4 923.1 L882.0 914.5 L883.8 911.6 L885.6 906.8 L888.0 903.2 L890.0 897.8 L891.7 895.6 L893.3 894.0 L895.2 897.8 L896.8 900.8 L898.5 911.4 L900.3 906.9 L901.9 905.4 L903.7 901.8 L905.8 901.6 L907.9 899.3 L910.1 899.2 L911.8 896.1 L913.5 897.1 L915.5 894.1 L917.7 893.5 L920.1 887.2 L921.7 885.7 L924.0 886.4 L926.0 892.3 L928.2 890.7 L930.4 887.8 L932.5 883.0 L934.7 884.0 L936.9 882.6 L938.7 884.1 L940.5 883.1 L942.8 884.0 L944.6 881.9 L946.4 882.2 L948.3 881.6 L950.3 884.8 L952.2 884.6 L954.3 887.3 L956.3 887.7 L958.4 885.6 L960.4 878.6 L962.3 876.5 L964.0 873.3 L966.4 872.4 L968.6 870.9 L970.6 873.0 L972.2 871.4 L974.6 875.8 L976.3 882.8 L978.1 892.8 L980.2 895.7 L982.3 902.9 L983.9 904.5 L985.5 909.6 L987.9 913.4 L990.2 916.1 L992.1 913.2 L994.4 912.9 L996.1 909.9 L998.4 908.9 L1000.7 904.5 L1002.8 902.9 L1004.8 902.3 L1007.2 907.5 L1008.9 909.5 L1010.5 913.7 L1012.5 915.3 L1014.5 919.7 L1016.7 918.8 L1018.6 921.6 L1020.4 916.1 L1022.1 913.3 L1023.9 907.8 L1026.3 903.4 L1028.7 896.0 L1030.6 893.2 L1032.7 890.6 L1034.9 891.8 L1036.8 890.5 L1038.9 890.5 L1041.2 884.1 L1043.2 876.6 L1045.5 863.5 L1047.3 863.6 L1049.6 857.8 L1051.9 857.6 L1054.0 851.3 L1055.8 852.5 L1057.7 845.7 L1059.6 850.3 L1061.3 843.1 L1063.0 846.2 L1065.2 817.6 L1067.0 807.3 L1068.8 794.7 L1070.7 765.2 L1072.3 740.6 L1074.5 724.5 L1076.6 699.0 L1078.3 692.7 L1080.6 700.9 L1082.6 715.2 L1084.6 702.8 L1086.5 694.0 L1088.8 674.6 L1090.7 695.2 L1092.4 691.6 L1094.2 690.3 L1096.4 675.9 L1098.1 672.8 L1100.5 661.9 L1102.6 656.9 L1104.7 648.3 L1106.7 643.5 L1108.8 626.6 L1111.0 577.6 L1113.3 521.5 L1115.7 523.5 L1117.4 525.7 L1119.1 549.3 L1120.8 600.0 L1122.4 642.8 L1124.6 660.1 L1126.3 678.2 L1128.2 693.1 L1130.2 714.0 L1131.8 703.2 L1133.7 690.9 L1135.6 674.8 L1137.6 666.8 L1139.5 668.7 L1141.5 676.5 L1143.4 679.1 L1145.7 661.9 L1148.1 634.9 L1150.0 617.0 L1151.7 596.6 L1153.3 596.9 L1155.0 606.9 L1157.4 626.2 L1159.4 637.2 L1161.6 653.8 L1163.6 665.4 L1165.5 678.9 L1167.7 693.3 L1169.6 710.4 L1171.7 723.2 L1173.5 728.4 L1175.4 717.3 L1177.3 709.2 L1179.6 695.3 L1181.8 690.0 L1184.0 692.9 L1185.7 697.7 L1187.9 700.6 L1190.1 706.7 L1191.9 709.9 L1193.8 716.0 L1195.9 719.9 L1197.6 721.8 L1199.3 719.5 L1201.3 720.9 L1203.3 717.7 L1205.6 719.9 L1207.9 717.3 L1209.6 718.3 L1211.4 715.1 L1213.4 717.1 L1215.8 714.3 L1218.1 714.9 L1219.9 712.2 L1221.9 712.5 L1224.0 709.9 L1225.7 711.1 L1227.5 707.6 L1229.6 708.3 L1231.2 704.7 L1233.6 706.3 L1235.4 705.4 L1237.3 709.5 L1239.7 710.0 L1241.8 713.8 L1244.0 714.6 L1246.3 722.6 L1248.5 725.7 L1250.3 731.7 L1252.2 735.3 L1254.3 742.5 L1256.3 744.6 L1258.3 751.9 L1260.0 755.4 L1261.9 761.8 L1264.0 765.8 L1266.1 773.7 L1268.3 777.9 L1269.9 785.0 L1272.1 783.3 L1274.4 783.1 L1276.2 780.1 L1278.2 780.4 L1279.8 776.1 L1281.5 776.9 L1283.8 772.6 L1285.8 772.0 L1288.1 767.4 L1290.2 770.9 L1292.1 767.4 L1294.1 769.9 L1296.4 767.7 L1298.1 777.9 L1300.2 784.7 L1302.4 796.6 L1304.5 799.6 L1306.1 802.9 L1308.4 802.5 L1310.4 805.9 L1312.3 804.6 L1314.2 808.8 L1316.5 813.6 L1318.8 822.1 L1320.8 824.4 L1322.8 832.4 L1325.1 838.0 L1327.4 851.6 L1329.1 858.1 L1331.2 870.1 L1332.9 881.6 L1335.1 901.8 L1337.5 910.7 L1339.6 912.2 L1341.7 909.4 L1343.9 911.0 L1345.9 907.4 L1348.1 907.3 L1350.0 903.6 L1352.0 905.8 L1354.1 901.0 L1356.4 903.4 L1358.1 903.2 L1360.1 908.1 L1362.2 909.5 L1363.9 914.1 L1365.5 913.7 L1367.1 919.3 L1369.2 920.6 L1371.5 927.4 L1373.5 928.8 L1375.3 934.7 L1377.2 936.7 L1379.3 943.2 L1380.9 941.7 L1383.1 946.2 L1385.3 944.5 L1387.3 947.1 L1389.5 945.3 L1391.6 951.3 L1393.8 953.7 L1395.5 961.8 L1397.7 963.6 L1399.5 971.6 L1401.4 973.7 L1403.7 977.3 L1405.9 974.6 L1407.6 977.5 L1409.5 975.9 L1411.7 976.5 L1413.9 969.9 L1415.6 970.6 L1417.5 965.4 L1419.1 966.7 L1421.3 959.7 L1423.6 959.4 L1425.9 952.0 L1428.0 957.6 L1430.0 953.4 L1431.8 956.7 L1434.2 948.9 L1436.3 950.6 L1438.0 942.9 L1439.7 948.5 L1441.8 943.1 L1443.6 946.9 L1445.8 940.6 L1447.9 946.7 L1450.0 942.8 L1452.0 948.1 L1454.4 948.3 L1456.8 959.9 L1458.5 956.7 L1460.4 959.9 L1462.5 956.8 L1464.9 964.7 L1466.6 960.3 L1468.6 967.2 L1470.8 964.1 L1472.7 970.5 L1475.1 969.6 L1477.3 976.8 L1479.5 978.7 L1481.8 989.1 L1483.6 986.6 L1485.7 994.6 L1487.3 991.8 L1489.0 997.1 L1491.3 992.9 L1493.5 1001.4 L1495.7 996.5 L1497.6 1002.4 L1500.0 998.5 L1501.9 1003.6 L1504.3 998.8 L1506.1 1005.4 L1507.8 999.6 L1510.1 1006.4 L1512.2 1001.5 L1514.3 1007.8 L1516.1 1000.5 L1518.5 1003.0 L1520.7 996.3 L1522.7 1003.8 L1524.6 1000.7 L1526.4 1005.5 L1528.3 1000.0 L1530.4 1009.3 L1532.0 1001.7 L1534.0 1008.5 L1535.7 1003.6 L1538.0 1011.0 L1540.3 1002.0 L1542.6 1008.0 L1544.8 1000.0 L1546.9 1007.7 L1548.6 998.5 L1550.4 1005.7 L1552.8 996.2 L1554.7 1002.1 L1556.8 991.3 L1559.0 995.2 L1560.7 988.7 L1562.6 995.4 L1564.9 991.1 L1567.0 1007.1 L1569.0 999.9 L1571.4 1012.8 L1573.1 1006.0 L1574.8 1016.7 L1576.6 1007.0 L1578.2 1015.8 L1580.2 1012.4 L1582.1 1020.0 L1584.0 1008.7 L1586.0 1013.5 L1588.2 1001.7 L1590.3 1013.9 L1592.2 1007.9 L1594.6 1018.2 L1597.0 1008.0 L1599.2 1012.5 L1601.4 1004.4 L1603.0 1010.7 L1605.0 1000.5 L1606.6 1009.9 L1608.9 999.2 L1611.2 1005.4 L1613.0 994.0 L1615.3 1002.5 L1617.5 995.7 L1619.9 1016.8 L1621.6 1007.5 L1623.3 1012.3 L1625.7 1008.0 L1627.9 1016.2 L1629.9 1007.4 L1631.8 1014.2 L1634.1 1004.8 L1635.7 1014.4 L1637.6 1007.5 L1639.9 1014.9 L1641.7 1001.3 L1643.6 1009.7 L1645.9 997.2 L1648.0 1010.3 L1650.3 996.8 L1652.2 1006.7 L1654.1 995.3 L1656.5 1006.1 L1658.4 996.8 L1660.1 1003.7 L1662.1 992.1 L1664.4 1000.2 L1666.7 988.0 L1669.1 995.9 L1670.7 989.9 L1672.6 993.8 L1674.4 986.8 L1676.8 994.5 L1678.6 984.5 L1680.7 991.3 L1682.9 981.8 L1685.2 996.3 L1687.1 985.0 L1688.8 993.0 L1691.2 986.4 L1693.5 997.3" stroke="#0c5aa3" stroke-width="2.5" fill="none" stroke-linejoin="bevel"/>
</g>
<path d="M366.7 91v14.5M366.7 1049v-14.5 M478.0 91v14.5M478.0 1049v-14.5 M601.3 91v14.5M601.3 1049v-14.5 M720.5 91v14.5M720.5 1049v-14.5 M843.8 91v14.5M843.8 1049v-14.5 M963.0 91v14.5M963.0 1049v-14.5 M1086.3 91v14.5M1086.3 1049v-14.5 M1209.5 91v14.5M1209.5 1049v-14.5 M1328.8 91v14.5M1328.8 1049v-14.5 M1452.0 91v14.5M1452.0 1049v-14.5 M1571.3 91v14.5M1571.3 1049v-14.5 M245 944.1h14.5M1693 944.1h-14.5 M245 837.2h14.5M1693 837.2h-14.5 M245 730.3h14.5M1693 730.3h-14.5 M245 623.4h14.5M1693 623.4h-14.5 M245 516.5h14.5M1693 516.5h-14.5 M245 409.6h14.5M1693 409.6h-14.5 M245 302.7h14.5M1693 302.7h-14.5 M245 195.8h14.5M1693 195.8h-14.5" stroke="#262626" stroke-width="3" fill="none"/>
<rect x="243.5" y="89.5" width="1451" height="961" stroke="#262626" stroke-width="3" fill="none"/>
<g transform="translate(479.9 858.4)"><path d="M-2.6 -5.4L2.6 -5.4L5.4 -2.6L5.4 2.6L2.6 5.4L-2.6 5.4L-5.4 2.6L-5.4 -2.6Z" fill="#90ee90" stroke="#b5541c" stroke-width="2"/><path d="M0 -5.8V-7.7M0 5.8V7.7M-5.8 0H-7.7M5.8 0H7.7" stroke="#b5541c" stroke-width="1.3"/></g>
<g transform="translate(479.2 997.4)"><path d="M-2.6 -5.4L2.6 -5.4L5.4 -2.6L5.4 2.6L2.6 5.4L-2.6 5.4L-5.4 2.6L-5.4 -2.6Z" fill="#90ee90" stroke="#b5541c" stroke-width="2"/><path d="M0 -5.8V-7.7M0 5.8V7.7M-5.8 0H-7.7M5.8 0H7.7" stroke="#b5541c" stroke-width="1.3"/></g>
<g transform="translate(483.4 1018.5)"><path d="M-2.6 -5.4L2.6 -5.4L5.4 -2.6L5.4 2.6L2.6 5.4L-2.6 5.4L-5.4 2.6L-5.4 -2.6Z" fill="#90ee90" stroke="#b5541c" stroke-width="2"/><path d="M0 -5.8V-7.7M0 5.8V7.7M-5.8 0H-7.7M5.8 0H7.7" stroke="#b5541c" stroke-width="1.3"/></g>
<g transform="translate(484.2 1029.1)"><path d="M-2.6 -5.4L2.6 -5.4L5.4 -2.6L5.4 2.6L2.6 5.4L-2.6 5.4L-5.4 2.6L-5.4 -2.6Z" fill="#90ee90" stroke="#b5541c" stroke-width="2"/><path d="M0 -5.8V-7.7M0 5.8V7.7M-5.8 0H-7.7M5.8 0H7.7" stroke="#b5541c" stroke-width="1.3"/></g>
<g transform="translate(623.4 1018.5)"><path d="M-2.6 -5.4L2.6 -5.4L5.4 -2.6L5.4 2.6L2.6 5.4L-2.6 5.4L-5.4 2.6L-5.4 -2.6Z" fill="#90ee90" stroke="#b5541c" stroke-width="2"/><path d="M0 -5.8V-7.7M0 5.8V7.7M-5.8 0H-7.7M5.8 0H7.7" stroke="#b5541c" stroke-width="1.3"/></g>
<g transform="translate(627.1 1029.1)"><path d="M-2.6 -5.4L2.6 -5.4L5.4 -2.6L5.4 2.6L2.6 5.4L-2.6 5.4L-5.4 2.6L-5.4 -2.6Z" fill="#90ee90" stroke="#b5541c" stroke-width="2"/><path d="M0 -5.8V-7.7M0 5.8V7.7M-5.8 0H-7.7M5.8 0H7.7" stroke="#b5541c" stroke-width="1.3"/></g>
<g transform="translate(742.8 901.5)"><path d="M-2.6 -5.4L2.6 -5.4L5.4 -2.6L5.4 2.6L2.6 5.4L-2.6 5.4L-5.4 2.6L-5.4 -2.6Z" fill="#90ee90" stroke="#b5541c" stroke-width="2"/><path d="M0 -5.8V-7.7M0 5.8V7.7M-5.8 0H-7.7M5.8 0H7.7" stroke="#b5541c" stroke-width="1.3"/></g>
<g transform="translate(742.8 1029.1)"><path d="M-2.6 -5.4L2.6 -5.4L5.4 -2.6L5.4 2.6L2.6 5.4L-2.6 5.4L-5.4 2.6L-5.4 -2.6Z" fill="#90ee90" stroke="#b5541c" stroke-width="2"/><path d="M0 -5.8V-7.7M0 5.8V7.7M-5.8 0H-7.7M5.8 0H7.7" stroke="#b5541c" stroke-width="1.3"/></g>
<g transform="translate(846.5 634)"><path d="M-2.6 -5.4L2.6 -5.4L5.4 -2.6L5.4 2.6L2.6 5.4L-2.6 5.4L-5.4 2.6L-5.4 -2.6Z" fill="#90ee90" stroke="#b5541c" stroke-width="2"/><path d="M0 -5.8V-7.7M0 5.8V7.7M-5.8 0H-7.7M5.8 0H7.7" stroke="#b5541c" stroke-width="1.3"/></g>
<g transform="translate(853.5 943.8)"><path d="M-2.6 -5.4L2.6 -5.4L5.4 -2.6L5.4 2.6L2.6 5.4L-2.6 5.4L-5.4 2.6L-5.4 -2.6Z" fill="#90ee90" stroke="#b5541c" stroke-width="2"/><path d="M0 -5.8V-7.7M0 5.8V7.7M-5.8 0H-7.7M5.8 0H7.7" stroke="#b5541c" stroke-width="1.3"/></g>
<g transform="translate(853.5 986.5)"><path d="M-2.6 -5.4L2.6 -5.4L5.4 -2.6L5.4 2.6L2.6 5.4L-2.6 5.4L-5.4 2.6L-5.4 -2.6Z" fill="#90ee90" stroke="#b5541c" stroke-width="2"/><path d="M0 -5.8V-7.7M0 5.8V7.7M-5.8 0H-7.7M5.8 0H7.7" stroke="#b5541c" stroke-width="1.3"/></g>
<g transform="translate(845.3 997.4)"><path d="M-2.6 -5.4L2.6 -5.4L5.4 -2.6L5.4 2.6L2.6 5.4L-2.6 5.4L-5.4 2.6L-5.4 -2.6Z" fill="#90ee90" stroke="#b5541c" stroke-width="2"/><path d="M0 -5.8V-7.7M0 5.8V7.7M-5.8 0H-7.7M5.8 0H7.7" stroke="#b5541c" stroke-width="1.3"/></g>
<g transform="translate(845.3 1008.1)"><path d="M-2.6 -5.4L2.6 -5.4L5.4 -2.6L5.4 2.6L2.6 5.4L-2.6 5.4L-5.4 2.6L-5.4 -2.6Z" fill="#90ee90" stroke="#b5541c" stroke-width="2"/><path d="M0 -5.8V-7.7M0 5.8V7.7M-5.8 0H-7.7M5.8 0H7.7" stroke="#b5541c" stroke-width="1.3"/></g>
<g transform="translate(854 1008.1)"><path d="M-2.6 -5.4L2.6 -5.4L5.4 -2.6L5.4 2.6L2.6 5.4L-2.6 5.4L-5.4 2.6L-5.4 -2.6Z" fill="#90ee90" stroke="#b5541c" stroke-width="2"/><path d="M0 -5.8V-7.7M0 5.8V7.7M-5.8 0H-7.7M5.8 0H7.7" stroke="#b5541c" stroke-width="1.3"/></g>
<g transform="translate(845.3 1018.3)"><path d="M-2.6 -5.4L2.6 -5.4L5.4 -2.6L5.4 2.6L2.6 5.4L-2.6 5.4L-5.4 2.6L-5.4 -2.6Z" fill="#90ee90" stroke="#b5541c" stroke-width="2"/><path d="M0 -5.8V-7.7M0 5.8V7.7M-5.8 0H-7.7M5.8 0H7.7" stroke="#b5541c" stroke-width="1.3"/></g>
<g transform="translate(854 1029.2)"><path d="M-2.6 -5.4L2.6 -5.4L5.4 -2.6L5.4 2.6L2.6 5.4L-2.6 5.4L-5.4 2.6L-5.4 -2.6Z" fill="#90ee90" stroke="#b5541c" stroke-width="2"/><path d="M0 -5.8V-7.7M0 5.8V7.7M-5.8 0H-7.7M5.8 0H7.7" stroke="#b5541c" stroke-width="1.3"/></g>
<g transform="translate(1040.1 495.3)"><path d="M-2.6 -5.4L2.6 -5.4L5.4 -2.6L5.4 2.6L2.6 5.4L-2.6 5.4L-5.4 2.6L-5.4 -2.6Z" fill="#90ee90" stroke="#b5541c" stroke-width="2"/><path d="M0 -5.8V-7.7M0 5.8V7.7M-5.8 0H-7.7M5.8 0H7.7" stroke="#b5541c" stroke-width="1.3"/></g>
<g transform="translate(1036.4 569.2)"><path d="M-2.6 -5.4L2.6 -5.4L5.4 -2.6L5.4 2.6L2.6 5.4L-2.6 5.4L-5.4 2.6L-5.4 -2.6Z" fill="#90ee90" stroke="#b5541c" stroke-width="2"/><path d="M0 -5.8V-7.7M0 5.8V7.7M-5.8 0H-7.7M5.8 0H7.7" stroke="#b5541c" stroke-width="1.3"/></g>
<g transform="translate(1040.1 655)"><path d="M-2.6 -5.4L2.6 -5.4L5.4 -2.6L5.4 2.6L2.6 5.4L-2.6 5.4L-5.4 2.6L-5.4 -2.6Z" fill="#90ee90" stroke="#b5541c" stroke-width="2"/><path d="M0 -5.8V-7.7M0 5.8V7.7M-5.8 0H-7.7M5.8 0H7.7" stroke="#b5541c" stroke-width="1.3"/></g>
<g transform="translate(1036.4 686.9)"><path d="M-2.6 -5.4L2.6 -5.4L5.4 -2.6L5.4 2.6L2.6 5.4L-2.6 5.4L-5.4 2.6L-5.4 -2.6Z" fill="#90ee90" stroke="#b5541c" stroke-width="2"/><path d="M0 -5.8V-7.7M0 5.8V7.7M-5.8 0H-7.7M5.8 0H7.7" stroke="#b5541c" stroke-width="1.3"/></g>
<g transform="translate(1036.4 698)"><path d="M-2.6 -5.4L2.6 -5.4L5.4 -2.6L5.4 2.6L2.6 5.4L-2.6 5.4L-5.4 2.6L-5.4 -2.6Z" fill="#90ee90" stroke="#b5541c" stroke-width="2"/><path d="M0 -5.8V-7.7M0 5.8V7.7M-5.8 0H-7.7M5.8 0H7.7" stroke="#b5541c" stroke-width="1.3"/></g>
<g transform="translate(1040.1 751.3)"><path d="M-2.6 -5.4L2.6 -5.4L5.4 -2.6L5.4 2.6L2.6 5.4L-2.6 5.4L-5.4 2.6L-5.4 -2.6Z" fill="#90ee90" stroke="#b5541c" stroke-width="2"/><path d="M0 -5.8V-7.7M0 5.8V7.7M-5.8 0H-7.7M5.8 0H7.7" stroke="#b5541c" stroke-width="1.3"/></g>
<g transform="translate(1040.1 793.6)"><path d="M-2.6 -5.4L2.6 -5.4L5.4 -2.6L5.4 2.6L2.6 5.4L-2.6 5.4L-5.4 2.6L-5.4 -2.6Z" fill="#90ee90" stroke="#b5541c" stroke-width="2"/><path d="M0 -5.8V-7.7M0 5.8V7.7M-5.8 0H-7.7M5.8 0H7.7" stroke="#b5541c" stroke-width="1.3"/></g>
<g transform="translate(1035.8 847.1)"><path d="M-2.6 -5.4L2.6 -5.4L5.4 -2.6L5.4 2.6L2.6 5.4L-2.6 5.4L-5.4 2.6L-5.4 -2.6Z" fill="#90ee90" stroke="#b5541c" stroke-width="2"/><path d="M0 -5.8V-7.7M0 5.8V7.7M-5.8 0H-7.7M5.8 0H7.7" stroke="#b5541c" stroke-width="1.3"/></g>
<g transform="translate(1040.6 847.1)"><path d="M-2.6 -5.4L2.6 -5.4L5.4 -2.6L5.4 2.6L2.6 5.4L-2.6 5.4L-5.4 2.6L-5.4 -2.6Z" fill="#90ee90" stroke="#b5541c" stroke-width="2"/><path d="M0 -5.8V-7.7M0 5.8V7.7M-5.8 0H-7.7M5.8 0H7.7" stroke="#b5541c" stroke-width="1.3"/></g>
<g transform="translate(1035.8 878.7)"><path d="M-2.6 -5.4L2.6 -5.4L5.4 -2.6L5.4 2.6L2.6 5.4L-2.6 5.4L-5.4 2.6L-5.4 -2.6Z" fill="#90ee90" stroke="#b5541c" stroke-width="2"/><path d="M0 -5.8V-7.7M0 5.8V7.7M-5.8 0H-7.7M5.8 0H7.7" stroke="#b5541c" stroke-width="1.3"/></g>
<g transform="translate(1040.6 901)"><path d="M-2.6 -5.4L2.6 -5.4L5.4 -2.6L5.4 2.6L2.6 5.4L-2.6 5.4L-5.4 2.6L-5.4 -2.6Z" fill="#90ee90" stroke="#b5541c" stroke-width="2"/><path d="M0 -5.8V-7.7M0 5.8V7.7M-5.8 0H-7.7M5.8 0H7.7" stroke="#b5541c" stroke-width="1.3"/></g>
<g transform="translate(1035.8 932.5)"><path d="M-2.6 -5.4L2.6 -5.4L5.4 -2.6L5.4 2.6L2.6 5.4L-2.6 5.4L-5.4 2.6L-5.4 -2.6Z" fill="#90ee90" stroke="#b5541c" stroke-width="2"/><path d="M0 -5.8V-7.7M0 5.8V7.7M-5.8 0H-7.7M5.8 0H7.7" stroke="#b5541c" stroke-width="1.3"/></g>
<g transform="translate(1035.8 943.7)"><path d="M-2.6 -5.4L2.6 -5.4L5.4 -2.6L5.4 2.6L2.6 5.4L-2.6 5.4L-5.4 2.6L-5.4 -2.6Z" fill="#90ee90" stroke="#b5541c" stroke-width="2"/><path d="M0 -5.8V-7.7M0 5.8V7.7M-5.8 0H-7.7M5.8 0H7.7" stroke="#b5541c" stroke-width="1.3"/></g>
<g transform="translate(1035.8 953.9)"><path d="M-2.6 -5.4L2.6 -5.4L5.4 -2.6L5.4 2.6L2.6 5.4L-2.6 5.4L-5.4 2.6L-5.4 -2.6Z" fill="#90ee90" stroke="#b5541c" stroke-width="2"/><path d="M0 -5.8V-7.7M0 5.8V7.7M-5.8 0H-7.7M5.8 0H7.7" stroke="#b5541c" stroke-width="1.3"/></g>
<g transform="translate(1035.8 1018)"><path d="M-2.6 -5.4L2.6 -5.4L5.4 -2.6L5.4 2.6L2.6 5.4L-2.6 5.4L-5.4 2.6L-5.4 -2.6Z" fill="#90ee90" stroke="#b5541c" stroke-width="2"/><path d="M0 -5.8V-7.7M0 5.8V7.7M-5.8 0H-7.7M5.8 0H7.7" stroke="#b5541c" stroke-width="1.3"/></g>
<g transform="translate(1091.9 238.2)"><path d="M-2.6 -5.4L2.6 -5.4L5.4 -2.6L5.4 2.6L2.6 5.4L-2.6 5.4L-5.4 2.6L-5.4 -2.6Z" fill="#90ee90" stroke="#b5541c" stroke-width="2"/><path d="M0 -5.8V-7.7M0 5.8V7.7M-5.8 0H-7.7M5.8 0H7.7" stroke="#b5541c" stroke-width="1.3"/></g>
<g transform="translate(1092.1 408.5)"><path d="M-2.6 -5.4L2.6 -5.4L5.4 -2.6L5.4 2.6L2.6 5.4L-2.6 5.4L-5.4 2.6L-5.4 -2.6Z" fill="#90ee90" stroke="#b5541c" stroke-width="2"/><path d="M0 -5.8V-7.7M0 5.8V7.7M-5.8 0H-7.7M5.8 0H7.7" stroke="#b5541c" stroke-width="1.3"/></g>
<g transform="translate(1096.5 440.6)"><path d="M-2.6 -5.4L2.6 -5.4L5.4 -2.6L5.4 2.6L2.6 5.4L-2.6 5.4L-5.4 2.6L-5.4 -2.6Z" fill="#90ee90" stroke="#b5541c" stroke-width="2"/><path d="M0 -5.8V-7.7M0 5.8V7.7M-5.8 0H-7.7M5.8 0H7.7" stroke="#b5541c" stroke-width="1.3"/></g>
<g transform="translate(1094.8 452.5)"><path d="M-2.6 -5.4L2.6 -5.4L5.4 -2.6L5.4 2.6L2.6 5.4L-2.6 5.4L-5.4 2.6L-5.4 -2.6Z" fill="#90ee90" stroke="#b5541c" stroke-width="2"/><path d="M0 -5.8V-7.7M0 5.8V7.7M-5.8 0H-7.7M5.8 0H7.7" stroke="#b5541c" stroke-width="1.3"/></g>
<g transform="translate(1092.1 484)"><path d="M-2.6 -5.4L2.6 -5.4L5.4 -2.6L5.4 2.6L2.6 5.4L-2.6 5.4L-5.4 2.6L-5.4 -2.6Z" fill="#90ee90" stroke="#b5541c" stroke-width="2"/><path d="M0 -5.8V-7.7M0 5.8V7.7M-5.8 0H-7.7M5.8 0H7.7" stroke="#b5541c" stroke-width="1.3"/></g>
<g transform="translate(1096.5 515.8)"><path d="M-2.6 -5.4L2.6 -5.4L5.4 -2.6L5.4 2.6L2.6 5.4L-2.6 5.4L-5.4 2.6L-5.4 -2.6Z" fill="#90ee90" stroke="#b5541c" stroke-width="2"/><path d="M0 -5.8V-7.7M0 5.8V7.7M-5.8 0H-7.7M5.8 0H7.7" stroke="#b5541c" stroke-width="1.3"/></g>
<g transform="translate(1092.1 527)"><path d="M-2.6 -5.4L2.6 -5.4L5.4 -2.6L5.4 2.6L2.6 5.4L-2.6 5.4L-5.4 2.6L-5.4 -2.6Z" fill="#90ee90" stroke="#b5541c" stroke-width="2"/><path d="M0 -5.8V-7.7M0 5.8V7.7M-5.8 0H-7.7M5.8 0H7.7" stroke="#b5541c" stroke-width="1.3"/></g>
<g transform="translate(1090.8 559.2)"><path d="M-2.6 -5.4L2.6 -5.4L5.4 -2.6L5.4 2.6L2.6 5.4L-2.6 5.4L-5.4 2.6L-5.4 -2.6Z" fill="#90ee90" stroke="#b5541c" stroke-width="2"/><path d="M0 -5.8V-7.7M0 5.8V7.7M-5.8 0H-7.7M5.8 0H7.7" stroke="#b5541c" stroke-width="1.3"/></g>
<g transform="translate(1096.5 569.3)"><path d="M-2.6 -5.4L2.6 -5.4L5.4 -2.6L5.4 2.6L2.6 5.4L-2.6 5.4L-5.4 2.6L-5.4 -2.6Z" fill="#90ee90" stroke="#b5541c" stroke-width="2"/><path d="M0 -5.8V-7.7M0 5.8V7.7M-5.8 0H-7.7M5.8 0H7.7" stroke="#b5541c" stroke-width="1.3"/></g>
<g transform="translate(1092.1 623.5)"><path d="M-2.6 -5.4L2.6 -5.4L5.4 -2.6L5.4 2.6L2.6 5.4L-2.6 5.4L-5.4 2.6L-5.4 -2.6Z" fill="#90ee90" stroke="#b5541c" stroke-width="2"/><path d="M0 -5.8V-7.7M0 5.8V7.7M-5.8 0H-7.7M5.8 0H7.7" stroke="#b5541c" stroke-width="1.3"/></g>
<g transform="translate(1094.8 643.8)"><path d="M-2.6 -5.4L2.6 -5.4L5.4 -2.6L5.4 2.6L2.6 5.4L-2.6 5.4L-5.4 2.6L-5.4 -2.6Z" fill="#90ee90" stroke="#b5541c" stroke-width="2"/><path d="M0 -5.8V-7.7M0 5.8V7.7M-5.8 0H-7.7M5.8 0H7.7" stroke="#b5541c" stroke-width="1.3"/></g>
<g transform="translate(1096.5 707.5)"><path d="M-2.6 -5.4L2.6 -5.4L5.4 -2.6L5.4 2.6L2.6 5.4L-2.6 5.4L-5.4 2.6L-5.4 -2.6Z" fill="#90ee90" stroke="#b5541c" stroke-width="2"/><path d="M0 -5.8V-7.7M0 5.8V7.7M-5.8 0H-7.7M5.8 0H7.7" stroke="#b5541c" stroke-width="1.3"/></g>
<g transform="translate(1096.5 718.3)"><path d="M-2.6 -5.4L2.6 -5.4L5.4 -2.6L5.4 2.6L2.6 5.4L-2.6 5.4L-5.4 2.6L-5.4 -2.6Z" fill="#90ee90" stroke="#b5541c" stroke-width="2"/><path d="M0 -5.8V-7.7M0 5.8V7.7M-5.8 0H-7.7M5.8 0H7.7" stroke="#b5541c" stroke-width="1.3"/></g>
<g transform="translate(1092 730)"><path d="M-2.6 -5.4L2.6 -5.4L5.4 -2.6L5.4 2.6L2.6 5.4L-2.6 5.4L-5.4 2.6L-5.4 -2.6Z" fill="#90ee90" stroke="#b5541c" stroke-width="2"/><path d="M0 -5.8V-7.7M0 5.8V7.7M-5.8 0H-7.7M5.8 0H7.7" stroke="#b5541c" stroke-width="1.3"/></g>
<g transform="translate(1092.1 793.5)"><path d="M-2.6 -5.4L2.6 -5.4L5.4 -2.6L5.4 2.6L2.6 5.4L-2.6 5.4L-5.4 2.6L-5.4 -2.6Z" fill="#90ee90" stroke="#b5541c" stroke-width="2"/><path d="M0 -5.8V-7.7M0 5.8V7.7M-5.8 0H-7.7M5.8 0H7.7" stroke="#b5541c" stroke-width="1.3"/></g>
<g transform="translate(1235.4 965.1)"><path d="M-2.6 -5.4L2.6 -5.4L5.4 -2.6L5.4 2.6L2.6 5.4L-2.6 5.4L-5.4 2.6L-5.4 -2.6Z" fill="#90ee90" stroke="#b5541c" stroke-width="2"/><path d="M0 -5.8V-7.7M0 5.8V7.7M-5.8 0H-7.7M5.8 0H7.7" stroke="#b5541c" stroke-width="1.3"/></g>
<g transform="translate(1234.4 1017.7)"><path d="M-2.6 -5.4L2.6 -5.4L5.4 -2.6L5.4 2.6L2.6 5.4L-2.6 5.4L-5.4 2.6L-5.4 -2.6Z" fill="#90ee90" stroke="#b5541c" stroke-width="2"/><path d="M0 -5.8V-7.7M0 5.8V7.7M-5.8 0H-7.7M5.8 0H7.7" stroke="#b5541c" stroke-width="1.3"/></g>
<g transform="translate(1235.4 1028.9)"><path d="M-2.6 -5.4L2.6 -5.4L5.4 -2.6L5.4 2.6L2.6 5.4L-2.6 5.4L-5.4 2.6L-5.4 -2.6Z" fill="#90ee90" stroke="#b5541c" stroke-width="2"/><path d="M0 -5.8V-7.7M0 5.8V7.7M-5.8 0H-7.7M5.8 0H7.7" stroke="#b5541c" stroke-width="1.3"/></g>
<g transform="translate(1417.2 1017.7)"><path d="M-2.6 -5.4L2.6 -5.4L5.4 -2.6L5.4 2.6L2.6 5.4L-2.6 5.4L-5.4 2.6L-5.4 -2.6Z" fill="#90ee90" stroke="#b5541c" stroke-width="2"/><path d="M0 -5.8V-7.7M0 5.8V7.7M-5.8 0H-7.7M5.8 0H7.7" stroke="#b5541c" stroke-width="1.3"/></g>
<g transform="translate(1604.4 1018.5)"><path d="M-2.6 -5.4L2.6 -5.4L5.4 -2.6L5.4 2.6L2.6 5.4L-2.6 5.4L-5.4 2.6L-5.4 -2.6Z" fill="#90ee90" stroke="#b5541c" stroke-width="2"/><path d="M0 -5.8V-7.7M0 5.8V7.7M-5.8 0H-7.7M5.8 0H7.7" stroke="#b5541c" stroke-width="1.3"/></g>
<path d="M1084.2 87H1104V91H1084.2Z M1091.1 81H1097.9V98H1091.1Z" fill="#000"/>
<g transform="translate(853.5 976.3)"><path d="M-2.6 -5.4L2.6 -5.4L5.4 -2.6L5.4 2.6L2.6 5.4L-2.6 5.4L-5.4 2.6L-5.4 -2.6Z" fill="#90ee90" stroke="#0c5aa3" stroke-width="2"/><path d="M0 -5.8V-7.7M0 5.8V7.7M-5.8 0H-7.7M5.8 0H7.7" stroke="#0c5aa3" stroke-width="1.3"/></g>
<g transform="translate(1040.6 1018)"><path d="M-2.6 -5.4L2.6 -5.4L5.4 -2.6L5.4 2.6L2.6 5.4L-2.6 5.4L-5.4 2.6L-5.4 -2.6Z" fill="#90ee90" stroke="#0c5aa3" stroke-width="2"/><path d="M0 -5.8V-7.7M0 5.8V7.7M-5.8 0H-7.7M5.8 0H7.7" stroke="#0c5aa3" stroke-width="1.3"/></g>
<g transform="translate(1095.5 730.2)"><path d="M-2.6 -5.4L2.6 -5.4L5.4 -2.6L5.4 2.6L2.6 5.4L-2.6 5.4L-5.4 2.6L-5.4 -2.6Z" fill="#90ee90" stroke="#0c5aa3" stroke-width="2"/><path d="M0 -5.8V-7.7M0 5.8V7.7M-5.8 0H-7.7M5.8 0H7.7" stroke="#0c5aa3" stroke-width="1.3"/></g>
<path d="M301.6 1026.1L286.8 1048.6H316.40000000000003Z" fill="#f77fbe" stroke="#0c5aa3" stroke-width="2" stroke-linejoin="miter"/>
<path d="M301.6 1003.8L286.8 1026.3H316.40000000000003Z" fill="#f77fbe" stroke="#0c5aa3" stroke-width="2" stroke-linejoin="miter"/>
<path d="M301.6 1015.1L286.8 1037.6H316.40000000000003Z" fill="#f77fbe" stroke="#0c5aa3" stroke-width="2" stroke-linejoin="miter"/>
<text transform="matrix(0.935 0 0 1 227 1065.3)" text-anchor="end" font-family="Liberation Serif" font-size="39.5" fill="#262626">0</text>
<text transform="matrix(0.935 0 0 1 227 958.4)" text-anchor="end" font-family="Liberation Serif" font-size="39.5" fill="#262626">0.01</text>
<text transform="matrix(0.935 0 0 1 227 851.5)" text-anchor="end" font-family="Liberation Serif" font-size="39.5" fill="#262626">0.02</text>
<text transform="matrix(0.935 0 0 1 227 744.6)" text-anchor="end" font-family="Liberation Serif" font-size="39.5" fill="#262626">0.03</text>
<text transform="matrix(0.935 0 0 1 227 637.7)" text-anchor="end" font-family="Liberation Serif" font-size="39.5" fill="#262626">0.04</text>
<text transform="matrix(0.935 0 0 1 227 530.8)" text-anchor="end" font-family="Liberation Serif" font-size="39.5" fill="#262626">0.05</text>
<text transform="matrix(0.935 0 0 1 227 423.9)" text-anchor="end" font-family="Liberation Serif" font-size="39.5" fill="#262626">0.06</text>
<text transform="matrix(0.935 0 0 1 227 317.0)" text-anchor="end" font-family="Liberation Serif" font-size="39.5" fill="#262626">0.07</text>
<text transform="matrix(0.935 0 0 1 227 210.1)" text-anchor="end" font-family="Liberation Serif" font-size="39.5" fill="#262626">0.08</text>
<text transform="matrix(0.935 0 0 1 227 103.2)" text-anchor="end" font-family="Liberation Serif" font-size="39.5" fill="#262626">0.09</text>
<text x="259.0" y="1097" text-anchor="end" transform="rotate(-30 259.0 1097)" font-family="Liberation Serif" font-size="37" fill="#262626">01/01/21</text>
<text x="382.2" y="1097" text-anchor="end" transform="rotate(-30 382.2 1097)" font-family="Liberation Serif" font-size="37" fill="#262626">01/02/21</text>
<text x="493.5" y="1097" text-anchor="end" transform="rotate(-30 493.5 1097)" font-family="Liberation Serif" font-size="37" fill="#262626">01/03/21</text>
<text x="616.8" y="1097" text-anchor="end" transform="rotate(-30 616.8 1097)" font-family="Liberation Serif" font-size="37" fill="#262626">01/04/21</text>
<text x="736.0" y="1097" text-anchor="end" transform="rotate(-30 736.0 1097)" font-family="Liberation Serif" font-size="37" fill="#262626">01/05/21</text>
<text x="859.3" y="1097" text-anchor="end" transform="rotate(-30 859.3 1097)" font-family="Liberation Serif" font-size="37" fill="#262626">01/06/21</text>
<text x="978.5" y="1097" text-anchor="end" transform="rotate(-30 978.5 1097)" font-family="Liberation Serif" font-size="37" fill="#262626">01/07/21</text>
<text x="1101.8" y="1097" text-anchor="end" transform="rotate(-30 1101.8 1097)" font-family="Liberation Serif" font-size="37" fill="#262626">01/08/21</text>
<text x="1225.0" y="1097" text-anchor="end" transform="rotate(-30 1225.0 1097)" font-family="Liberation Serif" font-size="37" fill="#262626">01/09/21</text>
<text x="1344.3" y="1097" text-anchor="end" transform="rotate(-30 1344.3 1097)" font-family="Liberation Serif" font-size="37" fill="#262626">01/10/21</text>
<text x="1467.5" y="1097" text-anchor="end" transform="rotate(-30 1467.5 1097)" font-family="Liberation Serif" font-size="37" fill="#262626">01/11/21</text>
<text x="1586.8" y="1097" text-anchor="end" transform="rotate(-30 1586.8 1097)" font-family="Liberation Serif" font-size="37" fill="#262626">01/12/21</text>
<text x="1710.0" y="1097" text-anchor="end" transform="rotate(-30 1710.0 1097)" font-family="Liberation Serif" font-size="37" fill="#262626">01/01/22</text>
<text x="141" y="571" text-anchor="middle" transform="rotate(-90 141 571)" font-family="Liberation Serif" font-size="41" fill="#262626">Nitrate (mg/L)</text>
<text x="969" y="77.5" text-anchor="middle" font-family="Liberation Serif" font-weight="bold" font-size="41.5" fill="#000">CS Region</text>
<rect x="1748.5" y="87.8" width="435" height="396" stroke="#262626" stroke-width="3" fill="#fff"/>
<rect x="1761" y="102" width="126" height="22" fill="#b3d4e8"/>
<rect x="1761" y="142.5" width="126" height="22.5" fill="#edf2fa"/>
<rect x="1761" y="183" width="126" height="22" fill="#fcc4ac"/>
<rect x="1761" y="223" width="126" height="22.5" fill="#fdf0e3"/>
<path d="M1761 270.5H1887" stroke="#a9532a" stroke-width="3"/>
<path d="M1761 398.3H1887" stroke="#0c5aa3" stroke-width="3"/>
<g transform="translate(1823.5 302.6)"><path d="M-2.6 -5.4L2.6 -5.4L5.4 -2.6L5.4 2.6L2.6 5.4L-2.6 5.4L-5.4 2.6L-5.4 -2.6Z" fill="#90ee90" stroke="#b5541c" stroke-width="1.8"/><path d="M0 -5.8V-7.5M0 5.8V7.5M-5.8 0H-7.5M5.8 0H7.5" stroke="#b5541c" stroke-width="1.2"/></g>
<g transform="translate(1823.5 430.5)"><path d="M-2.6 -5.4L2.6 -5.4L5.4 -2.6L5.4 2.6L2.6 5.4L-2.6 5.4L-5.4 2.6L-5.4 -2.6Z" fill="#90ee90" stroke="#0c5aa3" stroke-width="1.8"/><path d="M0 -5.8V-7.5M0 5.8V7.5M-5.8 0H-7.5M5.8 0H7.5" stroke="#0c5aa3" stroke-width="1.2"/></g>
<path d="M1815 334.8H1832M1823.8 326.5V343" stroke="#000" stroke-width="3.8"/>
<path d="M1823.5 351L1808.8 374.6H1838.2Z" fill="#f77fbe" stroke="#b5541c" stroke-width="1.6"/>
<path d="M1823.5 447L1808.8 470.6H1838.2Z" fill="#f77fbe" stroke="#0c5aa3" stroke-width="1.6"/>
<text x="1896" y="125.9" font-family="Liberation Serif" font-size="25" fill="#000">csiem1.7.0 (Bot 25<tspan font-size="18.5" dy="-13">th</tspan><tspan dy="13" dx="2.5">-75</tspan><tspan font-size="18.5" dy="-13">th</tspan><tspan dy="13" dx="2.5">)</tspan></text>
<text x="1896" y="166.8" font-family="Liberation Serif" font-size="25" fill="#000">csiem1.7.0 (Bot 5<tspan font-size="18.5" dy="-13">th</tspan><tspan dy="13" dx="2.5">-95</tspan><tspan font-size="18.5" dy="-13">th</tspan><tspan dy="13" dx="2.5">)</tspan></text>
<text x="1896" y="207.0" font-family="Liberation Serif" font-size="25" fill="#000">csiem1.7.0 (Surf 25<tspan font-size="18.5" dy="-13">th</tspan><tspan dy="13" dx="2.5">-75</tspan><tspan font-size="18.5" dy="-13">th</tspan><tspan dy="13" dx="2.5">)</tspan></text>
<text x="1896" y="247.5" font-family="Liberation Serif" font-size="25" fill="#000">csiem1.7.0 (Surf 5<tspan font-size="18.5" dy="-13">th</tspan><tspan dy="13" dx="2.5">-95</tspan><tspan font-size="18.5" dy="-13">th</tspan><tspan dy="13" dx="2.5">)</tspan></text>
<text x="1896" y="279.0" font-family="Liberation Serif" font-size="25" fill="#000">csiem1.7.0 (Surf Median)</text>
<text x="1896" y="311.2" font-family="Liberation Serif" font-size="25" fill="#000">DWER-CSMWQ (Surf)</text>
<text x="1896" y="343.3" font-family="Liberation Serif" font-size="25" fill="#000">Outside Range (Surf)</text>
<text x="1896" y="375.4" font-family="Liberation Serif" font-size="25" fill="#000">FPA-MQMP (Surf)</text>
<text x="1896" y="407.0" font-family="Liberation Serif" font-size="25" fill="#000">csiem1.7.0 (Bot Median)</text>
<text x="1896" y="438.7" font-family="Liberation Serif" font-size="25" fill="#000">DWER-CSMWQ (Bot)</text>
<text x="1896" y="470.8" font-family="Liberation Serif" font-size="25" fill="#000">FPA-MQMP (Bot)</text>
<rect x="1747" y="768" width="264.5" height="261.5" stroke="#000" stroke-width="2" fill="#fff"/>
<text x="1768.5" y="802.7" font-family="Liberation Serif" font-size="25" font-weight="bold" fill="#000">Model skill metrics:</text>
<text y="831.1" font-family="Liberation Serif" font-size="25" fill="#000"><tspan x="1781">R</tspan><tspan x="1821.8">=</tspan><tspan x="1843.1">0.9325</tspan></text>
<text y="860.8" font-family="Liberation Serif" font-size="25" fill="#000"><tspan x="1781">BIAS</tspan><tspan x="1844.3">=</tspan><tspan x="1864.5">0.75%</tspan></text>
<text y="889.2" font-family="Liberation Serif" font-size="25" fill="#000"><tspan x="1781">MAE</tspan><tspan x="1849">=</tspan><tspan x="1869.9">0.0041</tspan></text>
<text y="918.4" font-family="Liberation Serif" font-size="25" fill="#000"><tspan x="1781">RMS</tspan><tspan x="1846">=</tspan><tspan x="1866.8">0.0086</tspan></text>
<text y="947.3" font-family="Liberation Serif" font-size="25" fill="#000"><tspan x="1781">NMAE</tspan><tspan x="1859.7">=</tspan><tspan x="1881.5">20.68%</tspan></text>
<text y="976.2" font-family="Liberation Serif" font-size="25" fill="#000"><tspan x="1781">NRMS</tspan><tspan x="1857.4">=</tspan><tspan x="1878.7">42.95%</tspan></text>
<text y="1004.9" font-family="Liberation Serif" font-size="25" fill="#000"><tspan x="1781">MEF</tspan><tspan x="1844.3">=</tspan><tspan x="1865.7">0.8653</tspan></text>
</svg></body></html>
